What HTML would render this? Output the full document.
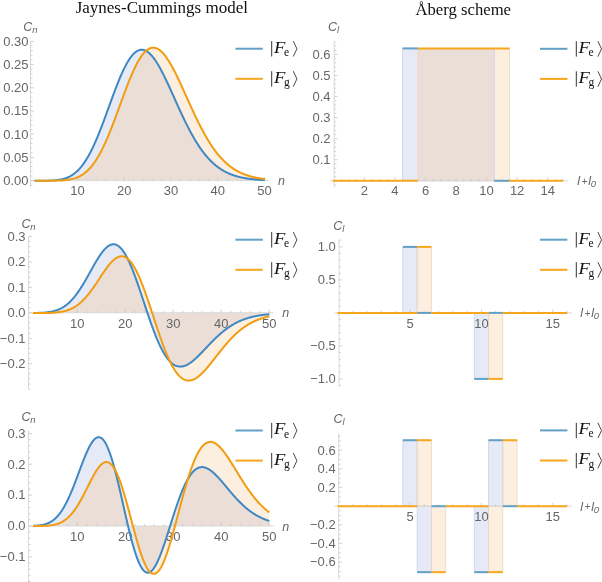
<!DOCTYPE html>
<html><head><meta charset="utf-8"><title>JC vs Aberg</title><style>
body{margin:0;background:#fff;}
svg{display:block;filter:blur(0.35px)}
.tk{font-family:"Liberation Sans",sans-serif;font-size:13px;fill:#666;}
.title{font-family:"Liberation Serif",serif;font-size:16.5px;fill:#111;}
.axl{font-family:"Liberation Sans",sans-serif;font-style:italic;font-size:12.5px;fill:#666;}
.axl2{font-family:"Liberation Sans",sans-serif;font-size:10px;fill:#666;}
.axs{font-family:"Liberation Sans",sans-serif;font-style:italic;font-size:9.5px;fill:#666;}
.lgF{font-family:"Liberation Serif",serif;font-style:italic;font-size:16px;fill:#111;}
.lgs{font-family:"Liberation Serif",serif;font-size:11.5px;fill:#111;}
</style></head>
<body><svg width="602" height="582" viewBox="0 0 602 582">
<rect width="602" height="582" fill="#fff"/>
<text x="75.7" y="12.9" textLength="172.2" lengthAdjust="spacingAndGlyphs" class="title">Jaynes-Cummings model</text>
<text x="415.5" y="14.5" textLength="95.5" lengthAdjust="spacingAndGlyphs" class="title">Åberg scheme</text>
<clipPath id="clipP1"><path d="M34.60,180.72 L35.10,180.72 L35.60,180.73 L36.10,180.73 L36.60,180.73 L37.10,180.73 L37.60,180.73 L38.10,180.73 L38.60,180.73 L39.10,180.73 L39.60,180.73 L40.10,180.73 L40.60,180.73 L41.10,180.73 L41.60,180.73 L42.10,180.73 L42.60,180.73 L43.10,180.73 L43.60,180.73 L44.10,180.72 L44.60,180.72 L45.10,180.71 L45.60,180.71 L46.10,180.70 L46.60,180.70 L47.10,180.69 L47.60,180.68 L48.10,180.67 L48.60,180.65 L49.10,180.64 L49.60,180.63 L50.10,180.61 L50.60,180.59 L51.10,180.57 L51.60,180.55 L52.10,180.52 L52.60,180.49 L53.10,180.46 L53.60,180.43 L54.10,180.39 L54.60,180.35 L55.10,180.31 L55.60,180.26 L56.10,180.21 L56.60,180.16 L57.10,180.10 L57.60,180.04 L58.10,179.97 L58.60,179.90 L59.10,179.82 L59.60,179.74 L60.10,179.65 L60.60,179.56 L61.10,179.46 L61.60,179.35 L62.10,179.24 L62.60,179.12 L63.10,178.99 L63.60,178.86 L64.10,178.71 L64.60,178.56 L65.10,178.40 L65.60,178.23 L66.10,178.05 L66.60,177.87 L67.10,177.67 L67.60,177.46 L68.10,177.25 L68.60,177.02 L69.10,176.78 L69.60,176.53 L70.10,176.27 L70.60,175.99 L71.10,175.70 L71.60,175.40 L72.10,175.09 L72.60,174.76 L73.10,174.42 L73.60,174.07 L74.10,173.70 L74.60,173.32 L75.10,172.92 L75.60,172.51 L76.10,172.08 L76.60,171.63 L77.10,171.17 L77.60,170.70 L78.10,170.20 L78.60,169.69 L79.10,169.16 L79.60,168.62 L80.10,168.05 L80.60,167.47 L81.10,166.87 L81.60,166.26 L82.10,165.62 L82.60,164.97 L83.10,164.30 L83.60,163.60 L84.10,162.89 L84.60,162.16 L85.10,161.42 L85.60,160.65 L86.10,159.86 L86.60,159.06 L87.10,158.23 L87.60,157.39 L88.10,156.52 L88.60,155.64 L89.10,154.74 L89.60,153.82 L90.10,152.88 L90.60,151.92 L91.10,150.94 L91.60,149.95 L92.10,148.94 L92.60,147.90 L93.10,146.86 L93.60,145.79 L94.10,144.70 L94.60,143.60 L95.10,142.49 L95.60,141.35 L96.10,140.20 L96.60,139.04 L97.10,137.86 L97.60,136.66 L98.10,135.45 L98.60,134.23 L99.10,132.99 L99.60,131.74 L100.10,130.48 L100.60,129.20 L101.10,127.92 L101.60,126.62 L102.10,125.31 L102.60,124.00 L103.10,122.67 L103.60,121.34 L104.10,120.00 L104.60,118.65 L105.10,117.29 L105.60,115.93 L106.10,114.57 L106.60,113.20 L107.10,111.83 L107.60,110.45 L108.10,109.07 L108.60,107.69 L109.10,106.31 L109.60,104.94 L110.10,103.56 L110.60,102.18 L111.10,100.81 L111.60,99.44 L112.10,98.07 L112.60,96.71 L113.10,95.36 L113.60,94.01 L114.10,92.67 L114.60,91.33 L115.10,90.01 L115.60,88.69 L116.10,87.39 L116.60,86.10 L117.10,84.82 L117.60,83.55 L118.10,82.30 L118.60,81.06 L119.10,79.83 L119.60,78.62 L120.10,77.43 L120.60,76.26 L121.10,75.10 L121.60,73.96 L122.10,72.85 L122.60,71.75 L123.10,70.67 L123.60,69.61 L124.10,68.58 L124.60,67.57 L125.10,66.58 L125.60,65.62 L126.10,64.68 L126.60,63.76 L127.10,62.87 L127.60,62.01 L128.10,61.17 L128.60,60.36 L129.10,59.58 L129.60,58.83 L130.10,58.10 L130.60,57.40 L131.10,56.73 L131.60,56.09 L132.10,55.48 L132.60,54.90 L133.10,54.35 L133.60,53.83 L134.10,53.34 L134.60,52.88 L135.10,52.45 L135.60,52.05 L136.10,51.69 L136.60,51.35 L137.10,51.05 L137.60,50.78 L138.10,50.54 L138.60,50.33 L139.10,50.15 L139.60,50.01 L140.10,49.89 L140.60,49.81 L141.10,49.76 L141.60,49.74 L142.10,49.75 L142.60,49.79 L143.10,49.86 L143.60,49.97 L144.10,50.10 L144.60,50.26 L145.10,50.46 L145.60,50.68 L146.10,50.93 L146.60,51.21 L147.10,51.52 L147.60,51.86 L148.10,52.22 L148.60,52.62 L149.10,53.04 L149.60,53.48 L150.10,53.96 L150.60,54.46 L151.10,54.98 L151.60,55.53 L152.10,56.11 L152.60,56.71 L153.10,57.33 L153.60,57.97 L154.10,58.64 L154.60,59.33 L155.10,60.04 L155.60,60.78 L156.10,61.53 L156.60,62.30 L157.10,63.09 L157.60,63.91 L158.10,64.74 L158.60,65.58 L159.10,66.45 L159.60,67.33 L160.10,68.23 L160.60,69.14 L161.10,70.07 L161.60,71.01 L162.10,71.96 L162.60,72.93 L163.10,73.91 L163.60,74.91 L164.10,75.91 L164.60,76.92 L165.10,77.95 L165.60,78.98 L166.10,80.03 L166.60,81.08 L167.10,82.14 L167.60,83.21 L168.10,84.28 L168.60,85.36 L169.10,86.45 L169.60,87.54 L170.10,88.64 L170.60,89.74 L171.10,90.84 L171.60,91.95 L172.10,93.06 L172.60,94.17 L173.10,95.28 L173.60,96.40 L174.10,97.51 L174.60,98.63 L175.10,99.74 L175.60,100.86 L176.10,101.97 L176.60,103.08 L177.10,104.19 L177.60,105.30 L178.10,106.40 L178.60,107.50 L179.10,108.60 L179.60,109.69 L180.10,110.78 L180.60,111.86 L181.10,112.94 L181.60,114.02 L182.10,115.08 L182.60,116.15 L183.10,117.20 L183.60,118.25 L184.10,119.29 L184.60,120.33 L185.10,121.36 L185.60,122.38 L186.10,123.39 L186.60,124.39 L187.10,125.39 L187.60,126.38 L188.10,127.35 L188.60,128.32 L189.10,129.28 L189.60,130.23 L190.10,131.18 L190.60,132.11 L191.10,133.03 L191.60,133.94 L192.10,134.84 L192.60,135.74 L193.10,136.62 L193.60,137.49 L194.10,138.35 L194.60,139.20 L195.10,140.04 L195.60,140.87 L196.10,141.69 L196.60,142.50 L197.10,143.29 L197.60,144.08 L198.10,144.85 L198.60,145.62 L199.10,146.37 L199.60,147.11 L200.10,147.84 L200.60,148.56 L201.10,149.27 L201.60,149.97 L202.10,150.66 L202.60,151.33 L203.10,152.00 L203.60,152.65 L204.10,153.30 L204.60,153.93 L205.10,154.55 L205.60,155.16 L206.10,155.77 L206.60,156.36 L207.10,156.94 L207.60,157.51 L208.10,158.07 L208.60,158.61 L209.10,159.15 L209.60,159.68 L210.10,160.20 L210.60,160.71 L211.10,161.21 L211.60,161.70 L212.10,162.18 L212.60,162.65 L213.10,163.11 L213.60,163.56 L214.10,164.00 L214.60,164.44 L215.10,164.86 L215.60,165.28 L216.10,165.68 L216.60,166.08 L217.10,166.47 L217.60,166.85 L218.10,167.22 L218.60,167.59 L219.10,167.95 L219.60,168.29 L220.10,168.63 L220.60,168.97 L221.10,169.29 L221.60,169.61 L222.10,169.92 L222.60,170.22 L223.10,170.52 L223.60,170.81 L224.10,171.09 L224.60,171.37 L225.10,171.63 L225.60,171.90 L226.10,172.15 L226.60,172.40 L227.10,172.64 L227.60,172.88 L228.10,173.11 L228.60,173.34 L229.10,173.56 L229.60,173.77 L230.10,173.98 L230.60,174.18 L231.10,174.38 L231.60,174.57 L232.10,174.76 L232.60,174.94 L233.10,175.12 L233.60,175.29 L234.10,175.46 L234.60,175.62 L235.10,175.78 L235.60,175.94 L236.10,176.09 L236.60,176.23 L237.10,176.38 L237.60,176.51 L238.10,176.65 L238.60,176.78 L239.10,176.90 L239.60,177.03 L240.10,177.15 L240.60,177.26 L241.10,177.38 L241.60,177.49 L242.10,177.59 L242.60,177.69 L243.10,177.79 L243.60,177.89 L244.10,177.99 L244.60,178.08 L245.10,178.17 L245.60,178.25 L246.10,178.33 L246.60,178.42 L247.10,178.49 L247.60,178.57 L248.10,178.64 L248.60,178.71 L249.10,178.78 L249.60,178.85 L250.10,178.91 L250.60,178.98 L251.10,179.04 L251.60,179.10 L252.10,179.15 L252.60,179.21 L253.10,179.26 L253.60,179.31 L254.10,179.36 L254.60,179.41 L255.10,179.46 L255.60,179.50 L256.10,179.54 L256.60,179.59 L257.10,179.63 L257.60,179.67 L258.10,179.70 L258.60,179.74 L259.10,179.78 L259.60,179.81 L260.10,179.84 L260.60,179.88 L261.10,179.91 L261.60,179.94 L262.10,179.97 L262.60,179.99 L263.10,180.02 L263.60,180.05 L264.10,180.07 L264.60,180.09 L264.80,180.10 L264.80,180.60 L34.60,180.60 Z"/></clipPath>
<path d="M34.60,180.72 L35.10,180.72 L35.60,180.73 L36.10,180.73 L36.60,180.73 L37.10,180.73 L37.60,180.73 L38.10,180.73 L38.60,180.73 L39.10,180.73 L39.60,180.73 L40.10,180.73 L40.60,180.73 L41.10,180.73 L41.60,180.73 L42.10,180.73 L42.60,180.73 L43.10,180.73 L43.60,180.73 L44.10,180.72 L44.60,180.72 L45.10,180.71 L45.60,180.71 L46.10,180.70 L46.60,180.70 L47.10,180.69 L47.60,180.68 L48.10,180.67 L48.60,180.65 L49.10,180.64 L49.60,180.63 L50.10,180.61 L50.60,180.59 L51.10,180.57 L51.60,180.55 L52.10,180.52 L52.60,180.49 L53.10,180.46 L53.60,180.43 L54.10,180.39 L54.60,180.35 L55.10,180.31 L55.60,180.26 L56.10,180.21 L56.60,180.16 L57.10,180.10 L57.60,180.04 L58.10,179.97 L58.60,179.90 L59.10,179.82 L59.60,179.74 L60.10,179.65 L60.60,179.56 L61.10,179.46 L61.60,179.35 L62.10,179.24 L62.60,179.12 L63.10,178.99 L63.60,178.86 L64.10,178.71 L64.60,178.56 L65.10,178.40 L65.60,178.23 L66.10,178.05 L66.60,177.87 L67.10,177.67 L67.60,177.46 L68.10,177.25 L68.60,177.02 L69.10,176.78 L69.60,176.53 L70.10,176.27 L70.60,175.99 L71.10,175.70 L71.60,175.40 L72.10,175.09 L72.60,174.76 L73.10,174.42 L73.60,174.07 L74.10,173.70 L74.60,173.32 L75.10,172.92 L75.60,172.51 L76.10,172.08 L76.60,171.63 L77.10,171.17 L77.60,170.70 L78.10,170.20 L78.60,169.69 L79.10,169.16 L79.60,168.62 L80.10,168.05 L80.60,167.47 L81.10,166.87 L81.60,166.26 L82.10,165.62 L82.60,164.97 L83.10,164.30 L83.60,163.60 L84.10,162.89 L84.60,162.16 L85.10,161.42 L85.60,160.65 L86.10,159.86 L86.60,159.06 L87.10,158.23 L87.60,157.39 L88.10,156.52 L88.60,155.64 L89.10,154.74 L89.60,153.82 L90.10,152.88 L90.60,151.92 L91.10,150.94 L91.60,149.95 L92.10,148.94 L92.60,147.90 L93.10,146.86 L93.60,145.79 L94.10,144.70 L94.60,143.60 L95.10,142.49 L95.60,141.35 L96.10,140.20 L96.60,139.04 L97.10,137.86 L97.60,136.66 L98.10,135.45 L98.60,134.23 L99.10,132.99 L99.60,131.74 L100.10,130.48 L100.60,129.20 L101.10,127.92 L101.60,126.62 L102.10,125.31 L102.60,124.00 L103.10,122.67 L103.60,121.34 L104.10,120.00 L104.60,118.65 L105.10,117.29 L105.60,115.93 L106.10,114.57 L106.60,113.20 L107.10,111.83 L107.60,110.45 L108.10,109.07 L108.60,107.69 L109.10,106.31 L109.60,104.94 L110.10,103.56 L110.60,102.18 L111.10,100.81 L111.60,99.44 L112.10,98.07 L112.60,96.71 L113.10,95.36 L113.60,94.01 L114.10,92.67 L114.60,91.33 L115.10,90.01 L115.60,88.69 L116.10,87.39 L116.60,86.10 L117.10,84.82 L117.60,83.55 L118.10,82.30 L118.60,81.06 L119.10,79.83 L119.60,78.62 L120.10,77.43 L120.60,76.26 L121.10,75.10 L121.60,73.96 L122.10,72.85 L122.60,71.75 L123.10,70.67 L123.60,69.61 L124.10,68.58 L124.60,67.57 L125.10,66.58 L125.60,65.62 L126.10,64.68 L126.60,63.76 L127.10,62.87 L127.60,62.01 L128.10,61.17 L128.60,60.36 L129.10,59.58 L129.60,58.83 L130.10,58.10 L130.60,57.40 L131.10,56.73 L131.60,56.09 L132.10,55.48 L132.60,54.90 L133.10,54.35 L133.60,53.83 L134.10,53.34 L134.60,52.88 L135.10,52.45 L135.60,52.05 L136.10,51.69 L136.60,51.35 L137.10,51.05 L137.60,50.78 L138.10,50.54 L138.60,50.33 L139.10,50.15 L139.60,50.01 L140.10,49.89 L140.60,49.81 L141.10,49.76 L141.60,49.74 L142.10,49.75 L142.60,49.79 L143.10,49.86 L143.60,49.97 L144.10,50.10 L144.60,50.26 L145.10,50.46 L145.60,50.68 L146.10,50.93 L146.60,51.21 L147.10,51.52 L147.60,51.86 L148.10,52.22 L148.60,52.62 L149.10,53.04 L149.60,53.48 L150.10,53.96 L150.60,54.46 L151.10,54.98 L151.60,55.53 L152.10,56.11 L152.60,56.71 L153.10,57.33 L153.60,57.97 L154.10,58.64 L154.60,59.33 L155.10,60.04 L155.60,60.78 L156.10,61.53 L156.60,62.30 L157.10,63.09 L157.60,63.91 L158.10,64.74 L158.60,65.58 L159.10,66.45 L159.60,67.33 L160.10,68.23 L160.60,69.14 L161.10,70.07 L161.60,71.01 L162.10,71.96 L162.60,72.93 L163.10,73.91 L163.60,74.91 L164.10,75.91 L164.60,76.92 L165.10,77.95 L165.60,78.98 L166.10,80.03 L166.60,81.08 L167.10,82.14 L167.60,83.21 L168.10,84.28 L168.60,85.36 L169.10,86.45 L169.60,87.54 L170.10,88.64 L170.60,89.74 L171.10,90.84 L171.60,91.95 L172.10,93.06 L172.60,94.17 L173.10,95.28 L173.60,96.40 L174.10,97.51 L174.60,98.63 L175.10,99.74 L175.60,100.86 L176.10,101.97 L176.60,103.08 L177.10,104.19 L177.60,105.30 L178.10,106.40 L178.60,107.50 L179.10,108.60 L179.60,109.69 L180.10,110.78 L180.60,111.86 L181.10,112.94 L181.60,114.02 L182.10,115.08 L182.60,116.15 L183.10,117.20 L183.60,118.25 L184.10,119.29 L184.60,120.33 L185.10,121.36 L185.60,122.38 L186.10,123.39 L186.60,124.39 L187.10,125.39 L187.60,126.38 L188.10,127.35 L188.60,128.32 L189.10,129.28 L189.60,130.23 L190.10,131.18 L190.60,132.11 L191.10,133.03 L191.60,133.94 L192.10,134.84 L192.60,135.74 L193.10,136.62 L193.60,137.49 L194.10,138.35 L194.60,139.20 L195.10,140.04 L195.60,140.87 L196.10,141.69 L196.60,142.50 L197.10,143.29 L197.60,144.08 L198.10,144.85 L198.60,145.62 L199.10,146.37 L199.60,147.11 L200.10,147.84 L200.60,148.56 L201.10,149.27 L201.60,149.97 L202.10,150.66 L202.60,151.33 L203.10,152.00 L203.60,152.65 L204.10,153.30 L204.60,153.93 L205.10,154.55 L205.60,155.16 L206.10,155.77 L206.60,156.36 L207.10,156.94 L207.60,157.51 L208.10,158.07 L208.60,158.61 L209.10,159.15 L209.60,159.68 L210.10,160.20 L210.60,160.71 L211.10,161.21 L211.60,161.70 L212.10,162.18 L212.60,162.65 L213.10,163.11 L213.60,163.56 L214.10,164.00 L214.60,164.44 L215.10,164.86 L215.60,165.28 L216.10,165.68 L216.60,166.08 L217.10,166.47 L217.60,166.85 L218.10,167.22 L218.60,167.59 L219.10,167.95 L219.60,168.29 L220.10,168.63 L220.60,168.97 L221.10,169.29 L221.60,169.61 L222.10,169.92 L222.60,170.22 L223.10,170.52 L223.60,170.81 L224.10,171.09 L224.60,171.37 L225.10,171.63 L225.60,171.90 L226.10,172.15 L226.60,172.40 L227.10,172.64 L227.60,172.88 L228.10,173.11 L228.60,173.34 L229.10,173.56 L229.60,173.77 L230.10,173.98 L230.60,174.18 L231.10,174.38 L231.60,174.57 L232.10,174.76 L232.60,174.94 L233.10,175.12 L233.60,175.29 L234.10,175.46 L234.60,175.62 L235.10,175.78 L235.60,175.94 L236.10,176.09 L236.60,176.23 L237.10,176.38 L237.60,176.51 L238.10,176.65 L238.60,176.78 L239.10,176.90 L239.60,177.03 L240.10,177.15 L240.60,177.26 L241.10,177.38 L241.60,177.49 L242.10,177.59 L242.60,177.69 L243.10,177.79 L243.60,177.89 L244.10,177.99 L244.60,178.08 L245.10,178.17 L245.60,178.25 L246.10,178.33 L246.60,178.42 L247.10,178.49 L247.60,178.57 L248.10,178.64 L248.60,178.71 L249.10,178.78 L249.60,178.85 L250.10,178.91 L250.60,178.98 L251.10,179.04 L251.60,179.10 L252.10,179.15 L252.60,179.21 L253.10,179.26 L253.60,179.31 L254.10,179.36 L254.60,179.41 L255.10,179.46 L255.60,179.50 L256.10,179.54 L256.60,179.59 L257.10,179.63 L257.60,179.67 L258.10,179.70 L258.60,179.74 L259.10,179.78 L259.60,179.81 L260.10,179.84 L260.60,179.88 L261.10,179.91 L261.60,179.94 L262.10,179.97 L262.60,179.99 L263.10,180.02 L263.60,180.05 L264.10,180.07 L264.60,180.09 L264.80,180.10 L264.80,180.60 L34.60,180.60 Z" fill="#E6EAF7"/>
<path d="M34.60,180.70 L35.10,180.70 L35.60,180.70 L36.10,180.70 L36.60,180.70 L37.10,180.70 L37.60,180.71 L38.10,180.71 L38.60,180.71 L39.10,180.71 L39.60,180.71 L40.10,180.71 L40.60,180.71 L41.10,180.71 L41.60,180.71 L42.10,180.71 L42.60,180.71 L43.10,180.71 L43.60,180.71 L44.10,180.71 L44.60,180.71 L45.10,180.71 L45.60,180.71 L46.10,180.71 L46.60,180.71 L47.10,180.71 L47.60,180.71 L48.10,180.71 L48.60,180.71 L49.10,180.71 L49.60,180.71 L50.10,180.71 L50.60,180.70 L51.10,180.70 L51.60,180.70 L52.10,180.69 L52.60,180.69 L53.10,180.69 L53.60,180.68 L54.10,180.67 L54.60,180.67 L55.10,180.66 L55.60,180.65 L56.10,180.64 L56.60,180.63 L57.10,180.62 L57.60,180.60 L58.10,180.59 L58.60,180.57 L59.10,180.56 L59.60,180.54 L60.10,180.51 L60.60,180.49 L61.10,180.47 L61.60,180.44 L62.10,180.41 L62.60,180.37 L63.10,180.34 L63.60,180.30 L64.10,180.26 L64.60,180.22 L65.10,180.17 L65.60,180.12 L66.10,180.06 L66.60,180.00 L67.10,179.94 L67.60,179.87 L68.10,179.80 L68.60,179.72 L69.10,179.64 L69.60,179.55 L70.10,179.46 L70.60,179.36 L71.10,179.26 L71.60,179.15 L72.10,179.03 L72.60,178.90 L73.10,178.77 L73.60,178.63 L74.10,178.49 L74.60,178.33 L75.10,178.17 L75.60,178.00 L76.10,177.82 L76.60,177.63 L77.10,177.43 L77.60,177.22 L78.10,177.00 L78.60,176.78 L79.10,176.54 L79.60,176.29 L80.10,176.02 L80.60,175.75 L81.10,175.47 L81.60,175.17 L82.10,174.86 L82.60,174.54 L83.10,174.20 L83.60,173.85 L84.10,173.49 L84.60,173.11 L85.10,172.72 L85.60,172.31 L86.10,171.89 L86.60,171.46 L87.10,171.00 L87.60,170.54 L88.10,170.05 L88.60,169.55 L89.10,169.04 L89.60,168.51 L90.10,167.96 L90.60,167.39 L91.10,166.81 L91.60,166.21 L92.10,165.59 L92.60,164.95 L93.10,164.30 L93.60,163.62 L94.10,162.93 L94.60,162.22 L95.10,161.49 L95.60,160.75 L96.10,159.98 L96.60,159.20 L97.10,158.40 L97.60,157.58 L98.10,156.74 L98.60,155.88 L99.10,155.00 L99.60,154.11 L100.10,153.20 L100.60,152.27 L101.10,151.32 L101.60,150.35 L102.10,149.36 L102.60,148.36 L103.10,147.34 L103.60,146.30 L104.10,145.24 L104.60,144.17 L105.10,143.08 L105.60,141.98 L106.10,140.86 L106.60,139.72 L107.10,138.57 L107.60,137.40 L108.10,136.22 L108.60,135.02 L109.10,133.81 L109.60,132.59 L110.10,131.36 L110.60,130.11 L111.10,128.85 L111.60,127.58 L112.10,126.30 L112.60,125.00 L113.10,123.70 L113.60,122.39 L114.10,121.07 L114.60,119.74 L115.10,118.41 L115.60,117.07 L116.10,115.72 L116.60,114.37 L117.10,113.01 L117.60,111.65 L118.10,110.29 L118.60,108.92 L119.10,107.55 L119.60,106.18 L120.10,104.81 L120.60,103.44 L121.10,102.07 L121.60,100.70 L122.10,99.34 L122.60,97.98 L123.10,96.62 L123.60,95.27 L124.10,93.92 L124.60,92.58 L125.10,91.24 L125.60,89.92 L126.10,88.60 L126.60,87.29 L127.10,86.00 L127.60,84.71 L128.10,83.43 L128.60,82.17 L129.10,80.92 L129.60,79.69 L130.10,78.47 L130.60,77.26 L131.10,76.07 L131.60,74.90 L132.10,73.74 L132.60,72.61 L133.10,71.49 L133.60,70.39 L134.10,69.31 L134.60,68.25 L135.10,67.21 L135.60,66.20 L136.10,65.20 L136.60,64.23 L137.10,63.29 L137.60,62.36 L138.10,61.46 L138.60,60.59 L139.10,59.74 L139.60,58.92 L140.10,58.13 L140.60,57.36 L141.10,56.62 L141.60,55.90 L142.10,55.22 L142.60,54.56 L143.10,53.93 L143.60,53.33 L144.10,52.76 L144.60,52.22 L145.10,51.71 L145.60,51.23 L146.10,50.78 L146.60,50.36 L147.10,49.97 L147.60,49.61 L148.10,49.28 L148.60,48.98 L149.10,48.71 L149.60,48.48 L150.10,48.27 L150.60,48.10 L151.10,47.95 L151.60,47.84 L152.10,47.76 L152.60,47.70 L153.10,47.68 L153.60,47.69 L154.10,47.73 L154.60,47.80 L155.10,47.90 L155.60,48.03 L156.10,48.18 L156.60,48.37 L157.10,48.59 L157.60,48.83 L158.10,49.11 L158.60,49.41 L159.10,49.74 L159.60,50.09 L160.10,50.48 L160.60,50.89 L161.10,51.33 L161.60,51.79 L162.10,52.28 L162.60,52.79 L163.10,53.33 L163.60,53.89 L164.10,54.48 L164.60,55.09 L165.10,55.72 L165.60,56.38 L166.10,57.06 L166.60,57.75 L167.10,58.47 L167.60,59.21 L168.10,59.97 L168.60,60.75 L169.10,61.55 L169.60,62.37 L170.10,63.20 L170.60,64.05 L171.10,64.92 L171.60,65.80 L172.10,66.70 L172.60,67.62 L173.10,68.55 L173.60,69.49 L174.10,70.44 L174.60,71.41 L175.10,72.39 L175.60,73.39 L176.10,74.39 L176.60,75.40 L177.10,76.43 L177.60,77.46 L178.10,78.50 L178.60,79.55 L179.10,80.61 L179.60,81.68 L180.10,82.75 L180.60,83.83 L181.10,84.91 L181.60,86.00 L182.10,87.09 L182.60,88.19 L183.10,89.29 L183.60,90.40 L184.10,91.50 L184.60,92.61 L185.10,93.72 L185.60,94.83 L186.10,95.95 L186.60,97.06 L187.10,98.17 L187.60,99.28 L188.10,100.39 L188.60,101.50 L189.10,102.61 L189.60,103.72 L190.10,104.82 L190.60,105.92 L191.10,107.01 L191.60,108.11 L192.10,109.20 L192.60,110.28 L193.10,111.36 L193.60,112.43 L194.10,113.50 L194.60,114.56 L195.10,115.62 L195.60,116.67 L196.10,117.72 L196.60,118.75 L197.10,119.78 L197.60,120.81 L198.10,121.82 L198.60,122.83 L199.10,123.83 L199.60,124.82 L200.10,125.80 L200.60,126.77 L201.10,127.74 L201.60,128.70 L202.10,129.64 L202.60,130.58 L203.10,131.51 L203.60,132.43 L204.10,133.33 L204.60,134.23 L205.10,135.12 L205.60,136.00 L206.10,136.87 L206.60,137.73 L207.10,138.58 L207.60,139.41 L208.10,140.24 L208.60,141.06 L209.10,141.86 L209.60,142.66 L210.10,143.44 L210.60,144.22 L211.10,144.98 L211.60,145.73 L212.10,146.47 L212.60,147.21 L213.10,147.93 L213.60,148.64 L214.10,149.33 L214.60,150.02 L215.10,150.70 L215.60,151.37 L216.10,152.02 L216.60,152.67 L217.10,153.30 L217.60,153.93 L218.10,154.54 L218.60,155.14 L219.10,155.74 L219.60,156.32 L220.10,156.89 L220.60,157.46 L221.10,158.01 L221.60,158.55 L222.10,159.08 L222.60,159.61 L223.10,160.12 L223.60,160.62 L224.10,161.12 L224.60,161.60 L225.10,162.07 L225.60,162.54 L226.10,163.00 L226.60,163.44 L227.10,163.88 L227.60,164.31 L228.10,164.73 L228.60,165.14 L229.10,165.55 L229.60,165.94 L230.10,166.33 L230.60,166.71 L231.10,167.08 L231.60,167.44 L232.10,167.79 L232.60,168.14 L233.10,168.48 L233.60,168.81 L234.10,169.13 L234.60,169.45 L235.10,169.76 L235.60,170.06 L236.10,170.35 L236.60,170.64 L237.10,170.92 L237.60,171.20 L238.10,171.47 L238.60,171.73 L239.10,171.98 L239.60,172.23 L240.10,172.48 L240.60,172.71 L241.10,172.95 L241.60,173.17 L242.10,173.39 L242.60,173.61 L243.10,173.82 L243.60,174.02 L244.10,174.22 L244.60,174.41 L245.10,174.60 L245.60,174.78 L246.10,174.96 L246.60,175.14 L247.10,175.31 L247.60,175.47 L248.10,175.63 L248.60,175.79 L249.10,175.94 L249.60,176.09 L250.10,176.23 L250.60,176.37 L251.10,176.51 L251.60,176.64 L252.10,176.77 L252.60,176.89 L253.10,177.01 L253.60,177.13 L254.10,177.24 L254.60,177.36 L255.10,177.46 L255.60,177.57 L256.10,177.67 L256.60,177.77 L257.10,177.87 L257.60,177.96 L258.10,178.05 L258.60,178.14 L259.10,178.22 L259.60,178.31 L260.10,178.39 L260.60,178.46 L261.10,178.54 L261.60,178.61 L262.10,178.68 L262.60,178.75 L263.10,178.82 L263.60,178.88 L264.10,178.94 L264.60,179.00 L264.80,179.03 L264.80,180.60 L34.60,180.60 Z" fill="#FDEFDF"/>
<path d="M34.60,180.70 L35.10,180.70 L35.60,180.70 L36.10,180.70 L36.60,180.70 L37.10,180.70 L37.60,180.71 L38.10,180.71 L38.60,180.71 L39.10,180.71 L39.60,180.71 L40.10,180.71 L40.60,180.71 L41.10,180.71 L41.60,180.71 L42.10,180.71 L42.60,180.71 L43.10,180.71 L43.60,180.71 L44.10,180.71 L44.60,180.71 L45.10,180.71 L45.60,180.71 L46.10,180.71 L46.60,180.71 L47.10,180.71 L47.60,180.71 L48.10,180.71 L48.60,180.71 L49.10,180.71 L49.60,180.71 L50.10,180.71 L50.60,180.70 L51.10,180.70 L51.60,180.70 L52.10,180.69 L52.60,180.69 L53.10,180.69 L53.60,180.68 L54.10,180.67 L54.60,180.67 L55.10,180.66 L55.60,180.65 L56.10,180.64 L56.60,180.63 L57.10,180.62 L57.60,180.60 L58.10,180.59 L58.60,180.57 L59.10,180.56 L59.60,180.54 L60.10,180.51 L60.60,180.49 L61.10,180.47 L61.60,180.44 L62.10,180.41 L62.60,180.37 L63.10,180.34 L63.60,180.30 L64.10,180.26 L64.60,180.22 L65.10,180.17 L65.60,180.12 L66.10,180.06 L66.60,180.00 L67.10,179.94 L67.60,179.87 L68.10,179.80 L68.60,179.72 L69.10,179.64 L69.60,179.55 L70.10,179.46 L70.60,179.36 L71.10,179.26 L71.60,179.15 L72.10,179.03 L72.60,178.90 L73.10,178.77 L73.60,178.63 L74.10,178.49 L74.60,178.33 L75.10,178.17 L75.60,178.00 L76.10,177.82 L76.60,177.63 L77.10,177.43 L77.60,177.22 L78.10,177.00 L78.60,176.78 L79.10,176.54 L79.60,176.29 L80.10,176.02 L80.60,175.75 L81.10,175.47 L81.60,175.17 L82.10,174.86 L82.60,174.54 L83.10,174.20 L83.60,173.85 L84.10,173.49 L84.60,173.11 L85.10,172.72 L85.60,172.31 L86.10,171.89 L86.60,171.46 L87.10,171.00 L87.60,170.54 L88.10,170.05 L88.60,169.55 L89.10,169.04 L89.60,168.51 L90.10,167.96 L90.60,167.39 L91.10,166.81 L91.60,166.21 L92.10,165.59 L92.60,164.95 L93.10,164.30 L93.60,163.62 L94.10,162.93 L94.60,162.22 L95.10,161.49 L95.60,160.75 L96.10,159.98 L96.60,159.20 L97.10,158.40 L97.60,157.58 L98.10,156.74 L98.60,155.88 L99.10,155.00 L99.60,154.11 L100.10,153.20 L100.60,152.27 L101.10,151.32 L101.60,150.35 L102.10,149.36 L102.60,148.36 L103.10,147.34 L103.60,146.30 L104.10,145.24 L104.60,144.17 L105.10,143.08 L105.60,141.98 L106.10,140.86 L106.60,139.72 L107.10,138.57 L107.60,137.40 L108.10,136.22 L108.60,135.02 L109.10,133.81 L109.60,132.59 L110.10,131.36 L110.60,130.11 L111.10,128.85 L111.60,127.58 L112.10,126.30 L112.60,125.00 L113.10,123.70 L113.60,122.39 L114.10,121.07 L114.60,119.74 L115.10,118.41 L115.60,117.07 L116.10,115.72 L116.60,114.37 L117.10,113.01 L117.60,111.65 L118.10,110.29 L118.60,108.92 L119.10,107.55 L119.60,106.18 L120.10,104.81 L120.60,103.44 L121.10,102.07 L121.60,100.70 L122.10,99.34 L122.60,97.98 L123.10,96.62 L123.60,95.27 L124.10,93.92 L124.60,92.58 L125.10,91.24 L125.60,89.92 L126.10,88.60 L126.60,87.29 L127.10,86.00 L127.60,84.71 L128.10,83.43 L128.60,82.17 L129.10,80.92 L129.60,79.69 L130.10,78.47 L130.60,77.26 L131.10,76.07 L131.60,74.90 L132.10,73.74 L132.60,72.61 L133.10,71.49 L133.60,70.39 L134.10,69.31 L134.60,68.25 L135.10,67.21 L135.60,66.20 L136.10,65.20 L136.60,64.23 L137.10,63.29 L137.60,62.36 L138.10,61.46 L138.60,60.59 L139.10,59.74 L139.60,58.92 L140.10,58.13 L140.60,57.36 L141.10,56.62 L141.60,55.90 L142.10,55.22 L142.60,54.56 L143.10,53.93 L143.60,53.33 L144.10,52.76 L144.60,52.22 L145.10,51.71 L145.60,51.23 L146.10,50.78 L146.60,50.36 L147.10,49.97 L147.60,49.61 L148.10,49.28 L148.60,48.98 L149.10,48.71 L149.60,48.48 L150.10,48.27 L150.60,48.10 L151.10,47.95 L151.60,47.84 L152.10,47.76 L152.60,47.70 L153.10,47.68 L153.60,47.69 L154.10,47.73 L154.60,47.80 L155.10,47.90 L155.60,48.03 L156.10,48.18 L156.60,48.37 L157.10,48.59 L157.60,48.83 L158.10,49.11 L158.60,49.41 L159.10,49.74 L159.60,50.09 L160.10,50.48 L160.60,50.89 L161.10,51.33 L161.60,51.79 L162.10,52.28 L162.60,52.79 L163.10,53.33 L163.60,53.89 L164.10,54.48 L164.60,55.09 L165.10,55.72 L165.60,56.38 L166.10,57.06 L166.60,57.75 L167.10,58.47 L167.60,59.21 L168.10,59.97 L168.60,60.75 L169.10,61.55 L169.60,62.37 L170.10,63.20 L170.60,64.05 L171.10,64.92 L171.60,65.80 L172.10,66.70 L172.60,67.62 L173.10,68.55 L173.60,69.49 L174.10,70.44 L174.60,71.41 L175.10,72.39 L175.60,73.39 L176.10,74.39 L176.60,75.40 L177.10,76.43 L177.60,77.46 L178.10,78.50 L178.60,79.55 L179.10,80.61 L179.60,81.68 L180.10,82.75 L180.60,83.83 L181.10,84.91 L181.60,86.00 L182.10,87.09 L182.60,88.19 L183.10,89.29 L183.60,90.40 L184.10,91.50 L184.60,92.61 L185.10,93.72 L185.60,94.83 L186.10,95.95 L186.60,97.06 L187.10,98.17 L187.60,99.28 L188.10,100.39 L188.60,101.50 L189.10,102.61 L189.60,103.72 L190.10,104.82 L190.60,105.92 L191.10,107.01 L191.60,108.11 L192.10,109.20 L192.60,110.28 L193.10,111.36 L193.60,112.43 L194.10,113.50 L194.60,114.56 L195.10,115.62 L195.60,116.67 L196.10,117.72 L196.60,118.75 L197.10,119.78 L197.60,120.81 L198.10,121.82 L198.60,122.83 L199.10,123.83 L199.60,124.82 L200.10,125.80 L200.60,126.77 L201.10,127.74 L201.60,128.70 L202.10,129.64 L202.60,130.58 L203.10,131.51 L203.60,132.43 L204.10,133.33 L204.60,134.23 L205.10,135.12 L205.60,136.00 L206.10,136.87 L206.60,137.73 L207.10,138.58 L207.60,139.41 L208.10,140.24 L208.60,141.06 L209.10,141.86 L209.60,142.66 L210.10,143.44 L210.60,144.22 L211.10,144.98 L211.60,145.73 L212.10,146.47 L212.60,147.21 L213.10,147.93 L213.60,148.64 L214.10,149.33 L214.60,150.02 L215.10,150.70 L215.60,151.37 L216.10,152.02 L216.60,152.67 L217.10,153.30 L217.60,153.93 L218.10,154.54 L218.60,155.14 L219.10,155.74 L219.60,156.32 L220.10,156.89 L220.60,157.46 L221.10,158.01 L221.60,158.55 L222.10,159.08 L222.60,159.61 L223.10,160.12 L223.60,160.62 L224.10,161.12 L224.60,161.60 L225.10,162.07 L225.60,162.54 L226.10,163.00 L226.60,163.44 L227.10,163.88 L227.60,164.31 L228.10,164.73 L228.60,165.14 L229.10,165.55 L229.60,165.94 L230.10,166.33 L230.60,166.71 L231.10,167.08 L231.60,167.44 L232.10,167.79 L232.60,168.14 L233.10,168.48 L233.60,168.81 L234.10,169.13 L234.60,169.45 L235.10,169.76 L235.60,170.06 L236.10,170.35 L236.60,170.64 L237.10,170.92 L237.60,171.20 L238.10,171.47 L238.60,171.73 L239.10,171.98 L239.60,172.23 L240.10,172.48 L240.60,172.71 L241.10,172.95 L241.60,173.17 L242.10,173.39 L242.60,173.61 L243.10,173.82 L243.60,174.02 L244.10,174.22 L244.60,174.41 L245.10,174.60 L245.60,174.78 L246.10,174.96 L246.60,175.14 L247.10,175.31 L247.60,175.47 L248.10,175.63 L248.60,175.79 L249.10,175.94 L249.60,176.09 L250.10,176.23 L250.60,176.37 L251.10,176.51 L251.60,176.64 L252.10,176.77 L252.60,176.89 L253.10,177.01 L253.60,177.13 L254.10,177.24 L254.60,177.36 L255.10,177.46 L255.60,177.57 L256.10,177.67 L256.60,177.77 L257.10,177.87 L257.60,177.96 L258.10,178.05 L258.60,178.14 L259.10,178.22 L259.60,178.31 L260.10,178.39 L260.60,178.46 L261.10,178.54 L261.60,178.61 L262.10,178.68 L262.60,178.75 L263.10,178.82 L263.60,178.88 L264.10,178.94 L264.60,179.00 L264.80,179.03 L264.80,180.60 L34.60,180.60 Z" fill="#EBDED6" clip-path="url(#clipP1)"/>
<text x="28.5" y="184.90" text-anchor="end" class="tk">0.00</text>
<text x="28.5" y="161.70" text-anchor="end" class="tk">0.05</text>
<text x="28.5" y="138.50" text-anchor="end" class="tk">0.10</text>
<text x="28.5" y="115.30" text-anchor="end" class="tk">0.15</text>
<text x="28.5" y="92.10" text-anchor="end" class="tk">0.20</text>
<text x="28.5" y="68.90" text-anchor="end" class="tk">0.25</text>
<text x="28.5" y="45.70" text-anchor="end" class="tk">0.30</text>
<text x="77.40" y="195.40" text-anchor="middle" class="tk">10</text>
<text x="124.20" y="195.40" text-anchor="middle" class="tk">20</text>
<text x="171.00" y="195.40" text-anchor="middle" class="tk">30</text>
<text x="217.80" y="195.40" text-anchor="middle" class="tk">40</text>
<text x="264.60" y="195.40" text-anchor="middle" class="tk">50</text>
<line x1="30.5" y1="41.4" x2="30.5" y2="187.5" stroke="#d9d9d9" stroke-width="1"/>
<line x1="30.5" y1="180.6" x2="269" y2="180.6" stroke="#d9d9d9" stroke-width="1"/>
<line x1="30.5" y1="180.60" x2="34.0" y2="180.60" stroke="#c8c8c8" stroke-width="0.8"/>
<line x1="30.5" y1="157.40" x2="34.0" y2="157.40" stroke="#c8c8c8" stroke-width="0.8"/>
<line x1="30.5" y1="134.20" x2="34.0" y2="134.20" stroke="#c8c8c8" stroke-width="0.8"/>
<line x1="30.5" y1="111.00" x2="34.0" y2="111.00" stroke="#c8c8c8" stroke-width="0.8"/>
<line x1="30.5" y1="87.80" x2="34.0" y2="87.80" stroke="#c8c8c8" stroke-width="0.8"/>
<line x1="30.5" y1="64.60" x2="34.0" y2="64.60" stroke="#c8c8c8" stroke-width="0.8"/>
<line x1="30.5" y1="41.40" x2="34.0" y2="41.40" stroke="#c8c8c8" stroke-width="0.8"/>
<line x1="30.5" y1="185.24" x2="32.5" y2="185.24" stroke="#c8c8c8" stroke-width="0.8"/>
<line x1="30.5" y1="175.96" x2="32.5" y2="175.96" stroke="#c8c8c8" stroke-width="0.8"/>
<line x1="30.5" y1="171.32" x2="32.5" y2="171.32" stroke="#c8c8c8" stroke-width="0.8"/>
<line x1="30.5" y1="166.68" x2="32.5" y2="166.68" stroke="#c8c8c8" stroke-width="0.8"/>
<line x1="30.5" y1="162.04" x2="32.5" y2="162.04" stroke="#c8c8c8" stroke-width="0.8"/>
<line x1="30.5" y1="152.76" x2="32.5" y2="152.76" stroke="#c8c8c8" stroke-width="0.8"/>
<line x1="30.5" y1="148.12" x2="32.5" y2="148.12" stroke="#c8c8c8" stroke-width="0.8"/>
<line x1="30.5" y1="143.48" x2="32.5" y2="143.48" stroke="#c8c8c8" stroke-width="0.8"/>
<line x1="30.5" y1="138.84" x2="32.5" y2="138.84" stroke="#c8c8c8" stroke-width="0.8"/>
<line x1="30.5" y1="129.56" x2="32.5" y2="129.56" stroke="#c8c8c8" stroke-width="0.8"/>
<line x1="30.5" y1="124.92" x2="32.5" y2="124.92" stroke="#c8c8c8" stroke-width="0.8"/>
<line x1="30.5" y1="120.28" x2="32.5" y2="120.28" stroke="#c8c8c8" stroke-width="0.8"/>
<line x1="30.5" y1="115.64" x2="32.5" y2="115.64" stroke="#c8c8c8" stroke-width="0.8"/>
<line x1="30.5" y1="106.36" x2="32.5" y2="106.36" stroke="#c8c8c8" stroke-width="0.8"/>
<line x1="30.5" y1="101.72" x2="32.5" y2="101.72" stroke="#c8c8c8" stroke-width="0.8"/>
<line x1="30.5" y1="97.08" x2="32.5" y2="97.08" stroke="#c8c8c8" stroke-width="0.8"/>
<line x1="30.5" y1="92.44" x2="32.5" y2="92.44" stroke="#c8c8c8" stroke-width="0.8"/>
<line x1="30.5" y1="83.16" x2="32.5" y2="83.16" stroke="#c8c8c8" stroke-width="0.8"/>
<line x1="30.5" y1="78.52" x2="32.5" y2="78.52" stroke="#c8c8c8" stroke-width="0.8"/>
<line x1="30.5" y1="73.88" x2="32.5" y2="73.88" stroke="#c8c8c8" stroke-width="0.8"/>
<line x1="30.5" y1="69.24" x2="32.5" y2="69.24" stroke="#c8c8c8" stroke-width="0.8"/>
<line x1="30.5" y1="59.96" x2="32.5" y2="59.96" stroke="#c8c8c8" stroke-width="0.8"/>
<line x1="30.5" y1="55.32" x2="32.5" y2="55.32" stroke="#c8c8c8" stroke-width="0.8"/>
<line x1="30.5" y1="50.68" x2="32.5" y2="50.68" stroke="#c8c8c8" stroke-width="0.8"/>
<line x1="30.5" y1="46.04" x2="32.5" y2="46.04" stroke="#c8c8c8" stroke-width="0.8"/>
<line x1="77.40" y1="180.6" x2="77.40" y2="177.1" stroke="#c8c8c8" stroke-width="0.8"/>
<line x1="124.20" y1="180.6" x2="124.20" y2="177.1" stroke="#c8c8c8" stroke-width="0.8"/>
<line x1="171.00" y1="180.6" x2="171.00" y2="177.1" stroke="#c8c8c8" stroke-width="0.8"/>
<line x1="217.80" y1="180.6" x2="217.80" y2="177.1" stroke="#c8c8c8" stroke-width="0.8"/>
<line x1="264.60" y1="180.6" x2="264.60" y2="177.1" stroke="#c8c8c8" stroke-width="0.8"/>
<line x1="39.96" y1="180.6" x2="39.96" y2="178.6" stroke="#c8c8c8" stroke-width="0.8"/>
<line x1="49.32" y1="180.6" x2="49.32" y2="178.6" stroke="#c8c8c8" stroke-width="0.8"/>
<line x1="58.68" y1="180.6" x2="58.68" y2="178.6" stroke="#c8c8c8" stroke-width="0.8"/>
<line x1="68.04" y1="180.6" x2="68.04" y2="178.6" stroke="#c8c8c8" stroke-width="0.8"/>
<line x1="86.76" y1="180.6" x2="86.76" y2="178.6" stroke="#c8c8c8" stroke-width="0.8"/>
<line x1="96.12" y1="180.6" x2="96.12" y2="178.6" stroke="#c8c8c8" stroke-width="0.8"/>
<line x1="105.48" y1="180.6" x2="105.48" y2="178.6" stroke="#c8c8c8" stroke-width="0.8"/>
<line x1="114.84" y1="180.6" x2="114.84" y2="178.6" stroke="#c8c8c8" stroke-width="0.8"/>
<line x1="133.56" y1="180.6" x2="133.56" y2="178.6" stroke="#c8c8c8" stroke-width="0.8"/>
<line x1="142.92" y1="180.6" x2="142.92" y2="178.6" stroke="#c8c8c8" stroke-width="0.8"/>
<line x1="152.28" y1="180.6" x2="152.28" y2="178.6" stroke="#c8c8c8" stroke-width="0.8"/>
<line x1="161.64" y1="180.6" x2="161.64" y2="178.6" stroke="#c8c8c8" stroke-width="0.8"/>
<line x1="180.36" y1="180.6" x2="180.36" y2="178.6" stroke="#c8c8c8" stroke-width="0.8"/>
<line x1="189.72" y1="180.6" x2="189.72" y2="178.6" stroke="#c8c8c8" stroke-width="0.8"/>
<line x1="199.08" y1="180.6" x2="199.08" y2="178.6" stroke="#c8c8c8" stroke-width="0.8"/>
<line x1="208.44" y1="180.6" x2="208.44" y2="178.6" stroke="#c8c8c8" stroke-width="0.8"/>
<line x1="227.16" y1="180.6" x2="227.16" y2="178.6" stroke="#c8c8c8" stroke-width="0.8"/>
<line x1="236.52" y1="180.6" x2="236.52" y2="178.6" stroke="#c8c8c8" stroke-width="0.8"/>
<line x1="245.88" y1="180.6" x2="245.88" y2="178.6" stroke="#c8c8c8" stroke-width="0.8"/>
<line x1="255.24" y1="180.6" x2="255.24" y2="178.6" stroke="#c8c8c8" stroke-width="0.8"/>
<path d="M34.60,180.72 L35.10,180.72 L35.60,180.73 L36.10,180.73 L36.60,180.73 L37.10,180.73 L37.60,180.73 L38.10,180.73 L38.60,180.73 L39.10,180.73 L39.60,180.73 L40.10,180.73 L40.60,180.73 L41.10,180.73 L41.60,180.73 L42.10,180.73 L42.60,180.73 L43.10,180.73 L43.60,180.73 L44.10,180.72 L44.60,180.72 L45.10,180.71 L45.60,180.71 L46.10,180.70 L46.60,180.70 L47.10,180.69 L47.60,180.68 L48.10,180.67 L48.60,180.65 L49.10,180.64 L49.60,180.63 L50.10,180.61 L50.60,180.59 L51.10,180.57 L51.60,180.55 L52.10,180.52 L52.60,180.49 L53.10,180.46 L53.60,180.43 L54.10,180.39 L54.60,180.35 L55.10,180.31 L55.60,180.26 L56.10,180.21 L56.60,180.16 L57.10,180.10 L57.60,180.04 L58.10,179.97 L58.60,179.90 L59.10,179.82 L59.60,179.74 L60.10,179.65 L60.60,179.56 L61.10,179.46 L61.60,179.35 L62.10,179.24 L62.60,179.12 L63.10,178.99 L63.60,178.86 L64.10,178.71 L64.60,178.56 L65.10,178.40 L65.60,178.23 L66.10,178.05 L66.60,177.87 L67.10,177.67 L67.60,177.46 L68.10,177.25 L68.60,177.02 L69.10,176.78 L69.60,176.53 L70.10,176.27 L70.60,175.99 L71.10,175.70 L71.60,175.40 L72.10,175.09 L72.60,174.76 L73.10,174.42 L73.60,174.07 L74.10,173.70 L74.60,173.32 L75.10,172.92 L75.60,172.51 L76.10,172.08 L76.60,171.63 L77.10,171.17 L77.60,170.70 L78.10,170.20 L78.60,169.69 L79.10,169.16 L79.60,168.62 L80.10,168.05 L80.60,167.47 L81.10,166.87 L81.60,166.26 L82.10,165.62 L82.60,164.97 L83.10,164.30 L83.60,163.60 L84.10,162.89 L84.60,162.16 L85.10,161.42 L85.60,160.65 L86.10,159.86 L86.60,159.06 L87.10,158.23 L87.60,157.39 L88.10,156.52 L88.60,155.64 L89.10,154.74 L89.60,153.82 L90.10,152.88 L90.60,151.92 L91.10,150.94 L91.60,149.95 L92.10,148.94 L92.60,147.90 L93.10,146.86 L93.60,145.79 L94.10,144.70 L94.60,143.60 L95.10,142.49 L95.60,141.35 L96.10,140.20 L96.60,139.04 L97.10,137.86 L97.60,136.66 L98.10,135.45 L98.60,134.23 L99.10,132.99 L99.60,131.74 L100.10,130.48 L100.60,129.20 L101.10,127.92 L101.60,126.62 L102.10,125.31 L102.60,124.00 L103.10,122.67 L103.60,121.34 L104.10,120.00 L104.60,118.65 L105.10,117.29 L105.60,115.93 L106.10,114.57 L106.60,113.20 L107.10,111.83 L107.60,110.45 L108.10,109.07 L108.60,107.69 L109.10,106.31 L109.60,104.94 L110.10,103.56 L110.60,102.18 L111.10,100.81 L111.60,99.44 L112.10,98.07 L112.60,96.71 L113.10,95.36 L113.60,94.01 L114.10,92.67 L114.60,91.33 L115.10,90.01 L115.60,88.69 L116.10,87.39 L116.60,86.10 L117.10,84.82 L117.60,83.55 L118.10,82.30 L118.60,81.06 L119.10,79.83 L119.60,78.62 L120.10,77.43 L120.60,76.26 L121.10,75.10 L121.60,73.96 L122.10,72.85 L122.60,71.75 L123.10,70.67 L123.60,69.61 L124.10,68.58 L124.60,67.57 L125.10,66.58 L125.60,65.62 L126.10,64.68 L126.60,63.76 L127.10,62.87 L127.60,62.01 L128.10,61.17 L128.60,60.36 L129.10,59.58 L129.60,58.83 L130.10,58.10 L130.60,57.40 L131.10,56.73 L131.60,56.09 L132.10,55.48 L132.60,54.90 L133.10,54.35 L133.60,53.83 L134.10,53.34 L134.60,52.88 L135.10,52.45 L135.60,52.05 L136.10,51.69 L136.60,51.35 L137.10,51.05 L137.60,50.78 L138.10,50.54 L138.60,50.33 L139.10,50.15 L139.60,50.01 L140.10,49.89 L140.60,49.81 L141.10,49.76 L141.60,49.74 L142.10,49.75 L142.60,49.79 L143.10,49.86 L143.60,49.97 L144.10,50.10 L144.60,50.26 L145.10,50.46 L145.60,50.68 L146.10,50.93 L146.60,51.21 L147.10,51.52 L147.60,51.86 L148.10,52.22 L148.60,52.62 L149.10,53.04 L149.60,53.48 L150.10,53.96 L150.60,54.46 L151.10,54.98 L151.60,55.53 L152.10,56.11 L152.60,56.71 L153.10,57.33 L153.60,57.97 L154.10,58.64 L154.60,59.33 L155.10,60.04 L155.60,60.78 L156.10,61.53 L156.60,62.30 L157.10,63.09 L157.60,63.91 L158.10,64.74 L158.60,65.58 L159.10,66.45 L159.60,67.33 L160.10,68.23 L160.60,69.14 L161.10,70.07 L161.60,71.01 L162.10,71.96 L162.60,72.93 L163.10,73.91 L163.60,74.91 L164.10,75.91 L164.60,76.92 L165.10,77.95 L165.60,78.98 L166.10,80.03 L166.60,81.08 L167.10,82.14 L167.60,83.21 L168.10,84.28 L168.60,85.36 L169.10,86.45 L169.60,87.54 L170.10,88.64 L170.60,89.74 L171.10,90.84 L171.60,91.95 L172.10,93.06 L172.60,94.17 L173.10,95.28 L173.60,96.40 L174.10,97.51 L174.60,98.63 L175.10,99.74 L175.60,100.86 L176.10,101.97 L176.60,103.08 L177.10,104.19 L177.60,105.30 L178.10,106.40 L178.60,107.50 L179.10,108.60 L179.60,109.69 L180.10,110.78 L180.60,111.86 L181.10,112.94 L181.60,114.02 L182.10,115.08 L182.60,116.15 L183.10,117.20 L183.60,118.25 L184.10,119.29 L184.60,120.33 L185.10,121.36 L185.60,122.38 L186.10,123.39 L186.60,124.39 L187.10,125.39 L187.60,126.38 L188.10,127.35 L188.60,128.32 L189.10,129.28 L189.60,130.23 L190.10,131.18 L190.60,132.11 L191.10,133.03 L191.60,133.94 L192.10,134.84 L192.60,135.74 L193.10,136.62 L193.60,137.49 L194.10,138.35 L194.60,139.20 L195.10,140.04 L195.60,140.87 L196.10,141.69 L196.60,142.50 L197.10,143.29 L197.60,144.08 L198.10,144.85 L198.60,145.62 L199.10,146.37 L199.60,147.11 L200.10,147.84 L200.60,148.56 L201.10,149.27 L201.60,149.97 L202.10,150.66 L202.60,151.33 L203.10,152.00 L203.60,152.65 L204.10,153.30 L204.60,153.93 L205.10,154.55 L205.60,155.16 L206.10,155.77 L206.60,156.36 L207.10,156.94 L207.60,157.51 L208.10,158.07 L208.60,158.61 L209.10,159.15 L209.60,159.68 L210.10,160.20 L210.60,160.71 L211.10,161.21 L211.60,161.70 L212.10,162.18 L212.60,162.65 L213.10,163.11 L213.60,163.56 L214.10,164.00 L214.60,164.44 L215.10,164.86 L215.60,165.28 L216.10,165.68 L216.60,166.08 L217.10,166.47 L217.60,166.85 L218.10,167.22 L218.60,167.59 L219.10,167.95 L219.60,168.29 L220.10,168.63 L220.60,168.97 L221.10,169.29 L221.60,169.61 L222.10,169.92 L222.60,170.22 L223.10,170.52 L223.60,170.81 L224.10,171.09 L224.60,171.37 L225.10,171.63 L225.60,171.90 L226.10,172.15 L226.60,172.40 L227.10,172.64 L227.60,172.88 L228.10,173.11 L228.60,173.34 L229.10,173.56 L229.60,173.77 L230.10,173.98 L230.60,174.18 L231.10,174.38 L231.60,174.57 L232.10,174.76 L232.60,174.94 L233.10,175.12 L233.60,175.29 L234.10,175.46 L234.60,175.62 L235.10,175.78 L235.60,175.94 L236.10,176.09 L236.60,176.23 L237.10,176.38 L237.60,176.51 L238.10,176.65 L238.60,176.78 L239.10,176.90 L239.60,177.03 L240.10,177.15 L240.60,177.26 L241.10,177.38 L241.60,177.49 L242.10,177.59 L242.60,177.69 L243.10,177.79 L243.60,177.89 L244.10,177.99 L244.60,178.08 L245.10,178.17 L245.60,178.25 L246.10,178.33 L246.60,178.42 L247.10,178.49 L247.60,178.57 L248.10,178.64 L248.60,178.71 L249.10,178.78 L249.60,178.85 L250.10,178.91 L250.60,178.98 L251.10,179.04 L251.60,179.10 L252.10,179.15 L252.60,179.21 L253.10,179.26 L253.60,179.31 L254.10,179.36 L254.60,179.41 L255.10,179.46 L255.60,179.50 L256.10,179.54 L256.60,179.59 L257.10,179.63 L257.60,179.67 L258.10,179.70 L258.60,179.74 L259.10,179.78 L259.60,179.81 L260.10,179.84 L260.60,179.88 L261.10,179.91 L261.60,179.94 L262.10,179.97 L262.60,179.99 L263.10,180.02 L263.60,180.05 L264.10,180.07 L264.60,180.09 L264.80,180.10" fill="none" stroke="#3F88C2" stroke-width="2" stroke-linejoin="round"/>
<path d="M34.60,180.70 L35.10,180.70 L35.60,180.70 L36.10,180.70 L36.60,180.70 L37.10,180.70 L37.60,180.71 L38.10,180.71 L38.60,180.71 L39.10,180.71 L39.60,180.71 L40.10,180.71 L40.60,180.71 L41.10,180.71 L41.60,180.71 L42.10,180.71 L42.60,180.71 L43.10,180.71 L43.60,180.71 L44.10,180.71 L44.60,180.71 L45.10,180.71 L45.60,180.71 L46.10,180.71 L46.60,180.71 L47.10,180.71 L47.60,180.71 L48.10,180.71 L48.60,180.71 L49.10,180.71 L49.60,180.71 L50.10,180.71 L50.60,180.70 L51.10,180.70 L51.60,180.70 L52.10,180.69 L52.60,180.69 L53.10,180.69 L53.60,180.68 L54.10,180.67 L54.60,180.67 L55.10,180.66 L55.60,180.65 L56.10,180.64 L56.60,180.63 L57.10,180.62 L57.60,180.60 L58.10,180.59 L58.60,180.57 L59.10,180.56 L59.60,180.54 L60.10,180.51 L60.60,180.49 L61.10,180.47 L61.60,180.44 L62.10,180.41 L62.60,180.37 L63.10,180.34 L63.60,180.30 L64.10,180.26 L64.60,180.22 L65.10,180.17 L65.60,180.12 L66.10,180.06 L66.60,180.00 L67.10,179.94 L67.60,179.87 L68.10,179.80 L68.60,179.72 L69.10,179.64 L69.60,179.55 L70.10,179.46 L70.60,179.36 L71.10,179.26 L71.60,179.15 L72.10,179.03 L72.60,178.90 L73.10,178.77 L73.60,178.63 L74.10,178.49 L74.60,178.33 L75.10,178.17 L75.60,178.00 L76.10,177.82 L76.60,177.63 L77.10,177.43 L77.60,177.22 L78.10,177.00 L78.60,176.78 L79.10,176.54 L79.60,176.29 L80.10,176.02 L80.60,175.75 L81.10,175.47 L81.60,175.17 L82.10,174.86 L82.60,174.54 L83.10,174.20 L83.60,173.85 L84.10,173.49 L84.60,173.11 L85.10,172.72 L85.60,172.31 L86.10,171.89 L86.60,171.46 L87.10,171.00 L87.60,170.54 L88.10,170.05 L88.60,169.55 L89.10,169.04 L89.60,168.51 L90.10,167.96 L90.60,167.39 L91.10,166.81 L91.60,166.21 L92.10,165.59 L92.60,164.95 L93.10,164.30 L93.60,163.62 L94.10,162.93 L94.60,162.22 L95.10,161.49 L95.60,160.75 L96.10,159.98 L96.60,159.20 L97.10,158.40 L97.60,157.58 L98.10,156.74 L98.60,155.88 L99.10,155.00 L99.60,154.11 L100.10,153.20 L100.60,152.27 L101.10,151.32 L101.60,150.35 L102.10,149.36 L102.60,148.36 L103.10,147.34 L103.60,146.30 L104.10,145.24 L104.60,144.17 L105.10,143.08 L105.60,141.98 L106.10,140.86 L106.60,139.72 L107.10,138.57 L107.60,137.40 L108.10,136.22 L108.60,135.02 L109.10,133.81 L109.60,132.59 L110.10,131.36 L110.60,130.11 L111.10,128.85 L111.60,127.58 L112.10,126.30 L112.60,125.00 L113.10,123.70 L113.60,122.39 L114.10,121.07 L114.60,119.74 L115.10,118.41 L115.60,117.07 L116.10,115.72 L116.60,114.37 L117.10,113.01 L117.60,111.65 L118.10,110.29 L118.60,108.92 L119.10,107.55 L119.60,106.18 L120.10,104.81 L120.60,103.44 L121.10,102.07 L121.60,100.70 L122.10,99.34 L122.60,97.98 L123.10,96.62 L123.60,95.27 L124.10,93.92 L124.60,92.58 L125.10,91.24 L125.60,89.92 L126.10,88.60 L126.60,87.29 L127.10,86.00 L127.60,84.71 L128.10,83.43 L128.60,82.17 L129.10,80.92 L129.60,79.69 L130.10,78.47 L130.60,77.26 L131.10,76.07 L131.60,74.90 L132.10,73.74 L132.60,72.61 L133.10,71.49 L133.60,70.39 L134.10,69.31 L134.60,68.25 L135.10,67.21 L135.60,66.20 L136.10,65.20 L136.60,64.23 L137.10,63.29 L137.60,62.36 L138.10,61.46 L138.60,60.59 L139.10,59.74 L139.60,58.92 L140.10,58.13 L140.60,57.36 L141.10,56.62 L141.60,55.90 L142.10,55.22 L142.60,54.56 L143.10,53.93 L143.60,53.33 L144.10,52.76 L144.60,52.22 L145.10,51.71 L145.60,51.23 L146.10,50.78 L146.60,50.36 L147.10,49.97 L147.60,49.61 L148.10,49.28 L148.60,48.98 L149.10,48.71 L149.60,48.48 L150.10,48.27 L150.60,48.10 L151.10,47.95 L151.60,47.84 L152.10,47.76 L152.60,47.70 L153.10,47.68 L153.60,47.69 L154.10,47.73 L154.60,47.80 L155.10,47.90 L155.60,48.03 L156.10,48.18 L156.60,48.37 L157.10,48.59 L157.60,48.83 L158.10,49.11 L158.60,49.41 L159.10,49.74 L159.60,50.09 L160.10,50.48 L160.60,50.89 L161.10,51.33 L161.60,51.79 L162.10,52.28 L162.60,52.79 L163.10,53.33 L163.60,53.89 L164.10,54.48 L164.60,55.09 L165.10,55.72 L165.60,56.38 L166.10,57.06 L166.60,57.75 L167.10,58.47 L167.60,59.21 L168.10,59.97 L168.60,60.75 L169.10,61.55 L169.60,62.37 L170.10,63.20 L170.60,64.05 L171.10,64.92 L171.60,65.80 L172.10,66.70 L172.60,67.62 L173.10,68.55 L173.60,69.49 L174.10,70.44 L174.60,71.41 L175.10,72.39 L175.60,73.39 L176.10,74.39 L176.60,75.40 L177.10,76.43 L177.60,77.46 L178.10,78.50 L178.60,79.55 L179.10,80.61 L179.60,81.68 L180.10,82.75 L180.60,83.83 L181.10,84.91 L181.60,86.00 L182.10,87.09 L182.60,88.19 L183.10,89.29 L183.60,90.40 L184.10,91.50 L184.60,92.61 L185.10,93.72 L185.60,94.83 L186.10,95.95 L186.60,97.06 L187.10,98.17 L187.60,99.28 L188.10,100.39 L188.60,101.50 L189.10,102.61 L189.60,103.72 L190.10,104.82 L190.60,105.92 L191.10,107.01 L191.60,108.11 L192.10,109.20 L192.60,110.28 L193.10,111.36 L193.60,112.43 L194.10,113.50 L194.60,114.56 L195.10,115.62 L195.60,116.67 L196.10,117.72 L196.60,118.75 L197.10,119.78 L197.60,120.81 L198.10,121.82 L198.60,122.83 L199.10,123.83 L199.60,124.82 L200.10,125.80 L200.60,126.77 L201.10,127.74 L201.60,128.70 L202.10,129.64 L202.60,130.58 L203.10,131.51 L203.60,132.43 L204.10,133.33 L204.60,134.23 L205.10,135.12 L205.60,136.00 L206.10,136.87 L206.60,137.73 L207.10,138.58 L207.60,139.41 L208.10,140.24 L208.60,141.06 L209.10,141.86 L209.60,142.66 L210.10,143.44 L210.60,144.22 L211.10,144.98 L211.60,145.73 L212.10,146.47 L212.60,147.21 L213.10,147.93 L213.60,148.64 L214.10,149.33 L214.60,150.02 L215.10,150.70 L215.60,151.37 L216.10,152.02 L216.60,152.67 L217.10,153.30 L217.60,153.93 L218.10,154.54 L218.60,155.14 L219.10,155.74 L219.60,156.32 L220.10,156.89 L220.60,157.46 L221.10,158.01 L221.60,158.55 L222.10,159.08 L222.60,159.61 L223.10,160.12 L223.60,160.62 L224.10,161.12 L224.60,161.60 L225.10,162.07 L225.60,162.54 L226.10,163.00 L226.60,163.44 L227.10,163.88 L227.60,164.31 L228.10,164.73 L228.60,165.14 L229.10,165.55 L229.60,165.94 L230.10,166.33 L230.60,166.71 L231.10,167.08 L231.60,167.44 L232.10,167.79 L232.60,168.14 L233.10,168.48 L233.60,168.81 L234.10,169.13 L234.60,169.45 L235.10,169.76 L235.60,170.06 L236.10,170.35 L236.60,170.64 L237.10,170.92 L237.60,171.20 L238.10,171.47 L238.60,171.73 L239.10,171.98 L239.60,172.23 L240.10,172.48 L240.60,172.71 L241.10,172.95 L241.60,173.17 L242.10,173.39 L242.60,173.61 L243.10,173.82 L243.60,174.02 L244.10,174.22 L244.60,174.41 L245.10,174.60 L245.60,174.78 L246.10,174.96 L246.60,175.14 L247.10,175.31 L247.60,175.47 L248.10,175.63 L248.60,175.79 L249.10,175.94 L249.60,176.09 L250.10,176.23 L250.60,176.37 L251.10,176.51 L251.60,176.64 L252.10,176.77 L252.60,176.89 L253.10,177.01 L253.60,177.13 L254.10,177.24 L254.60,177.36 L255.10,177.46 L255.60,177.57 L256.10,177.67 L256.60,177.77 L257.10,177.87 L257.60,177.96 L258.10,178.05 L258.60,178.14 L259.10,178.22 L259.60,178.31 L260.10,178.39 L260.60,178.46 L261.10,178.54 L261.60,178.61 L262.10,178.68 L262.60,178.75 L263.10,178.82 L263.60,178.88 L264.10,178.94 L264.60,179.00 L264.80,179.03" fill="none" stroke="#F29C10" stroke-width="2" stroke-linejoin="round"/>
<line x1="235.4" y1="48.7" x2="262.8" y2="48.7" stroke="#62A0C6" stroke-width="2"/>
<line x1="235.4" y1="78.80000000000001" x2="262.8" y2="78.80000000000001" stroke="#F8A61E" stroke-width="2"/>
<line x1="271.7" y1="41.10" x2="271.7" y2="56.50" stroke="#333" stroke-width="1"/>
<text x="0" y="0" class="lgF" transform="translate(273.90,52.60) scale(1.16,1)">F</text>
<text x="284.00" y="55.70" class="lgs">e</text>
<path d="M293.30,41.10 L296.90,48.80 L293.30,56.50" fill="none" stroke="#333" stroke-width="0.9"/>
<line x1="271.7" y1="71.20" x2="271.7" y2="86.60" stroke="#333" stroke-width="1"/>
<text x="0" y="0" class="lgF" transform="translate(273.90,82.70) scale(1.16,1)">F</text>
<text x="284.00" y="85.80" class="lgs">g</text>
<path d="M293.30,71.20 L296.90,78.90 L293.30,86.60" fill="none" stroke="#333" stroke-width="0.9"/>
<text x="23.2" y="31.3" class="axl">C</text><text x="32.2" y="33.3" class="axs">n</text>
<text x="278" y="185" class="axl">n</text>
<clipPath id="clipP3"><path d="M33.00,313.04 L33.50,313.03 L34.00,313.03 L34.50,313.02 L35.00,313.01 L35.50,313.00 L36.00,312.99 L36.50,312.98 L37.00,312.97 L37.50,312.96 L38.00,312.94 L38.50,312.93 L39.00,312.91 L39.50,312.89 L40.00,312.87 L40.50,312.85 L41.00,312.83 L41.50,312.80 L42.00,312.77 L42.50,312.74 L43.00,312.71 L43.50,312.68 L44.00,312.64 L44.50,312.60 L45.00,312.55 L45.50,312.51 L46.00,312.46 L46.50,312.40 L47.00,312.35 L47.50,312.29 L48.00,312.22 L48.50,312.15 L49.00,312.08 L49.50,312.00 L50.00,311.92 L50.50,311.83 L51.00,311.74 L51.50,311.64 L52.00,311.53 L52.50,311.42 L53.00,311.31 L53.50,311.18 L54.00,311.05 L54.50,310.91 L55.00,310.77 L55.50,310.62 L56.00,310.46 L56.50,310.29 L57.00,310.11 L57.50,309.93 L58.00,309.73 L58.50,309.53 L59.00,309.32 L59.50,309.09 L60.00,308.86 L60.50,308.62 L61.00,308.36 L61.50,308.10 L62.00,307.83 L62.50,307.54 L63.00,307.24 L63.50,306.93 L64.00,306.61 L64.50,306.28 L65.00,305.93 L65.50,305.57 L66.00,305.20 L66.50,304.82 L67.00,304.42 L67.50,304.01 L68.00,303.58 L68.50,303.14 L69.00,302.69 L69.50,302.23 L70.00,301.75 L70.50,301.25 L71.00,300.74 L71.50,300.22 L72.00,299.68 L72.50,299.13 L73.00,298.57 L73.50,297.99 L74.00,297.39 L74.50,296.78 L75.00,296.16 L75.50,295.53 L76.00,294.88 L76.50,294.21 L77.00,293.53 L77.50,292.84 L78.00,292.14 L78.50,291.42 L79.00,290.69 L79.50,289.95 L80.00,289.20 L80.50,288.43 L81.00,287.65 L81.50,286.86 L82.00,286.06 L82.50,285.25 L83.00,284.44 L83.50,283.61 L84.00,282.77 L84.50,281.92 L85.00,281.07 L85.50,280.21 L86.00,279.34 L86.50,278.47 L87.00,277.59 L87.50,276.70 L88.00,275.81 L88.50,274.92 L89.00,274.03 L89.50,273.13 L90.00,272.23 L90.50,271.34 L91.00,270.44 L91.50,269.54 L92.00,268.65 L92.50,267.76 L93.00,266.87 L93.50,265.98 L94.00,265.11 L94.50,264.23 L95.00,263.37 L95.50,262.51 L96.00,261.66 L96.50,260.82 L97.00,259.99 L97.50,259.18 L98.00,258.37 L98.50,257.58 L99.00,256.81 L99.50,256.05 L100.00,255.30 L100.50,254.57 L101.00,253.86 L101.50,253.17 L102.00,252.50 L102.50,251.85 L103.00,251.22 L103.50,250.61 L104.00,250.02 L104.50,249.46 L105.00,248.93 L105.50,248.42 L106.00,247.93 L106.50,247.47 L107.00,247.04 L107.50,246.64 L108.00,246.27 L108.50,245.93 L109.00,245.62 L109.50,245.33 L110.00,245.08 L110.50,244.87 L111.00,244.68 L111.50,244.53 L112.00,244.41 L112.50,244.33 L113.00,244.28 L113.50,244.27 L114.00,244.29 L114.50,244.34 L115.00,244.44 L115.50,244.56 L116.00,244.73 L116.50,244.93 L117.00,245.17 L117.50,245.44 L118.00,245.75 L118.50,246.10 L119.00,246.49 L119.50,246.91 L120.00,247.36 L120.50,247.86 L121.00,248.39 L121.50,248.95 L122.00,249.56 L122.50,250.19 L123.00,250.87 L123.50,251.58 L124.00,252.32 L124.50,253.09 L125.00,253.91 L125.50,254.75 L126.00,255.63 L126.50,256.53 L127.00,257.47 L127.50,258.45 L128.00,259.45 L128.50,260.48 L129.00,261.54 L129.50,262.63 L130.00,263.74 L130.50,264.89 L131.00,266.06 L131.50,267.25 L132.00,268.47 L132.50,269.71 L133.00,270.98 L133.50,272.26 L134.00,273.57 L134.50,274.90 L135.00,276.24 L135.50,277.61 L136.00,278.99 L136.50,280.38 L137.00,281.80 L137.50,283.22 L138.00,284.66 L138.50,286.11 L139.00,287.57 L139.50,289.05 L140.00,290.53 L140.50,292.01 L141.00,293.51 L141.50,295.01 L142.00,296.51 L142.50,298.02 L143.00,299.53 L143.50,301.05 L144.00,302.56 L144.50,304.07 L145.00,305.58 L145.50,307.09 L146.00,308.60 L146.50,310.10 L147.00,311.59 L147.50,313.08 L148.00,314.56 L148.50,316.03 L149.00,317.50 L149.50,318.95 L150.00,320.39 L150.50,321.82 L151.00,323.24 L151.50,324.64 L152.00,326.03 L152.50,327.40 L153.00,328.76 L153.50,330.10 L154.00,331.43 L154.50,332.73 L155.00,334.02 L155.50,335.29 L156.00,336.53 L156.50,337.76 L157.00,338.96 L157.50,340.15 L158.00,341.31 L158.50,342.44 L159.00,343.56 L159.50,344.65 L160.00,345.72 L160.50,346.76 L161.00,347.77 L161.50,348.77 L162.00,349.73 L162.50,350.67 L163.00,351.58 L163.50,352.47 L164.00,353.33 L164.50,354.16 L165.00,354.97 L165.50,355.75 L166.00,356.50 L166.50,357.22 L167.00,357.92 L167.50,358.59 L168.00,359.23 L168.50,359.84 L169.00,360.43 L169.50,360.99 L170.00,361.52 L170.50,362.02 L171.00,362.49 L171.50,362.94 L172.00,363.37 L172.50,363.76 L173.00,364.13 L173.50,364.47 L174.00,364.79 L174.50,365.07 L175.00,365.34 L175.50,365.58 L176.00,365.79 L176.50,365.98 L177.00,366.14 L177.50,366.28 L178.00,366.39 L178.50,366.49 L179.00,366.55 L179.50,366.60 L180.00,366.62 L180.50,366.62 L181.00,366.60 L181.50,366.56 L182.00,366.50 L182.50,366.42 L183.00,366.31 L183.50,366.19 L184.00,366.05 L184.50,365.89 L185.00,365.71 L185.50,365.51 L186.00,365.30 L186.50,365.07 L187.00,364.83 L187.50,364.56 L188.00,364.29 L188.50,363.99 L189.00,363.69 L189.50,363.37 L190.00,363.04 L190.50,362.69 L191.00,362.33 L191.50,361.96 L192.00,361.58 L192.50,361.19 L193.00,360.78 L193.50,360.37 L194.00,359.94 L194.50,359.51 L195.00,359.07 L195.50,358.62 L196.00,358.17 L196.50,357.70 L197.00,357.23 L197.50,356.75 L198.00,356.27 L198.50,355.78 L199.00,355.29 L199.50,354.79 L200.00,354.28 L200.50,353.78 L201.00,353.26 L201.50,352.75 L202.00,352.23 L202.50,351.71 L203.00,351.19 L203.50,350.67 L204.00,350.14 L204.50,349.62 L205.00,349.09 L205.50,348.56 L206.00,348.03 L206.50,347.50 L207.00,346.98 L207.50,346.45 L208.00,345.92 L208.50,345.40 L209.00,344.87 L209.50,344.35 L210.00,343.83 L210.50,343.32 L211.00,342.80 L211.50,342.29 L212.00,341.78 L212.50,341.27 L213.00,340.77 L213.50,340.27 L214.00,339.77 L214.50,339.28 L215.00,338.79 L215.50,338.30 L216.00,337.82 L216.50,337.35 L217.00,336.88 L217.50,336.41 L218.00,335.95 L218.50,335.49 L219.00,335.03 L219.50,334.59 L220.00,334.14 L220.50,333.71 L221.00,333.27 L221.50,332.85 L222.00,332.42 L222.50,332.01 L223.00,331.60 L223.50,331.19 L224.00,330.79 L224.50,330.40 L225.00,330.01 L225.50,329.63 L226.00,329.25 L226.50,328.88 L227.00,328.51 L227.50,328.15 L228.00,327.80 L228.50,327.45 L229.00,327.11 L229.50,326.77 L230.00,326.44 L230.50,326.12 L231.00,325.80 L231.50,325.48 L232.00,325.18 L232.50,324.87 L233.00,324.58 L233.50,324.29 L234.00,324.00 L234.50,323.72 L235.00,323.44 L235.50,323.17 L236.00,322.91 L236.50,322.65 L237.00,322.40 L237.50,322.15 L238.00,321.91 L238.50,321.67 L239.00,321.44 L239.50,321.21 L240.00,320.99 L240.50,320.77 L241.00,320.55 L241.50,320.34 L242.00,320.14 L242.50,319.94 L243.00,319.75 L243.50,319.56 L244.00,319.37 L244.50,319.19 L245.00,319.01 L245.50,318.84 L246.00,318.67 L246.50,318.51 L247.00,318.35 L247.50,318.19 L248.00,318.04 L248.50,317.89 L249.00,317.74 L249.50,317.60 L250.00,317.46 L250.50,317.33 L251.00,317.20 L251.50,317.07 L252.00,316.95 L252.50,316.83 L253.00,316.71 L253.50,316.59 L254.00,316.48 L254.50,316.38 L255.00,316.27 L255.50,316.17 L256.00,316.07 L256.50,315.97 L257.00,315.88 L257.50,315.79 L258.00,315.70 L258.50,315.61 L259.00,315.53 L259.50,315.45 L260.00,315.37 L260.50,315.29 L261.00,315.22 L261.50,315.15 L262.00,315.08 L262.50,315.01 L263.00,314.94 L263.50,314.88 L264.00,314.82 L264.50,314.76 L265.00,314.70 L265.50,314.64 L266.00,314.59 L266.50,314.53 L267.00,314.48 L267.50,314.43 L268.00,314.39 L268.50,314.34 L269.00,314.29 L269.40,314.26 L269.40,312.80 L33.00,312.80 Z"/></clipPath>
<path d="M33.00,313.04 L33.50,313.03 L34.00,313.03 L34.50,313.02 L35.00,313.01 L35.50,313.00 L36.00,312.99 L36.50,312.98 L37.00,312.97 L37.50,312.96 L38.00,312.94 L38.50,312.93 L39.00,312.91 L39.50,312.89 L40.00,312.87 L40.50,312.85 L41.00,312.83 L41.50,312.80 L42.00,312.77 L42.50,312.74 L43.00,312.71 L43.50,312.68 L44.00,312.64 L44.50,312.60 L45.00,312.55 L45.50,312.51 L46.00,312.46 L46.50,312.40 L47.00,312.35 L47.50,312.29 L48.00,312.22 L48.50,312.15 L49.00,312.08 L49.50,312.00 L50.00,311.92 L50.50,311.83 L51.00,311.74 L51.50,311.64 L52.00,311.53 L52.50,311.42 L53.00,311.31 L53.50,311.18 L54.00,311.05 L54.50,310.91 L55.00,310.77 L55.50,310.62 L56.00,310.46 L56.50,310.29 L57.00,310.11 L57.50,309.93 L58.00,309.73 L58.50,309.53 L59.00,309.32 L59.50,309.09 L60.00,308.86 L60.50,308.62 L61.00,308.36 L61.50,308.10 L62.00,307.83 L62.50,307.54 L63.00,307.24 L63.50,306.93 L64.00,306.61 L64.50,306.28 L65.00,305.93 L65.50,305.57 L66.00,305.20 L66.50,304.82 L67.00,304.42 L67.50,304.01 L68.00,303.58 L68.50,303.14 L69.00,302.69 L69.50,302.23 L70.00,301.75 L70.50,301.25 L71.00,300.74 L71.50,300.22 L72.00,299.68 L72.50,299.13 L73.00,298.57 L73.50,297.99 L74.00,297.39 L74.50,296.78 L75.00,296.16 L75.50,295.53 L76.00,294.88 L76.50,294.21 L77.00,293.53 L77.50,292.84 L78.00,292.14 L78.50,291.42 L79.00,290.69 L79.50,289.95 L80.00,289.20 L80.50,288.43 L81.00,287.65 L81.50,286.86 L82.00,286.06 L82.50,285.25 L83.00,284.44 L83.50,283.61 L84.00,282.77 L84.50,281.92 L85.00,281.07 L85.50,280.21 L86.00,279.34 L86.50,278.47 L87.00,277.59 L87.50,276.70 L88.00,275.81 L88.50,274.92 L89.00,274.03 L89.50,273.13 L90.00,272.23 L90.50,271.34 L91.00,270.44 L91.50,269.54 L92.00,268.65 L92.50,267.76 L93.00,266.87 L93.50,265.98 L94.00,265.11 L94.50,264.23 L95.00,263.37 L95.50,262.51 L96.00,261.66 L96.50,260.82 L97.00,259.99 L97.50,259.18 L98.00,258.37 L98.50,257.58 L99.00,256.81 L99.50,256.05 L100.00,255.30 L100.50,254.57 L101.00,253.86 L101.50,253.17 L102.00,252.50 L102.50,251.85 L103.00,251.22 L103.50,250.61 L104.00,250.02 L104.50,249.46 L105.00,248.93 L105.50,248.42 L106.00,247.93 L106.50,247.47 L107.00,247.04 L107.50,246.64 L108.00,246.27 L108.50,245.93 L109.00,245.62 L109.50,245.33 L110.00,245.08 L110.50,244.87 L111.00,244.68 L111.50,244.53 L112.00,244.41 L112.50,244.33 L113.00,244.28 L113.50,244.27 L114.00,244.29 L114.50,244.34 L115.00,244.44 L115.50,244.56 L116.00,244.73 L116.50,244.93 L117.00,245.17 L117.50,245.44 L118.00,245.75 L118.50,246.10 L119.00,246.49 L119.50,246.91 L120.00,247.36 L120.50,247.86 L121.00,248.39 L121.50,248.95 L122.00,249.56 L122.50,250.19 L123.00,250.87 L123.50,251.58 L124.00,252.32 L124.50,253.09 L125.00,253.91 L125.50,254.75 L126.00,255.63 L126.50,256.53 L127.00,257.47 L127.50,258.45 L128.00,259.45 L128.50,260.48 L129.00,261.54 L129.50,262.63 L130.00,263.74 L130.50,264.89 L131.00,266.06 L131.50,267.25 L132.00,268.47 L132.50,269.71 L133.00,270.98 L133.50,272.26 L134.00,273.57 L134.50,274.90 L135.00,276.24 L135.50,277.61 L136.00,278.99 L136.50,280.38 L137.00,281.80 L137.50,283.22 L138.00,284.66 L138.50,286.11 L139.00,287.57 L139.50,289.05 L140.00,290.53 L140.50,292.01 L141.00,293.51 L141.50,295.01 L142.00,296.51 L142.50,298.02 L143.00,299.53 L143.50,301.05 L144.00,302.56 L144.50,304.07 L145.00,305.58 L145.50,307.09 L146.00,308.60 L146.50,310.10 L147.00,311.59 L147.50,313.08 L148.00,314.56 L148.50,316.03 L149.00,317.50 L149.50,318.95 L150.00,320.39 L150.50,321.82 L151.00,323.24 L151.50,324.64 L152.00,326.03 L152.50,327.40 L153.00,328.76 L153.50,330.10 L154.00,331.43 L154.50,332.73 L155.00,334.02 L155.50,335.29 L156.00,336.53 L156.50,337.76 L157.00,338.96 L157.50,340.15 L158.00,341.31 L158.50,342.44 L159.00,343.56 L159.50,344.65 L160.00,345.72 L160.50,346.76 L161.00,347.77 L161.50,348.77 L162.00,349.73 L162.50,350.67 L163.00,351.58 L163.50,352.47 L164.00,353.33 L164.50,354.16 L165.00,354.97 L165.50,355.75 L166.00,356.50 L166.50,357.22 L167.00,357.92 L167.50,358.59 L168.00,359.23 L168.50,359.84 L169.00,360.43 L169.50,360.99 L170.00,361.52 L170.50,362.02 L171.00,362.49 L171.50,362.94 L172.00,363.37 L172.50,363.76 L173.00,364.13 L173.50,364.47 L174.00,364.79 L174.50,365.07 L175.00,365.34 L175.50,365.58 L176.00,365.79 L176.50,365.98 L177.00,366.14 L177.50,366.28 L178.00,366.39 L178.50,366.49 L179.00,366.55 L179.50,366.60 L180.00,366.62 L180.50,366.62 L181.00,366.60 L181.50,366.56 L182.00,366.50 L182.50,366.42 L183.00,366.31 L183.50,366.19 L184.00,366.05 L184.50,365.89 L185.00,365.71 L185.50,365.51 L186.00,365.30 L186.50,365.07 L187.00,364.83 L187.50,364.56 L188.00,364.29 L188.50,363.99 L189.00,363.69 L189.50,363.37 L190.00,363.04 L190.50,362.69 L191.00,362.33 L191.50,361.96 L192.00,361.58 L192.50,361.19 L193.00,360.78 L193.50,360.37 L194.00,359.94 L194.50,359.51 L195.00,359.07 L195.50,358.62 L196.00,358.17 L196.50,357.70 L197.00,357.23 L197.50,356.75 L198.00,356.27 L198.50,355.78 L199.00,355.29 L199.50,354.79 L200.00,354.28 L200.50,353.78 L201.00,353.26 L201.50,352.75 L202.00,352.23 L202.50,351.71 L203.00,351.19 L203.50,350.67 L204.00,350.14 L204.50,349.62 L205.00,349.09 L205.50,348.56 L206.00,348.03 L206.50,347.50 L207.00,346.98 L207.50,346.45 L208.00,345.92 L208.50,345.40 L209.00,344.87 L209.50,344.35 L210.00,343.83 L210.50,343.32 L211.00,342.80 L211.50,342.29 L212.00,341.78 L212.50,341.27 L213.00,340.77 L213.50,340.27 L214.00,339.77 L214.50,339.28 L215.00,338.79 L215.50,338.30 L216.00,337.82 L216.50,337.35 L217.00,336.88 L217.50,336.41 L218.00,335.95 L218.50,335.49 L219.00,335.03 L219.50,334.59 L220.00,334.14 L220.50,333.71 L221.00,333.27 L221.50,332.85 L222.00,332.42 L222.50,332.01 L223.00,331.60 L223.50,331.19 L224.00,330.79 L224.50,330.40 L225.00,330.01 L225.50,329.63 L226.00,329.25 L226.50,328.88 L227.00,328.51 L227.50,328.15 L228.00,327.80 L228.50,327.45 L229.00,327.11 L229.50,326.77 L230.00,326.44 L230.50,326.12 L231.00,325.80 L231.50,325.48 L232.00,325.18 L232.50,324.87 L233.00,324.58 L233.50,324.29 L234.00,324.00 L234.50,323.72 L235.00,323.44 L235.50,323.17 L236.00,322.91 L236.50,322.65 L237.00,322.40 L237.50,322.15 L238.00,321.91 L238.50,321.67 L239.00,321.44 L239.50,321.21 L240.00,320.99 L240.50,320.77 L241.00,320.55 L241.50,320.34 L242.00,320.14 L242.50,319.94 L243.00,319.75 L243.50,319.56 L244.00,319.37 L244.50,319.19 L245.00,319.01 L245.50,318.84 L246.00,318.67 L246.50,318.51 L247.00,318.35 L247.50,318.19 L248.00,318.04 L248.50,317.89 L249.00,317.74 L249.50,317.60 L250.00,317.46 L250.50,317.33 L251.00,317.20 L251.50,317.07 L252.00,316.95 L252.50,316.83 L253.00,316.71 L253.50,316.59 L254.00,316.48 L254.50,316.38 L255.00,316.27 L255.50,316.17 L256.00,316.07 L256.50,315.97 L257.00,315.88 L257.50,315.79 L258.00,315.70 L258.50,315.61 L259.00,315.53 L259.50,315.45 L260.00,315.37 L260.50,315.29 L261.00,315.22 L261.50,315.15 L262.00,315.08 L262.50,315.01 L263.00,314.94 L263.50,314.88 L264.00,314.82 L264.50,314.76 L265.00,314.70 L265.50,314.64 L266.00,314.59 L266.50,314.53 L267.00,314.48 L267.50,314.43 L268.00,314.39 L268.50,314.34 L269.00,314.29 L269.40,314.26 L269.40,312.80 L33.00,312.80 Z" fill="#E6EAF7"/>
<path d="M33.00,313.08 L33.50,313.08 L34.00,313.08 L34.50,313.08 L35.00,313.08 L35.50,313.08 L36.00,313.08 L36.50,313.08 L37.00,313.08 L37.50,313.08 L38.00,313.07 L38.50,313.07 L39.00,313.07 L39.50,313.07 L40.00,313.06 L40.50,313.06 L41.00,313.06 L41.50,313.05 L42.00,313.05 L42.50,313.04 L43.00,313.04 L43.50,313.03 L44.00,313.03 L44.50,313.02 L45.00,313.01 L45.50,313.00 L46.00,312.99 L46.50,312.98 L47.00,312.97 L47.50,312.96 L48.00,312.95 L48.50,312.93 L49.00,312.91 L49.50,312.90 L50.00,312.88 L50.50,312.86 L51.00,312.84 L51.50,312.81 L52.00,312.79 L52.50,312.76 L53.00,312.73 L53.50,312.70 L54.00,312.66 L54.50,312.62 L55.00,312.59 L55.50,312.54 L56.00,312.50 L56.50,312.45 L57.00,312.40 L57.50,312.34 L58.00,312.28 L58.50,312.22 L59.00,312.15 L59.50,312.08 L60.00,312.01 L60.50,311.93 L61.00,311.84 L61.50,311.76 L62.00,311.66 L62.50,311.56 L63.00,311.46 L63.50,311.35 L64.00,311.23 L64.50,311.11 L65.00,310.98 L65.50,310.84 L66.00,310.70 L66.50,310.55 L67.00,310.39 L67.50,310.23 L68.00,310.05 L68.50,309.87 L69.00,309.68 L69.50,309.49 L70.00,309.28 L70.50,309.07 L71.00,308.84 L71.50,308.61 L72.00,308.36 L72.50,308.11 L73.00,307.85 L73.50,307.58 L74.00,307.29 L74.50,307.00 L75.00,306.70 L75.50,306.38 L76.00,306.05 L76.50,305.72 L77.00,305.37 L77.50,305.01 L78.00,304.63 L78.50,304.25 L79.00,303.85 L79.50,303.45 L80.00,303.03 L80.50,302.60 L81.00,302.15 L81.50,301.70 L82.00,301.23 L82.50,300.75 L83.00,300.26 L83.50,299.75 L84.00,299.24 L84.50,298.71 L85.00,298.17 L85.50,297.61 L86.00,297.05 L86.50,296.47 L87.00,295.89 L87.50,295.29 L88.00,294.68 L88.50,294.06 L89.00,293.43 L89.50,292.79 L90.00,292.14 L90.50,291.48 L91.00,290.81 L91.50,290.13 L92.00,289.45 L92.50,288.75 L93.00,288.05 L93.50,287.34 L94.00,286.62 L94.50,285.90 L95.00,285.17 L95.50,284.43 L96.00,283.69 L96.50,282.95 L97.00,282.20 L97.50,281.45 L98.00,280.70 L98.50,279.94 L99.00,279.18 L99.50,278.43 L100.00,277.67 L100.50,276.91 L101.00,276.16 L101.50,275.41 L102.00,274.66 L102.50,273.91 L103.00,273.17 L103.50,272.43 L104.00,271.70 L104.50,270.98 L105.00,270.27 L105.50,269.56 L106.00,268.86 L106.50,268.18 L107.00,267.50 L107.50,266.84 L108.00,266.18 L108.50,265.55 L109.00,264.92 L109.50,264.31 L110.00,263.72 L110.50,263.14 L111.00,262.59 L111.50,262.05 L112.00,261.53 L112.50,261.02 L113.00,260.54 L113.50,260.09 L114.00,259.65 L114.50,259.24 L115.00,258.85 L115.50,258.48 L116.00,258.14 L116.50,257.83 L117.00,257.54 L117.50,257.28 L118.00,257.05 L118.50,256.85 L119.00,256.68 L119.50,256.53 L120.00,256.42 L120.50,256.33 L121.00,256.28 L121.50,256.26 L122.00,256.27 L122.50,256.31 L123.00,256.39 L123.50,256.50 L124.00,256.64 L124.50,256.81 L125.00,257.02 L125.50,257.27 L126.00,257.55 L126.50,257.86 L127.00,258.20 L127.50,258.59 L128.00,259.00 L128.50,259.45 L129.00,259.94 L129.50,260.46 L130.00,261.01 L130.50,261.60 L131.00,262.22 L131.50,262.88 L132.00,263.57 L132.50,264.29 L133.00,265.05 L133.50,265.84 L134.00,266.66 L134.50,267.52 L135.00,268.40 L135.50,269.32 L136.00,270.27 L136.50,271.25 L137.00,272.26 L137.50,273.29 L138.00,274.36 L138.50,275.45 L139.00,276.57 L139.50,277.72 L140.00,278.89 L140.50,280.08 L141.00,281.30 L141.50,282.55 L142.00,283.82 L142.50,285.10 L143.00,286.41 L143.50,287.74 L144.00,289.09 L144.50,290.46 L145.00,291.84 L145.50,293.24 L146.00,294.66 L146.50,296.09 L147.00,297.53 L147.50,298.99 L148.00,300.45 L148.50,301.93 L149.00,303.42 L149.50,304.91 L150.00,306.42 L150.50,307.93 L151.00,309.44 L151.50,310.96 L152.00,312.48 L152.50,314.01 L153.00,315.53 L153.50,317.06 L154.00,318.58 L154.50,320.11 L155.00,321.63 L155.50,323.14 L156.00,324.66 L156.50,326.16 L157.00,327.66 L157.50,329.16 L158.00,330.64 L158.50,332.11 L159.00,333.58 L159.50,335.03 L160.00,336.47 L160.50,337.90 L161.00,339.31 L161.50,340.71 L162.00,342.10 L162.50,343.46 L163.00,344.81 L163.50,346.14 L164.00,347.46 L164.50,348.75 L165.00,350.03 L165.50,351.28 L166.00,352.51 L166.50,353.73 L167.00,354.91 L167.50,356.08 L168.00,357.22 L168.50,358.34 L169.00,359.43 L169.50,360.50 L170.00,361.55 L170.50,362.56 L171.00,363.56 L171.50,364.52 L172.00,365.46 L172.50,366.37 L173.00,367.25 L173.50,368.11 L174.00,368.94 L174.50,369.74 L175.00,370.51 L175.50,371.25 L176.00,371.96 L176.50,372.65 L177.00,373.31 L177.50,373.93 L178.00,374.53 L178.50,375.10 L179.00,375.64 L179.50,376.16 L180.00,376.64 L180.50,377.09 L181.00,377.52 L181.50,377.92 L182.00,378.29 L182.50,378.63 L183.00,378.94 L183.50,379.22 L184.00,379.48 L184.50,379.71 L185.00,379.91 L185.50,380.09 L186.00,380.24 L186.50,380.36 L187.00,380.46 L187.50,380.53 L188.00,380.58 L188.50,380.60 L189.00,380.60 L189.50,380.57 L190.00,380.52 L190.50,380.44 L191.00,380.34 L191.50,380.22 L192.00,380.08 L192.50,379.92 L193.00,379.73 L193.50,379.53 L194.00,379.30 L194.50,379.06 L195.00,378.79 L195.50,378.51 L196.00,378.21 L196.50,377.89 L197.00,377.55 L197.50,377.20 L198.00,376.82 L198.50,376.44 L199.00,376.04 L199.50,375.62 L200.00,375.19 L200.50,374.75 L201.00,374.29 L201.50,373.82 L202.00,373.33 L202.50,372.84 L203.00,372.33 L203.50,371.82 L204.00,371.29 L204.50,370.75 L205.00,370.20 L205.50,369.65 L206.00,369.09 L206.50,368.51 L207.00,367.94 L207.50,367.35 L208.00,366.76 L208.50,366.16 L209.00,365.55 L209.50,364.94 L210.00,364.33 L210.50,363.71 L211.00,363.09 L211.50,362.46 L212.00,361.83 L212.50,361.20 L213.00,360.57 L213.50,359.93 L214.00,359.29 L214.50,358.66 L215.00,358.02 L215.50,357.38 L216.00,356.74 L216.50,356.10 L217.00,355.46 L217.50,354.82 L218.00,354.18 L218.50,353.54 L219.00,352.91 L219.50,352.28 L220.00,351.65 L220.50,351.02 L221.00,350.39 L221.50,349.77 L222.00,349.15 L222.50,348.54 L223.00,347.92 L223.50,347.32 L224.00,346.71 L224.50,346.11 L225.00,345.52 L225.50,344.93 L226.00,344.34 L226.50,343.76 L227.00,343.18 L227.50,342.61 L228.00,342.05 L228.50,341.49 L229.00,340.94 L229.50,340.39 L230.00,339.85 L230.50,339.31 L231.00,338.78 L231.50,338.26 L232.00,337.74 L232.50,337.23 L233.00,336.72 L233.50,336.23 L234.00,335.73 L234.50,335.25 L235.00,334.77 L235.50,334.30 L236.00,333.83 L236.50,333.37 L237.00,332.92 L237.50,332.48 L238.00,332.04 L238.50,331.61 L239.00,331.18 L239.50,330.76 L240.00,330.35 L240.50,329.95 L241.00,329.55 L241.50,329.16 L242.00,328.77 L242.50,328.40 L243.00,328.03 L243.50,327.66 L244.00,327.30 L244.50,326.95 L245.00,326.61 L245.50,326.27 L246.00,325.94 L246.50,325.61 L247.00,325.29 L247.50,324.98 L248.00,324.67 L248.50,324.37 L249.00,324.08 L249.50,323.79 L250.00,323.50 L250.50,323.23 L251.00,322.96 L251.50,322.69 L252.00,322.43 L252.50,322.18 L253.00,321.93 L253.50,321.69 L254.00,321.45 L254.50,321.22 L255.00,320.99 L255.50,320.77 L256.00,320.55 L256.50,320.34 L257.00,320.13 L257.50,319.93 L258.00,319.73 L258.50,319.54 L259.00,319.35 L259.50,319.17 L260.00,318.99 L260.50,318.82 L261.00,318.65 L261.50,318.48 L262.00,318.32 L262.50,318.16 L263.00,318.01 L263.50,317.86 L264.00,317.71 L264.50,317.57 L265.00,317.43 L265.50,317.30 L266.00,317.17 L266.50,317.04 L267.00,316.92 L267.50,316.80 L268.00,316.68 L268.50,316.57 L269.00,316.45 L269.40,316.37 L269.40,312.80 L33.00,312.80 Z" fill="#FDEFDF"/>
<path d="M33.00,313.08 L33.50,313.08 L34.00,313.08 L34.50,313.08 L35.00,313.08 L35.50,313.08 L36.00,313.08 L36.50,313.08 L37.00,313.08 L37.50,313.08 L38.00,313.07 L38.50,313.07 L39.00,313.07 L39.50,313.07 L40.00,313.06 L40.50,313.06 L41.00,313.06 L41.50,313.05 L42.00,313.05 L42.50,313.04 L43.00,313.04 L43.50,313.03 L44.00,313.03 L44.50,313.02 L45.00,313.01 L45.50,313.00 L46.00,312.99 L46.50,312.98 L47.00,312.97 L47.50,312.96 L48.00,312.95 L48.50,312.93 L49.00,312.91 L49.50,312.90 L50.00,312.88 L50.50,312.86 L51.00,312.84 L51.50,312.81 L52.00,312.79 L52.50,312.76 L53.00,312.73 L53.50,312.70 L54.00,312.66 L54.50,312.62 L55.00,312.59 L55.50,312.54 L56.00,312.50 L56.50,312.45 L57.00,312.40 L57.50,312.34 L58.00,312.28 L58.50,312.22 L59.00,312.15 L59.50,312.08 L60.00,312.01 L60.50,311.93 L61.00,311.84 L61.50,311.76 L62.00,311.66 L62.50,311.56 L63.00,311.46 L63.50,311.35 L64.00,311.23 L64.50,311.11 L65.00,310.98 L65.50,310.84 L66.00,310.70 L66.50,310.55 L67.00,310.39 L67.50,310.23 L68.00,310.05 L68.50,309.87 L69.00,309.68 L69.50,309.49 L70.00,309.28 L70.50,309.07 L71.00,308.84 L71.50,308.61 L72.00,308.36 L72.50,308.11 L73.00,307.85 L73.50,307.58 L74.00,307.29 L74.50,307.00 L75.00,306.70 L75.50,306.38 L76.00,306.05 L76.50,305.72 L77.00,305.37 L77.50,305.01 L78.00,304.63 L78.50,304.25 L79.00,303.85 L79.50,303.45 L80.00,303.03 L80.50,302.60 L81.00,302.15 L81.50,301.70 L82.00,301.23 L82.50,300.75 L83.00,300.26 L83.50,299.75 L84.00,299.24 L84.50,298.71 L85.00,298.17 L85.50,297.61 L86.00,297.05 L86.50,296.47 L87.00,295.89 L87.50,295.29 L88.00,294.68 L88.50,294.06 L89.00,293.43 L89.50,292.79 L90.00,292.14 L90.50,291.48 L91.00,290.81 L91.50,290.13 L92.00,289.45 L92.50,288.75 L93.00,288.05 L93.50,287.34 L94.00,286.62 L94.50,285.90 L95.00,285.17 L95.50,284.43 L96.00,283.69 L96.50,282.95 L97.00,282.20 L97.50,281.45 L98.00,280.70 L98.50,279.94 L99.00,279.18 L99.50,278.43 L100.00,277.67 L100.50,276.91 L101.00,276.16 L101.50,275.41 L102.00,274.66 L102.50,273.91 L103.00,273.17 L103.50,272.43 L104.00,271.70 L104.50,270.98 L105.00,270.27 L105.50,269.56 L106.00,268.86 L106.50,268.18 L107.00,267.50 L107.50,266.84 L108.00,266.18 L108.50,265.55 L109.00,264.92 L109.50,264.31 L110.00,263.72 L110.50,263.14 L111.00,262.59 L111.50,262.05 L112.00,261.53 L112.50,261.02 L113.00,260.54 L113.50,260.09 L114.00,259.65 L114.50,259.24 L115.00,258.85 L115.50,258.48 L116.00,258.14 L116.50,257.83 L117.00,257.54 L117.50,257.28 L118.00,257.05 L118.50,256.85 L119.00,256.68 L119.50,256.53 L120.00,256.42 L120.50,256.33 L121.00,256.28 L121.50,256.26 L122.00,256.27 L122.50,256.31 L123.00,256.39 L123.50,256.50 L124.00,256.64 L124.50,256.81 L125.00,257.02 L125.50,257.27 L126.00,257.55 L126.50,257.86 L127.00,258.20 L127.50,258.59 L128.00,259.00 L128.50,259.45 L129.00,259.94 L129.50,260.46 L130.00,261.01 L130.50,261.60 L131.00,262.22 L131.50,262.88 L132.00,263.57 L132.50,264.29 L133.00,265.05 L133.50,265.84 L134.00,266.66 L134.50,267.52 L135.00,268.40 L135.50,269.32 L136.00,270.27 L136.50,271.25 L137.00,272.26 L137.50,273.29 L138.00,274.36 L138.50,275.45 L139.00,276.57 L139.50,277.72 L140.00,278.89 L140.50,280.08 L141.00,281.30 L141.50,282.55 L142.00,283.82 L142.50,285.10 L143.00,286.41 L143.50,287.74 L144.00,289.09 L144.50,290.46 L145.00,291.84 L145.50,293.24 L146.00,294.66 L146.50,296.09 L147.00,297.53 L147.50,298.99 L148.00,300.45 L148.50,301.93 L149.00,303.42 L149.50,304.91 L150.00,306.42 L150.50,307.93 L151.00,309.44 L151.50,310.96 L152.00,312.48 L152.50,314.01 L153.00,315.53 L153.50,317.06 L154.00,318.58 L154.50,320.11 L155.00,321.63 L155.50,323.14 L156.00,324.66 L156.50,326.16 L157.00,327.66 L157.50,329.16 L158.00,330.64 L158.50,332.11 L159.00,333.58 L159.50,335.03 L160.00,336.47 L160.50,337.90 L161.00,339.31 L161.50,340.71 L162.00,342.10 L162.50,343.46 L163.00,344.81 L163.50,346.14 L164.00,347.46 L164.50,348.75 L165.00,350.03 L165.50,351.28 L166.00,352.51 L166.50,353.73 L167.00,354.91 L167.50,356.08 L168.00,357.22 L168.50,358.34 L169.00,359.43 L169.50,360.50 L170.00,361.55 L170.50,362.56 L171.00,363.56 L171.50,364.52 L172.00,365.46 L172.50,366.37 L173.00,367.25 L173.50,368.11 L174.00,368.94 L174.50,369.74 L175.00,370.51 L175.50,371.25 L176.00,371.96 L176.50,372.65 L177.00,373.31 L177.50,373.93 L178.00,374.53 L178.50,375.10 L179.00,375.64 L179.50,376.16 L180.00,376.64 L180.50,377.09 L181.00,377.52 L181.50,377.92 L182.00,378.29 L182.50,378.63 L183.00,378.94 L183.50,379.22 L184.00,379.48 L184.50,379.71 L185.00,379.91 L185.50,380.09 L186.00,380.24 L186.50,380.36 L187.00,380.46 L187.50,380.53 L188.00,380.58 L188.50,380.60 L189.00,380.60 L189.50,380.57 L190.00,380.52 L190.50,380.44 L191.00,380.34 L191.50,380.22 L192.00,380.08 L192.50,379.92 L193.00,379.73 L193.50,379.53 L194.00,379.30 L194.50,379.06 L195.00,378.79 L195.50,378.51 L196.00,378.21 L196.50,377.89 L197.00,377.55 L197.50,377.20 L198.00,376.82 L198.50,376.44 L199.00,376.04 L199.50,375.62 L200.00,375.19 L200.50,374.75 L201.00,374.29 L201.50,373.82 L202.00,373.33 L202.50,372.84 L203.00,372.33 L203.50,371.82 L204.00,371.29 L204.50,370.75 L205.00,370.20 L205.50,369.65 L206.00,369.09 L206.50,368.51 L207.00,367.94 L207.50,367.35 L208.00,366.76 L208.50,366.16 L209.00,365.55 L209.50,364.94 L210.00,364.33 L210.50,363.71 L211.00,363.09 L211.50,362.46 L212.00,361.83 L212.50,361.20 L213.00,360.57 L213.50,359.93 L214.00,359.29 L214.50,358.66 L215.00,358.02 L215.50,357.38 L216.00,356.74 L216.50,356.10 L217.00,355.46 L217.50,354.82 L218.00,354.18 L218.50,353.54 L219.00,352.91 L219.50,352.28 L220.00,351.65 L220.50,351.02 L221.00,350.39 L221.50,349.77 L222.00,349.15 L222.50,348.54 L223.00,347.92 L223.50,347.32 L224.00,346.71 L224.50,346.11 L225.00,345.52 L225.50,344.93 L226.00,344.34 L226.50,343.76 L227.00,343.18 L227.50,342.61 L228.00,342.05 L228.50,341.49 L229.00,340.94 L229.50,340.39 L230.00,339.85 L230.50,339.31 L231.00,338.78 L231.50,338.26 L232.00,337.74 L232.50,337.23 L233.00,336.72 L233.50,336.23 L234.00,335.73 L234.50,335.25 L235.00,334.77 L235.50,334.30 L236.00,333.83 L236.50,333.37 L237.00,332.92 L237.50,332.48 L238.00,332.04 L238.50,331.61 L239.00,331.18 L239.50,330.76 L240.00,330.35 L240.50,329.95 L241.00,329.55 L241.50,329.16 L242.00,328.77 L242.50,328.40 L243.00,328.03 L243.50,327.66 L244.00,327.30 L244.50,326.95 L245.00,326.61 L245.50,326.27 L246.00,325.94 L246.50,325.61 L247.00,325.29 L247.50,324.98 L248.00,324.67 L248.50,324.37 L249.00,324.08 L249.50,323.79 L250.00,323.50 L250.50,323.23 L251.00,322.96 L251.50,322.69 L252.00,322.43 L252.50,322.18 L253.00,321.93 L253.50,321.69 L254.00,321.45 L254.50,321.22 L255.00,320.99 L255.50,320.77 L256.00,320.55 L256.50,320.34 L257.00,320.13 L257.50,319.93 L258.00,319.73 L258.50,319.54 L259.00,319.35 L259.50,319.17 L260.00,318.99 L260.50,318.82 L261.00,318.65 L261.50,318.48 L262.00,318.32 L262.50,318.16 L263.00,318.01 L263.50,317.86 L264.00,317.71 L264.50,317.57 L265.00,317.43 L265.50,317.30 L266.00,317.17 L266.50,317.04 L267.00,316.92 L267.50,316.80 L268.00,316.68 L268.50,316.57 L269.00,316.45 L269.40,316.37 L269.40,312.80 L33.00,312.80 Z" fill="#EBDED6" clip-path="url(#clipP3)"/>
<text x="25.5" y="368.00" text-anchor="end" class="tk">−0.2</text>
<text x="25.5" y="342.55" text-anchor="end" class="tk">−0.1</text>
<text x="25.5" y="317.10" text-anchor="end" class="tk">0.0</text>
<text x="25.5" y="291.65" text-anchor="end" class="tk">0.1</text>
<text x="25.5" y="266.20" text-anchor="end" class="tk">0.2</text>
<text x="25.5" y="240.75" text-anchor="end" class="tk">0.3</text>
<text x="77.20" y="327.90" text-anchor="middle" class="tk">10</text>
<text x="125.20" y="327.90" text-anchor="middle" class="tk">20</text>
<text x="173.20" y="327.90" text-anchor="middle" class="tk">30</text>
<text x="221.20" y="327.90" text-anchor="middle" class="tk">40</text>
<text x="269.20" y="327.90" text-anchor="middle" class="tk">50</text>
<line x1="28.5" y1="236.5" x2="28.5" y2="388.8" stroke="#d9d9d9" stroke-width="1"/>
<line x1="28.5" y1="312.8" x2="273.8" y2="312.8" stroke="#d9d9d9" stroke-width="1"/>
<line x1="28.5" y1="363.70" x2="32.0" y2="363.70" stroke="#c8c8c8" stroke-width="0.8"/>
<line x1="28.5" y1="338.25" x2="32.0" y2="338.25" stroke="#c8c8c8" stroke-width="0.8"/>
<line x1="28.5" y1="312.80" x2="32.0" y2="312.80" stroke="#c8c8c8" stroke-width="0.8"/>
<line x1="28.5" y1="287.35" x2="32.0" y2="287.35" stroke="#c8c8c8" stroke-width="0.8"/>
<line x1="28.5" y1="261.90" x2="32.0" y2="261.90" stroke="#c8c8c8" stroke-width="0.8"/>
<line x1="28.5" y1="236.45" x2="32.0" y2="236.45" stroke="#c8c8c8" stroke-width="0.8"/>
<line x1="28.5" y1="389.15" x2="30.5" y2="389.15" stroke="#c8c8c8" stroke-width="0.8"/>
<line x1="28.5" y1="384.06" x2="30.5" y2="384.06" stroke="#c8c8c8" stroke-width="0.8"/>
<line x1="28.5" y1="378.97" x2="30.5" y2="378.97" stroke="#c8c8c8" stroke-width="0.8"/>
<line x1="28.5" y1="373.88" x2="30.5" y2="373.88" stroke="#c8c8c8" stroke-width="0.8"/>
<line x1="28.5" y1="368.79" x2="30.5" y2="368.79" stroke="#c8c8c8" stroke-width="0.8"/>
<line x1="28.5" y1="358.61" x2="30.5" y2="358.61" stroke="#c8c8c8" stroke-width="0.8"/>
<line x1="28.5" y1="353.52" x2="30.5" y2="353.52" stroke="#c8c8c8" stroke-width="0.8"/>
<line x1="28.5" y1="348.43" x2="30.5" y2="348.43" stroke="#c8c8c8" stroke-width="0.8"/>
<line x1="28.5" y1="343.34" x2="30.5" y2="343.34" stroke="#c8c8c8" stroke-width="0.8"/>
<line x1="28.5" y1="333.16" x2="30.5" y2="333.16" stroke="#c8c8c8" stroke-width="0.8"/>
<line x1="28.5" y1="328.07" x2="30.5" y2="328.07" stroke="#c8c8c8" stroke-width="0.8"/>
<line x1="28.5" y1="322.98" x2="30.5" y2="322.98" stroke="#c8c8c8" stroke-width="0.8"/>
<line x1="28.5" y1="317.89" x2="30.5" y2="317.89" stroke="#c8c8c8" stroke-width="0.8"/>
<line x1="28.5" y1="307.71" x2="30.5" y2="307.71" stroke="#c8c8c8" stroke-width="0.8"/>
<line x1="28.5" y1="302.62" x2="30.5" y2="302.62" stroke="#c8c8c8" stroke-width="0.8"/>
<line x1="28.5" y1="297.53" x2="30.5" y2="297.53" stroke="#c8c8c8" stroke-width="0.8"/>
<line x1="28.5" y1="292.44" x2="30.5" y2="292.44" stroke="#c8c8c8" stroke-width="0.8"/>
<line x1="28.5" y1="282.26" x2="30.5" y2="282.26" stroke="#c8c8c8" stroke-width="0.8"/>
<line x1="28.5" y1="277.17" x2="30.5" y2="277.17" stroke="#c8c8c8" stroke-width="0.8"/>
<line x1="28.5" y1="272.08" x2="30.5" y2="272.08" stroke="#c8c8c8" stroke-width="0.8"/>
<line x1="28.5" y1="266.99" x2="30.5" y2="266.99" stroke="#c8c8c8" stroke-width="0.8"/>
<line x1="28.5" y1="256.81" x2="30.5" y2="256.81" stroke="#c8c8c8" stroke-width="0.8"/>
<line x1="28.5" y1="251.72" x2="30.5" y2="251.72" stroke="#c8c8c8" stroke-width="0.8"/>
<line x1="28.5" y1="246.63" x2="30.5" y2="246.63" stroke="#c8c8c8" stroke-width="0.8"/>
<line x1="28.5" y1="241.54" x2="30.5" y2="241.54" stroke="#c8c8c8" stroke-width="0.8"/>
<line x1="77.20" y1="312.8" x2="77.20" y2="309.3" stroke="#c8c8c8" stroke-width="0.8"/>
<line x1="125.20" y1="312.8" x2="125.20" y2="309.3" stroke="#c8c8c8" stroke-width="0.8"/>
<line x1="173.20" y1="312.8" x2="173.20" y2="309.3" stroke="#c8c8c8" stroke-width="0.8"/>
<line x1="221.20" y1="312.8" x2="221.20" y2="309.3" stroke="#c8c8c8" stroke-width="0.8"/>
<line x1="269.20" y1="312.8" x2="269.20" y2="309.3" stroke="#c8c8c8" stroke-width="0.8"/>
<line x1="38.80" y1="312.8" x2="38.80" y2="310.8" stroke="#c8c8c8" stroke-width="0.8"/>
<line x1="48.40" y1="312.8" x2="48.40" y2="310.8" stroke="#c8c8c8" stroke-width="0.8"/>
<line x1="58.00" y1="312.8" x2="58.00" y2="310.8" stroke="#c8c8c8" stroke-width="0.8"/>
<line x1="67.60" y1="312.8" x2="67.60" y2="310.8" stroke="#c8c8c8" stroke-width="0.8"/>
<line x1="86.80" y1="312.8" x2="86.80" y2="310.8" stroke="#c8c8c8" stroke-width="0.8"/>
<line x1="96.40" y1="312.8" x2="96.40" y2="310.8" stroke="#c8c8c8" stroke-width="0.8"/>
<line x1="106.00" y1="312.8" x2="106.00" y2="310.8" stroke="#c8c8c8" stroke-width="0.8"/>
<line x1="115.60" y1="312.8" x2="115.60" y2="310.8" stroke="#c8c8c8" stroke-width="0.8"/>
<line x1="134.80" y1="312.8" x2="134.80" y2="310.8" stroke="#c8c8c8" stroke-width="0.8"/>
<line x1="144.40" y1="312.8" x2="144.40" y2="310.8" stroke="#c8c8c8" stroke-width="0.8"/>
<line x1="154.00" y1="312.8" x2="154.00" y2="310.8" stroke="#c8c8c8" stroke-width="0.8"/>
<line x1="163.60" y1="312.8" x2="163.60" y2="310.8" stroke="#c8c8c8" stroke-width="0.8"/>
<line x1="182.80" y1="312.8" x2="182.80" y2="310.8" stroke="#c8c8c8" stroke-width="0.8"/>
<line x1="192.40" y1="312.8" x2="192.40" y2="310.8" stroke="#c8c8c8" stroke-width="0.8"/>
<line x1="202.00" y1="312.8" x2="202.00" y2="310.8" stroke="#c8c8c8" stroke-width="0.8"/>
<line x1="211.60" y1="312.8" x2="211.60" y2="310.8" stroke="#c8c8c8" stroke-width="0.8"/>
<line x1="230.80" y1="312.8" x2="230.80" y2="310.8" stroke="#c8c8c8" stroke-width="0.8"/>
<line x1="240.40" y1="312.8" x2="240.40" y2="310.8" stroke="#c8c8c8" stroke-width="0.8"/>
<line x1="250.00" y1="312.8" x2="250.00" y2="310.8" stroke="#c8c8c8" stroke-width="0.8"/>
<line x1="259.60" y1="312.8" x2="259.60" y2="310.8" stroke="#c8c8c8" stroke-width="0.8"/>
<path d="M33.00,313.04 L33.50,313.03 L34.00,313.03 L34.50,313.02 L35.00,313.01 L35.50,313.00 L36.00,312.99 L36.50,312.98 L37.00,312.97 L37.50,312.96 L38.00,312.94 L38.50,312.93 L39.00,312.91 L39.50,312.89 L40.00,312.87 L40.50,312.85 L41.00,312.83 L41.50,312.80 L42.00,312.77 L42.50,312.74 L43.00,312.71 L43.50,312.68 L44.00,312.64 L44.50,312.60 L45.00,312.55 L45.50,312.51 L46.00,312.46 L46.50,312.40 L47.00,312.35 L47.50,312.29 L48.00,312.22 L48.50,312.15 L49.00,312.08 L49.50,312.00 L50.00,311.92 L50.50,311.83 L51.00,311.74 L51.50,311.64 L52.00,311.53 L52.50,311.42 L53.00,311.31 L53.50,311.18 L54.00,311.05 L54.50,310.91 L55.00,310.77 L55.50,310.62 L56.00,310.46 L56.50,310.29 L57.00,310.11 L57.50,309.93 L58.00,309.73 L58.50,309.53 L59.00,309.32 L59.50,309.09 L60.00,308.86 L60.50,308.62 L61.00,308.36 L61.50,308.10 L62.00,307.83 L62.50,307.54 L63.00,307.24 L63.50,306.93 L64.00,306.61 L64.50,306.28 L65.00,305.93 L65.50,305.57 L66.00,305.20 L66.50,304.82 L67.00,304.42 L67.50,304.01 L68.00,303.58 L68.50,303.14 L69.00,302.69 L69.50,302.23 L70.00,301.75 L70.50,301.25 L71.00,300.74 L71.50,300.22 L72.00,299.68 L72.50,299.13 L73.00,298.57 L73.50,297.99 L74.00,297.39 L74.50,296.78 L75.00,296.16 L75.50,295.53 L76.00,294.88 L76.50,294.21 L77.00,293.53 L77.50,292.84 L78.00,292.14 L78.50,291.42 L79.00,290.69 L79.50,289.95 L80.00,289.20 L80.50,288.43 L81.00,287.65 L81.50,286.86 L82.00,286.06 L82.50,285.25 L83.00,284.44 L83.50,283.61 L84.00,282.77 L84.50,281.92 L85.00,281.07 L85.50,280.21 L86.00,279.34 L86.50,278.47 L87.00,277.59 L87.50,276.70 L88.00,275.81 L88.50,274.92 L89.00,274.03 L89.50,273.13 L90.00,272.23 L90.50,271.34 L91.00,270.44 L91.50,269.54 L92.00,268.65 L92.50,267.76 L93.00,266.87 L93.50,265.98 L94.00,265.11 L94.50,264.23 L95.00,263.37 L95.50,262.51 L96.00,261.66 L96.50,260.82 L97.00,259.99 L97.50,259.18 L98.00,258.37 L98.50,257.58 L99.00,256.81 L99.50,256.05 L100.00,255.30 L100.50,254.57 L101.00,253.86 L101.50,253.17 L102.00,252.50 L102.50,251.85 L103.00,251.22 L103.50,250.61 L104.00,250.02 L104.50,249.46 L105.00,248.93 L105.50,248.42 L106.00,247.93 L106.50,247.47 L107.00,247.04 L107.50,246.64 L108.00,246.27 L108.50,245.93 L109.00,245.62 L109.50,245.33 L110.00,245.08 L110.50,244.87 L111.00,244.68 L111.50,244.53 L112.00,244.41 L112.50,244.33 L113.00,244.28 L113.50,244.27 L114.00,244.29 L114.50,244.34 L115.00,244.44 L115.50,244.56 L116.00,244.73 L116.50,244.93 L117.00,245.17 L117.50,245.44 L118.00,245.75 L118.50,246.10 L119.00,246.49 L119.50,246.91 L120.00,247.36 L120.50,247.86 L121.00,248.39 L121.50,248.95 L122.00,249.56 L122.50,250.19 L123.00,250.87 L123.50,251.58 L124.00,252.32 L124.50,253.09 L125.00,253.91 L125.50,254.75 L126.00,255.63 L126.50,256.53 L127.00,257.47 L127.50,258.45 L128.00,259.45 L128.50,260.48 L129.00,261.54 L129.50,262.63 L130.00,263.74 L130.50,264.89 L131.00,266.06 L131.50,267.25 L132.00,268.47 L132.50,269.71 L133.00,270.98 L133.50,272.26 L134.00,273.57 L134.50,274.90 L135.00,276.24 L135.50,277.61 L136.00,278.99 L136.50,280.38 L137.00,281.80 L137.50,283.22 L138.00,284.66 L138.50,286.11 L139.00,287.57 L139.50,289.05 L140.00,290.53 L140.50,292.01 L141.00,293.51 L141.50,295.01 L142.00,296.51 L142.50,298.02 L143.00,299.53 L143.50,301.05 L144.00,302.56 L144.50,304.07 L145.00,305.58 L145.50,307.09 L146.00,308.60 L146.50,310.10 L147.00,311.59 L147.50,313.08 L148.00,314.56 L148.50,316.03 L149.00,317.50 L149.50,318.95 L150.00,320.39 L150.50,321.82 L151.00,323.24 L151.50,324.64 L152.00,326.03 L152.50,327.40 L153.00,328.76 L153.50,330.10 L154.00,331.43 L154.50,332.73 L155.00,334.02 L155.50,335.29 L156.00,336.53 L156.50,337.76 L157.00,338.96 L157.50,340.15 L158.00,341.31 L158.50,342.44 L159.00,343.56 L159.50,344.65 L160.00,345.72 L160.50,346.76 L161.00,347.77 L161.50,348.77 L162.00,349.73 L162.50,350.67 L163.00,351.58 L163.50,352.47 L164.00,353.33 L164.50,354.16 L165.00,354.97 L165.50,355.75 L166.00,356.50 L166.50,357.22 L167.00,357.92 L167.50,358.59 L168.00,359.23 L168.50,359.84 L169.00,360.43 L169.50,360.99 L170.00,361.52 L170.50,362.02 L171.00,362.49 L171.50,362.94 L172.00,363.37 L172.50,363.76 L173.00,364.13 L173.50,364.47 L174.00,364.79 L174.50,365.07 L175.00,365.34 L175.50,365.58 L176.00,365.79 L176.50,365.98 L177.00,366.14 L177.50,366.28 L178.00,366.39 L178.50,366.49 L179.00,366.55 L179.50,366.60 L180.00,366.62 L180.50,366.62 L181.00,366.60 L181.50,366.56 L182.00,366.50 L182.50,366.42 L183.00,366.31 L183.50,366.19 L184.00,366.05 L184.50,365.89 L185.00,365.71 L185.50,365.51 L186.00,365.30 L186.50,365.07 L187.00,364.83 L187.50,364.56 L188.00,364.29 L188.50,363.99 L189.00,363.69 L189.50,363.37 L190.00,363.04 L190.50,362.69 L191.00,362.33 L191.50,361.96 L192.00,361.58 L192.50,361.19 L193.00,360.78 L193.50,360.37 L194.00,359.94 L194.50,359.51 L195.00,359.07 L195.50,358.62 L196.00,358.17 L196.50,357.70 L197.00,357.23 L197.50,356.75 L198.00,356.27 L198.50,355.78 L199.00,355.29 L199.50,354.79 L200.00,354.28 L200.50,353.78 L201.00,353.26 L201.50,352.75 L202.00,352.23 L202.50,351.71 L203.00,351.19 L203.50,350.67 L204.00,350.14 L204.50,349.62 L205.00,349.09 L205.50,348.56 L206.00,348.03 L206.50,347.50 L207.00,346.98 L207.50,346.45 L208.00,345.92 L208.50,345.40 L209.00,344.87 L209.50,344.35 L210.00,343.83 L210.50,343.32 L211.00,342.80 L211.50,342.29 L212.00,341.78 L212.50,341.27 L213.00,340.77 L213.50,340.27 L214.00,339.77 L214.50,339.28 L215.00,338.79 L215.50,338.30 L216.00,337.82 L216.50,337.35 L217.00,336.88 L217.50,336.41 L218.00,335.95 L218.50,335.49 L219.00,335.03 L219.50,334.59 L220.00,334.14 L220.50,333.71 L221.00,333.27 L221.50,332.85 L222.00,332.42 L222.50,332.01 L223.00,331.60 L223.50,331.19 L224.00,330.79 L224.50,330.40 L225.00,330.01 L225.50,329.63 L226.00,329.25 L226.50,328.88 L227.00,328.51 L227.50,328.15 L228.00,327.80 L228.50,327.45 L229.00,327.11 L229.50,326.77 L230.00,326.44 L230.50,326.12 L231.00,325.80 L231.50,325.48 L232.00,325.18 L232.50,324.87 L233.00,324.58 L233.50,324.29 L234.00,324.00 L234.50,323.72 L235.00,323.44 L235.50,323.17 L236.00,322.91 L236.50,322.65 L237.00,322.40 L237.50,322.15 L238.00,321.91 L238.50,321.67 L239.00,321.44 L239.50,321.21 L240.00,320.99 L240.50,320.77 L241.00,320.55 L241.50,320.34 L242.00,320.14 L242.50,319.94 L243.00,319.75 L243.50,319.56 L244.00,319.37 L244.50,319.19 L245.00,319.01 L245.50,318.84 L246.00,318.67 L246.50,318.51 L247.00,318.35 L247.50,318.19 L248.00,318.04 L248.50,317.89 L249.00,317.74 L249.50,317.60 L250.00,317.46 L250.50,317.33 L251.00,317.20 L251.50,317.07 L252.00,316.95 L252.50,316.83 L253.00,316.71 L253.50,316.59 L254.00,316.48 L254.50,316.38 L255.00,316.27 L255.50,316.17 L256.00,316.07 L256.50,315.97 L257.00,315.88 L257.50,315.79 L258.00,315.70 L258.50,315.61 L259.00,315.53 L259.50,315.45 L260.00,315.37 L260.50,315.29 L261.00,315.22 L261.50,315.15 L262.00,315.08 L262.50,315.01 L263.00,314.94 L263.50,314.88 L264.00,314.82 L264.50,314.76 L265.00,314.70 L265.50,314.64 L266.00,314.59 L266.50,314.53 L267.00,314.48 L267.50,314.43 L268.00,314.39 L268.50,314.34 L269.00,314.29 L269.40,314.26" fill="none" stroke="#3F88C2" stroke-width="2" stroke-linejoin="round"/>
<path d="M33.00,313.08 L33.50,313.08 L34.00,313.08 L34.50,313.08 L35.00,313.08 L35.50,313.08 L36.00,313.08 L36.50,313.08 L37.00,313.08 L37.50,313.08 L38.00,313.07 L38.50,313.07 L39.00,313.07 L39.50,313.07 L40.00,313.06 L40.50,313.06 L41.00,313.06 L41.50,313.05 L42.00,313.05 L42.50,313.04 L43.00,313.04 L43.50,313.03 L44.00,313.03 L44.50,313.02 L45.00,313.01 L45.50,313.00 L46.00,312.99 L46.50,312.98 L47.00,312.97 L47.50,312.96 L48.00,312.95 L48.50,312.93 L49.00,312.91 L49.50,312.90 L50.00,312.88 L50.50,312.86 L51.00,312.84 L51.50,312.81 L52.00,312.79 L52.50,312.76 L53.00,312.73 L53.50,312.70 L54.00,312.66 L54.50,312.62 L55.00,312.59 L55.50,312.54 L56.00,312.50 L56.50,312.45 L57.00,312.40 L57.50,312.34 L58.00,312.28 L58.50,312.22 L59.00,312.15 L59.50,312.08 L60.00,312.01 L60.50,311.93 L61.00,311.84 L61.50,311.76 L62.00,311.66 L62.50,311.56 L63.00,311.46 L63.50,311.35 L64.00,311.23 L64.50,311.11 L65.00,310.98 L65.50,310.84 L66.00,310.70 L66.50,310.55 L67.00,310.39 L67.50,310.23 L68.00,310.05 L68.50,309.87 L69.00,309.68 L69.50,309.49 L70.00,309.28 L70.50,309.07 L71.00,308.84 L71.50,308.61 L72.00,308.36 L72.50,308.11 L73.00,307.85 L73.50,307.58 L74.00,307.29 L74.50,307.00 L75.00,306.70 L75.50,306.38 L76.00,306.05 L76.50,305.72 L77.00,305.37 L77.50,305.01 L78.00,304.63 L78.50,304.25 L79.00,303.85 L79.50,303.45 L80.00,303.03 L80.50,302.60 L81.00,302.15 L81.50,301.70 L82.00,301.23 L82.50,300.75 L83.00,300.26 L83.50,299.75 L84.00,299.24 L84.50,298.71 L85.00,298.17 L85.50,297.61 L86.00,297.05 L86.50,296.47 L87.00,295.89 L87.50,295.29 L88.00,294.68 L88.50,294.06 L89.00,293.43 L89.50,292.79 L90.00,292.14 L90.50,291.48 L91.00,290.81 L91.50,290.13 L92.00,289.45 L92.50,288.75 L93.00,288.05 L93.50,287.34 L94.00,286.62 L94.50,285.90 L95.00,285.17 L95.50,284.43 L96.00,283.69 L96.50,282.95 L97.00,282.20 L97.50,281.45 L98.00,280.70 L98.50,279.94 L99.00,279.18 L99.50,278.43 L100.00,277.67 L100.50,276.91 L101.00,276.16 L101.50,275.41 L102.00,274.66 L102.50,273.91 L103.00,273.17 L103.50,272.43 L104.00,271.70 L104.50,270.98 L105.00,270.27 L105.50,269.56 L106.00,268.86 L106.50,268.18 L107.00,267.50 L107.50,266.84 L108.00,266.18 L108.50,265.55 L109.00,264.92 L109.50,264.31 L110.00,263.72 L110.50,263.14 L111.00,262.59 L111.50,262.05 L112.00,261.53 L112.50,261.02 L113.00,260.54 L113.50,260.09 L114.00,259.65 L114.50,259.24 L115.00,258.85 L115.50,258.48 L116.00,258.14 L116.50,257.83 L117.00,257.54 L117.50,257.28 L118.00,257.05 L118.50,256.85 L119.00,256.68 L119.50,256.53 L120.00,256.42 L120.50,256.33 L121.00,256.28 L121.50,256.26 L122.00,256.27 L122.50,256.31 L123.00,256.39 L123.50,256.50 L124.00,256.64 L124.50,256.81 L125.00,257.02 L125.50,257.27 L126.00,257.55 L126.50,257.86 L127.00,258.20 L127.50,258.59 L128.00,259.00 L128.50,259.45 L129.00,259.94 L129.50,260.46 L130.00,261.01 L130.50,261.60 L131.00,262.22 L131.50,262.88 L132.00,263.57 L132.50,264.29 L133.00,265.05 L133.50,265.84 L134.00,266.66 L134.50,267.52 L135.00,268.40 L135.50,269.32 L136.00,270.27 L136.50,271.25 L137.00,272.26 L137.50,273.29 L138.00,274.36 L138.50,275.45 L139.00,276.57 L139.50,277.72 L140.00,278.89 L140.50,280.08 L141.00,281.30 L141.50,282.55 L142.00,283.82 L142.50,285.10 L143.00,286.41 L143.50,287.74 L144.00,289.09 L144.50,290.46 L145.00,291.84 L145.50,293.24 L146.00,294.66 L146.50,296.09 L147.00,297.53 L147.50,298.99 L148.00,300.45 L148.50,301.93 L149.00,303.42 L149.50,304.91 L150.00,306.42 L150.50,307.93 L151.00,309.44 L151.50,310.96 L152.00,312.48 L152.50,314.01 L153.00,315.53 L153.50,317.06 L154.00,318.58 L154.50,320.11 L155.00,321.63 L155.50,323.14 L156.00,324.66 L156.50,326.16 L157.00,327.66 L157.50,329.16 L158.00,330.64 L158.50,332.11 L159.00,333.58 L159.50,335.03 L160.00,336.47 L160.50,337.90 L161.00,339.31 L161.50,340.71 L162.00,342.10 L162.50,343.46 L163.00,344.81 L163.50,346.14 L164.00,347.46 L164.50,348.75 L165.00,350.03 L165.50,351.28 L166.00,352.51 L166.50,353.73 L167.00,354.91 L167.50,356.08 L168.00,357.22 L168.50,358.34 L169.00,359.43 L169.50,360.50 L170.00,361.55 L170.50,362.56 L171.00,363.56 L171.50,364.52 L172.00,365.46 L172.50,366.37 L173.00,367.25 L173.50,368.11 L174.00,368.94 L174.50,369.74 L175.00,370.51 L175.50,371.25 L176.00,371.96 L176.50,372.65 L177.00,373.31 L177.50,373.93 L178.00,374.53 L178.50,375.10 L179.00,375.64 L179.50,376.16 L180.00,376.64 L180.50,377.09 L181.00,377.52 L181.50,377.92 L182.00,378.29 L182.50,378.63 L183.00,378.94 L183.50,379.22 L184.00,379.48 L184.50,379.71 L185.00,379.91 L185.50,380.09 L186.00,380.24 L186.50,380.36 L187.00,380.46 L187.50,380.53 L188.00,380.58 L188.50,380.60 L189.00,380.60 L189.50,380.57 L190.00,380.52 L190.50,380.44 L191.00,380.34 L191.50,380.22 L192.00,380.08 L192.50,379.92 L193.00,379.73 L193.50,379.53 L194.00,379.30 L194.50,379.06 L195.00,378.79 L195.50,378.51 L196.00,378.21 L196.50,377.89 L197.00,377.55 L197.50,377.20 L198.00,376.82 L198.50,376.44 L199.00,376.04 L199.50,375.62 L200.00,375.19 L200.50,374.75 L201.00,374.29 L201.50,373.82 L202.00,373.33 L202.50,372.84 L203.00,372.33 L203.50,371.82 L204.00,371.29 L204.50,370.75 L205.00,370.20 L205.50,369.65 L206.00,369.09 L206.50,368.51 L207.00,367.94 L207.50,367.35 L208.00,366.76 L208.50,366.16 L209.00,365.55 L209.50,364.94 L210.00,364.33 L210.50,363.71 L211.00,363.09 L211.50,362.46 L212.00,361.83 L212.50,361.20 L213.00,360.57 L213.50,359.93 L214.00,359.29 L214.50,358.66 L215.00,358.02 L215.50,357.38 L216.00,356.74 L216.50,356.10 L217.00,355.46 L217.50,354.82 L218.00,354.18 L218.50,353.54 L219.00,352.91 L219.50,352.28 L220.00,351.65 L220.50,351.02 L221.00,350.39 L221.50,349.77 L222.00,349.15 L222.50,348.54 L223.00,347.92 L223.50,347.32 L224.00,346.71 L224.50,346.11 L225.00,345.52 L225.50,344.93 L226.00,344.34 L226.50,343.76 L227.00,343.18 L227.50,342.61 L228.00,342.05 L228.50,341.49 L229.00,340.94 L229.50,340.39 L230.00,339.85 L230.50,339.31 L231.00,338.78 L231.50,338.26 L232.00,337.74 L232.50,337.23 L233.00,336.72 L233.50,336.23 L234.00,335.73 L234.50,335.25 L235.00,334.77 L235.50,334.30 L236.00,333.83 L236.50,333.37 L237.00,332.92 L237.50,332.48 L238.00,332.04 L238.50,331.61 L239.00,331.18 L239.50,330.76 L240.00,330.35 L240.50,329.95 L241.00,329.55 L241.50,329.16 L242.00,328.77 L242.50,328.40 L243.00,328.03 L243.50,327.66 L244.00,327.30 L244.50,326.95 L245.00,326.61 L245.50,326.27 L246.00,325.94 L246.50,325.61 L247.00,325.29 L247.50,324.98 L248.00,324.67 L248.50,324.37 L249.00,324.08 L249.50,323.79 L250.00,323.50 L250.50,323.23 L251.00,322.96 L251.50,322.69 L252.00,322.43 L252.50,322.18 L253.00,321.93 L253.50,321.69 L254.00,321.45 L254.50,321.22 L255.00,320.99 L255.50,320.77 L256.00,320.55 L256.50,320.34 L257.00,320.13 L257.50,319.93 L258.00,319.73 L258.50,319.54 L259.00,319.35 L259.50,319.17 L260.00,318.99 L260.50,318.82 L261.00,318.65 L261.50,318.48 L262.00,318.32 L262.50,318.16 L263.00,318.01 L263.50,317.86 L264.00,317.71 L264.50,317.57 L265.00,317.43 L265.50,317.30 L266.00,317.17 L266.50,317.04 L267.00,316.92 L267.50,316.80 L268.00,316.68 L268.50,316.57 L269.00,316.45 L269.40,316.37" fill="none" stroke="#F29C10" stroke-width="2" stroke-linejoin="round"/>
<line x1="235.4" y1="239.7" x2="262.8" y2="239.7" stroke="#62A0C6" stroke-width="2"/>
<line x1="235.4" y1="269.8" x2="262.8" y2="269.8" stroke="#F8A61E" stroke-width="2"/>
<line x1="271.7" y1="232.10" x2="271.7" y2="247.50" stroke="#333" stroke-width="1"/>
<text x="0" y="0" class="lgF" transform="translate(273.90,243.60) scale(1.16,1)">F</text>
<text x="284.00" y="246.70" class="lgs">e</text>
<path d="M293.30,232.10 L296.90,239.80 L293.30,247.50" fill="none" stroke="#333" stroke-width="0.9"/>
<line x1="271.7" y1="262.20" x2="271.7" y2="277.60" stroke="#333" stroke-width="1"/>
<text x="0" y="0" class="lgF" transform="translate(273.90,273.70) scale(1.16,1)">F</text>
<text x="284.00" y="276.80" class="lgs">g</text>
<path d="M293.30,262.20 L296.90,269.90 L293.30,277.60" fill="none" stroke="#333" stroke-width="0.9"/>
<text x="21.5" y="227.6" class="axl">C</text><text x="30.3" y="229.6" class="axs">n</text>
<text x="282.3" y="317.3" class="axl">n</text>
<clipPath id="clipP5"><path d="M33.00,525.88 L33.50,525.86 L34.00,525.84 L34.50,525.81 L35.00,525.79 L35.50,525.76 L36.00,525.72 L36.50,525.69 L37.00,525.65 L37.50,525.61 L38.00,525.56 L38.50,525.51 L39.00,525.45 L39.50,525.39 L40.00,525.33 L40.50,525.25 L41.00,525.18 L41.50,525.09 L42.00,525.00 L42.50,524.90 L43.00,524.80 L43.50,524.68 L44.00,524.56 L44.50,524.43 L45.00,524.29 L45.50,524.13 L46.00,523.97 L46.50,523.80 L47.00,523.62 L47.50,523.42 L48.00,523.21 L48.50,522.99 L49.00,522.76 L49.50,522.51 L50.00,522.25 L50.50,521.97 L51.00,521.68 L51.50,521.37 L52.00,521.05 L52.50,520.70 L53.00,520.34 L53.50,519.96 L54.00,519.57 L54.50,519.15 L55.00,518.71 L55.50,518.26 L56.00,517.78 L56.50,517.28 L57.00,516.76 L57.50,516.22 L58.00,515.66 L58.50,515.07 L59.00,514.46 L59.50,513.83 L60.00,513.17 L60.50,512.49 L61.00,511.79 L61.50,511.06 L62.00,510.31 L62.50,509.53 L63.00,508.73 L63.50,507.90 L64.00,507.05 L64.50,506.17 L65.00,505.27 L65.50,504.35 L66.00,503.40 L66.50,502.42 L67.00,501.43 L67.50,500.41 L68.00,499.36 L68.50,498.30 L69.00,497.21 L69.50,496.10 L70.00,494.97 L70.50,493.82 L71.00,492.64 L71.50,491.45 L72.00,490.25 L72.50,489.02 L73.00,487.78 L73.50,486.53 L74.00,485.25 L74.50,483.97 L75.00,482.68 L75.50,481.37 L76.00,480.05 L76.50,478.73 L77.00,477.40 L77.50,476.06 L78.00,474.72 L78.50,473.38 L79.00,472.03 L79.50,470.69 L80.00,469.35 L80.50,468.01 L81.00,466.68 L81.50,465.35 L82.00,464.03 L82.50,462.73 L83.00,461.43 L83.50,460.16 L84.00,458.89 L84.50,457.65 L85.00,456.42 L85.50,455.22 L86.00,454.03 L86.50,452.88 L87.00,451.75 L87.50,450.65 L88.00,449.58 L88.50,448.54 L89.00,447.54 L89.50,446.57 L90.00,445.65 L90.50,444.76 L91.00,443.91 L91.50,443.11 L92.00,442.35 L92.50,441.63 L93.00,440.97 L93.50,440.35 L94.00,439.78 L94.50,439.27 L95.00,438.81 L95.50,438.41 L96.00,438.06 L96.50,437.77 L97.00,437.53 L97.50,437.36 L98.00,437.24 L98.50,437.19 L99.00,437.20 L99.50,437.27 L100.00,437.40 L100.50,437.60 L101.00,437.86 L101.50,438.19 L102.00,438.58 L102.50,439.04 L103.00,439.56 L103.50,440.15 L104.00,440.80 L104.50,441.52 L105.00,442.30 L105.50,443.14 L106.00,444.05 L106.50,445.02 L107.00,446.06 L107.50,447.15 L108.00,448.31 L108.50,449.53 L109.00,450.80 L109.50,452.14 L110.00,453.53 L110.50,454.97 L111.00,456.47 L111.50,458.03 L112.00,459.63 L112.50,461.29 L113.00,462.99 L113.50,464.73 L114.00,466.53 L114.50,468.36 L115.00,470.23 L115.50,472.15 L116.00,474.10 L116.50,476.08 L117.00,478.10 L117.50,480.14 L118.00,482.22 L118.50,484.31 L119.00,486.44 L119.50,488.58 L120.00,490.74 L120.50,492.92 L121.00,495.10 L121.50,497.31 L122.00,499.51 L122.50,501.73 L123.00,503.95 L123.50,506.17 L124.00,508.38 L124.50,510.60 L125.00,512.80 L125.50,515.00 L126.00,517.19 L126.50,519.36 L127.00,521.52 L127.50,523.65 L128.00,525.77 L128.50,527.86 L129.00,529.93 L129.50,531.97 L130.00,533.97 L130.50,535.95 L131.00,537.89 L131.50,539.80 L132.00,541.66 L132.50,543.49 L133.00,545.27 L133.50,547.01 L134.00,548.70 L134.50,550.35 L135.00,551.94 L135.50,553.49 L136.00,554.98 L136.50,556.42 L137.00,557.80 L137.50,559.13 L138.00,560.40 L138.50,561.61 L139.00,562.76 L139.50,563.85 L140.00,564.88 L140.50,565.85 L141.00,566.76 L141.50,567.60 L142.00,568.37 L142.50,569.09 L143.00,569.74 L143.50,570.32 L144.00,570.84 L144.50,571.29 L145.00,571.68 L145.50,572.00 L146.00,572.26 L146.50,572.46 L147.00,572.58 L147.50,572.65 L148.00,572.65 L148.50,572.59 L149.00,572.46 L149.50,572.28 L150.00,572.03 L150.50,571.72 L151.00,571.35 L151.50,570.93 L152.00,570.44 L152.50,569.90 L153.00,569.31 L153.50,568.66 L154.00,567.95 L154.50,567.20 L155.00,566.39 L155.50,565.54 L156.00,564.64 L156.50,563.69 L157.00,562.70 L157.50,561.66 L158.00,560.58 L158.50,559.46 L159.00,558.30 L159.50,557.11 L160.00,555.88 L160.50,554.61 L161.00,553.32 L161.50,551.99 L162.00,550.63 L162.50,549.25 L163.00,547.84 L163.50,546.41 L164.00,544.96 L164.50,543.48 L165.00,541.99 L165.50,540.48 L166.00,538.95 L166.50,537.42 L167.00,535.87 L167.50,534.31 L168.00,532.74 L168.50,531.16 L169.00,529.58 L169.50,528.00 L170.00,526.41 L170.50,524.83 L171.00,523.24 L171.50,521.66 L172.00,520.08 L172.50,518.51 L173.00,516.94 L173.50,515.39 L174.00,513.84 L174.50,512.30 L175.00,510.78 L175.50,509.27 L176.00,507.77 L176.50,506.29 L177.00,504.83 L177.50,503.39 L178.00,501.96 L178.50,500.56 L179.00,499.17 L179.50,497.81 L180.00,496.47 L180.50,495.16 L181.00,493.87 L181.50,492.61 L182.00,491.37 L182.50,490.16 L183.00,488.98 L183.50,487.83 L184.00,486.70 L184.50,485.60 L185.00,484.54 L185.50,483.50 L186.00,482.50 L186.50,481.52 L187.00,480.58 L187.50,479.67 L188.00,478.79 L188.50,477.94 L189.00,477.13 L189.50,476.35 L190.00,475.60 L190.50,474.88 L191.00,474.20 L191.50,473.55 L192.00,472.93 L192.50,472.34 L193.00,471.79 L193.50,471.27 L194.00,470.78 L194.50,470.32 L195.00,469.90 L195.50,469.50 L196.00,469.14 L196.50,468.81 L197.00,468.51 L197.50,468.24 L198.00,468.00 L198.50,467.79 L199.00,467.61 L199.50,467.45 L200.00,467.33 L200.50,467.23 L201.00,467.16 L201.50,467.12 L202.00,467.11 L202.50,467.12 L203.00,467.16 L203.50,467.22 L204.00,467.30 L204.50,467.41 L205.00,467.55 L205.50,467.70 L206.00,467.88 L206.50,468.08 L207.00,468.30 L207.50,468.54 L208.00,468.80 L208.50,469.08 L209.00,469.38 L209.50,469.70 L210.00,470.04 L210.50,470.39 L211.00,470.75 L211.50,471.14 L212.00,471.54 L212.50,471.95 L213.00,472.38 L213.50,472.82 L214.00,473.27 L214.50,473.73 L215.00,474.21 L215.50,474.70 L216.00,475.19 L216.50,475.70 L217.00,476.22 L217.50,476.74 L218.00,477.27 L218.50,477.82 L219.00,478.36 L219.50,478.92 L220.00,479.48 L220.50,480.05 L221.00,480.62 L221.50,481.19 L222.00,481.77 L222.50,482.36 L223.00,482.94 L223.50,483.53 L224.00,484.13 L224.50,484.72 L225.00,485.32 L225.50,485.91 L226.00,486.51 L226.50,487.11 L227.00,487.71 L227.50,488.31 L228.00,488.90 L228.50,489.50 L229.00,490.09 L229.50,490.69 L230.00,491.28 L230.50,491.87 L231.00,492.45 L231.50,493.04 L232.00,493.62 L232.50,494.19 L233.00,494.77 L233.50,495.34 L234.00,495.90 L234.50,496.47 L235.00,497.02 L235.50,497.58 L236.00,498.12 L236.50,498.67 L237.00,499.21 L237.50,499.74 L238.00,500.27 L238.50,500.79 L239.00,501.30 L239.50,501.81 L240.00,502.32 L240.50,502.82 L241.00,503.31 L241.50,503.80 L242.00,504.28 L242.50,504.75 L243.00,505.22 L243.50,505.68 L244.00,506.13 L244.50,506.58 L245.00,507.02 L245.50,507.46 L246.00,507.89 L246.50,508.31 L247.00,508.72 L247.50,509.13 L248.00,509.53 L248.50,509.93 L249.00,510.32 L249.50,510.70 L250.00,511.07 L250.50,511.44 L251.00,511.80 L251.50,512.16 L252.00,512.51 L252.50,512.85 L253.00,513.18 L253.50,513.51 L254.00,513.83 L254.50,514.15 L255.00,514.46 L255.50,514.77 L256.00,515.06 L256.50,515.35 L257.00,515.64 L257.50,515.92 L258.00,516.19 L258.50,516.46 L259.00,516.72 L259.50,516.98 L260.00,517.23 L260.50,517.47 L261.00,517.71 L261.50,517.95 L262.00,518.18 L262.50,518.40 L263.00,518.62 L263.50,518.83 L264.00,519.04 L264.50,519.24 L265.00,519.44 L265.50,519.63 L266.00,519.82 L266.50,520.01 L267.00,520.19 L267.50,520.36 L268.00,520.53 L268.50,520.70 L269.00,520.86 L269.30,520.95 L269.30,526.00 L33.00,526.00 Z"/></clipPath>
<path d="M33.00,525.88 L33.50,525.86 L34.00,525.84 L34.50,525.81 L35.00,525.79 L35.50,525.76 L36.00,525.72 L36.50,525.69 L37.00,525.65 L37.50,525.61 L38.00,525.56 L38.50,525.51 L39.00,525.45 L39.50,525.39 L40.00,525.33 L40.50,525.25 L41.00,525.18 L41.50,525.09 L42.00,525.00 L42.50,524.90 L43.00,524.80 L43.50,524.68 L44.00,524.56 L44.50,524.43 L45.00,524.29 L45.50,524.13 L46.00,523.97 L46.50,523.80 L47.00,523.62 L47.50,523.42 L48.00,523.21 L48.50,522.99 L49.00,522.76 L49.50,522.51 L50.00,522.25 L50.50,521.97 L51.00,521.68 L51.50,521.37 L52.00,521.05 L52.50,520.70 L53.00,520.34 L53.50,519.96 L54.00,519.57 L54.50,519.15 L55.00,518.71 L55.50,518.26 L56.00,517.78 L56.50,517.28 L57.00,516.76 L57.50,516.22 L58.00,515.66 L58.50,515.07 L59.00,514.46 L59.50,513.83 L60.00,513.17 L60.50,512.49 L61.00,511.79 L61.50,511.06 L62.00,510.31 L62.50,509.53 L63.00,508.73 L63.50,507.90 L64.00,507.05 L64.50,506.17 L65.00,505.27 L65.50,504.35 L66.00,503.40 L66.50,502.42 L67.00,501.43 L67.50,500.41 L68.00,499.36 L68.50,498.30 L69.00,497.21 L69.50,496.10 L70.00,494.97 L70.50,493.82 L71.00,492.64 L71.50,491.45 L72.00,490.25 L72.50,489.02 L73.00,487.78 L73.50,486.53 L74.00,485.25 L74.50,483.97 L75.00,482.68 L75.50,481.37 L76.00,480.05 L76.50,478.73 L77.00,477.40 L77.50,476.06 L78.00,474.72 L78.50,473.38 L79.00,472.03 L79.50,470.69 L80.00,469.35 L80.50,468.01 L81.00,466.68 L81.50,465.35 L82.00,464.03 L82.50,462.73 L83.00,461.43 L83.50,460.16 L84.00,458.89 L84.50,457.65 L85.00,456.42 L85.50,455.22 L86.00,454.03 L86.50,452.88 L87.00,451.75 L87.50,450.65 L88.00,449.58 L88.50,448.54 L89.00,447.54 L89.50,446.57 L90.00,445.65 L90.50,444.76 L91.00,443.91 L91.50,443.11 L92.00,442.35 L92.50,441.63 L93.00,440.97 L93.50,440.35 L94.00,439.78 L94.50,439.27 L95.00,438.81 L95.50,438.41 L96.00,438.06 L96.50,437.77 L97.00,437.53 L97.50,437.36 L98.00,437.24 L98.50,437.19 L99.00,437.20 L99.50,437.27 L100.00,437.40 L100.50,437.60 L101.00,437.86 L101.50,438.19 L102.00,438.58 L102.50,439.04 L103.00,439.56 L103.50,440.15 L104.00,440.80 L104.50,441.52 L105.00,442.30 L105.50,443.14 L106.00,444.05 L106.50,445.02 L107.00,446.06 L107.50,447.15 L108.00,448.31 L108.50,449.53 L109.00,450.80 L109.50,452.14 L110.00,453.53 L110.50,454.97 L111.00,456.47 L111.50,458.03 L112.00,459.63 L112.50,461.29 L113.00,462.99 L113.50,464.73 L114.00,466.53 L114.50,468.36 L115.00,470.23 L115.50,472.15 L116.00,474.10 L116.50,476.08 L117.00,478.10 L117.50,480.14 L118.00,482.22 L118.50,484.31 L119.00,486.44 L119.50,488.58 L120.00,490.74 L120.50,492.92 L121.00,495.10 L121.50,497.31 L122.00,499.51 L122.50,501.73 L123.00,503.95 L123.50,506.17 L124.00,508.38 L124.50,510.60 L125.00,512.80 L125.50,515.00 L126.00,517.19 L126.50,519.36 L127.00,521.52 L127.50,523.65 L128.00,525.77 L128.50,527.86 L129.00,529.93 L129.50,531.97 L130.00,533.97 L130.50,535.95 L131.00,537.89 L131.50,539.80 L132.00,541.66 L132.50,543.49 L133.00,545.27 L133.50,547.01 L134.00,548.70 L134.50,550.35 L135.00,551.94 L135.50,553.49 L136.00,554.98 L136.50,556.42 L137.00,557.80 L137.50,559.13 L138.00,560.40 L138.50,561.61 L139.00,562.76 L139.50,563.85 L140.00,564.88 L140.50,565.85 L141.00,566.76 L141.50,567.60 L142.00,568.37 L142.50,569.09 L143.00,569.74 L143.50,570.32 L144.00,570.84 L144.50,571.29 L145.00,571.68 L145.50,572.00 L146.00,572.26 L146.50,572.46 L147.00,572.58 L147.50,572.65 L148.00,572.65 L148.50,572.59 L149.00,572.46 L149.50,572.28 L150.00,572.03 L150.50,571.72 L151.00,571.35 L151.50,570.93 L152.00,570.44 L152.50,569.90 L153.00,569.31 L153.50,568.66 L154.00,567.95 L154.50,567.20 L155.00,566.39 L155.50,565.54 L156.00,564.64 L156.50,563.69 L157.00,562.70 L157.50,561.66 L158.00,560.58 L158.50,559.46 L159.00,558.30 L159.50,557.11 L160.00,555.88 L160.50,554.61 L161.00,553.32 L161.50,551.99 L162.00,550.63 L162.50,549.25 L163.00,547.84 L163.50,546.41 L164.00,544.96 L164.50,543.48 L165.00,541.99 L165.50,540.48 L166.00,538.95 L166.50,537.42 L167.00,535.87 L167.50,534.31 L168.00,532.74 L168.50,531.16 L169.00,529.58 L169.50,528.00 L170.00,526.41 L170.50,524.83 L171.00,523.24 L171.50,521.66 L172.00,520.08 L172.50,518.51 L173.00,516.94 L173.50,515.39 L174.00,513.84 L174.50,512.30 L175.00,510.78 L175.50,509.27 L176.00,507.77 L176.50,506.29 L177.00,504.83 L177.50,503.39 L178.00,501.96 L178.50,500.56 L179.00,499.17 L179.50,497.81 L180.00,496.47 L180.50,495.16 L181.00,493.87 L181.50,492.61 L182.00,491.37 L182.50,490.16 L183.00,488.98 L183.50,487.83 L184.00,486.70 L184.50,485.60 L185.00,484.54 L185.50,483.50 L186.00,482.50 L186.50,481.52 L187.00,480.58 L187.50,479.67 L188.00,478.79 L188.50,477.94 L189.00,477.13 L189.50,476.35 L190.00,475.60 L190.50,474.88 L191.00,474.20 L191.50,473.55 L192.00,472.93 L192.50,472.34 L193.00,471.79 L193.50,471.27 L194.00,470.78 L194.50,470.32 L195.00,469.90 L195.50,469.50 L196.00,469.14 L196.50,468.81 L197.00,468.51 L197.50,468.24 L198.00,468.00 L198.50,467.79 L199.00,467.61 L199.50,467.45 L200.00,467.33 L200.50,467.23 L201.00,467.16 L201.50,467.12 L202.00,467.11 L202.50,467.12 L203.00,467.16 L203.50,467.22 L204.00,467.30 L204.50,467.41 L205.00,467.55 L205.50,467.70 L206.00,467.88 L206.50,468.08 L207.00,468.30 L207.50,468.54 L208.00,468.80 L208.50,469.08 L209.00,469.38 L209.50,469.70 L210.00,470.04 L210.50,470.39 L211.00,470.75 L211.50,471.14 L212.00,471.54 L212.50,471.95 L213.00,472.38 L213.50,472.82 L214.00,473.27 L214.50,473.73 L215.00,474.21 L215.50,474.70 L216.00,475.19 L216.50,475.70 L217.00,476.22 L217.50,476.74 L218.00,477.27 L218.50,477.82 L219.00,478.36 L219.50,478.92 L220.00,479.48 L220.50,480.05 L221.00,480.62 L221.50,481.19 L222.00,481.77 L222.50,482.36 L223.00,482.94 L223.50,483.53 L224.00,484.13 L224.50,484.72 L225.00,485.32 L225.50,485.91 L226.00,486.51 L226.50,487.11 L227.00,487.71 L227.50,488.31 L228.00,488.90 L228.50,489.50 L229.00,490.09 L229.50,490.69 L230.00,491.28 L230.50,491.87 L231.00,492.45 L231.50,493.04 L232.00,493.62 L232.50,494.19 L233.00,494.77 L233.50,495.34 L234.00,495.90 L234.50,496.47 L235.00,497.02 L235.50,497.58 L236.00,498.12 L236.50,498.67 L237.00,499.21 L237.50,499.74 L238.00,500.27 L238.50,500.79 L239.00,501.30 L239.50,501.81 L240.00,502.32 L240.50,502.82 L241.00,503.31 L241.50,503.80 L242.00,504.28 L242.50,504.75 L243.00,505.22 L243.50,505.68 L244.00,506.13 L244.50,506.58 L245.00,507.02 L245.50,507.46 L246.00,507.89 L246.50,508.31 L247.00,508.72 L247.50,509.13 L248.00,509.53 L248.50,509.93 L249.00,510.32 L249.50,510.70 L250.00,511.07 L250.50,511.44 L251.00,511.80 L251.50,512.16 L252.00,512.51 L252.50,512.85 L253.00,513.18 L253.50,513.51 L254.00,513.83 L254.50,514.15 L255.00,514.46 L255.50,514.77 L256.00,515.06 L256.50,515.35 L257.00,515.64 L257.50,515.92 L258.00,516.19 L258.50,516.46 L259.00,516.72 L259.50,516.98 L260.00,517.23 L260.50,517.47 L261.00,517.71 L261.50,517.95 L262.00,518.18 L262.50,518.40 L263.00,518.62 L263.50,518.83 L264.00,519.04 L264.50,519.24 L265.00,519.44 L265.50,519.63 L266.00,519.82 L266.50,520.01 L267.00,520.19 L267.50,520.36 L268.00,520.53 L268.50,520.70 L269.00,520.86 L269.30,520.95 L269.30,526.00 L33.00,526.00 Z" fill="#E6EAF7"/>
<path d="M33.00,526.00 L33.50,526.00 L34.00,526.00 L34.50,526.00 L35.00,525.99 L35.50,525.99 L36.00,525.99 L36.50,525.99 L37.00,525.98 L37.50,525.98 L38.00,525.97 L38.50,525.97 L39.00,525.96 L39.50,525.96 L40.00,525.95 L40.50,525.94 L41.00,525.93 L41.50,525.92 L42.00,525.91 L42.50,525.89 L43.00,525.88 L43.50,525.86 L44.00,525.84 L44.50,525.82 L45.00,525.80 L45.50,525.77 L46.00,525.74 L46.50,525.71 L47.00,525.68 L47.50,525.64 L48.00,525.60 L48.50,525.56 L49.00,525.51 L49.50,525.46 L50.00,525.40 L50.50,525.34 L51.00,525.28 L51.50,525.21 L52.00,525.13 L52.50,525.05 L53.00,524.96 L53.50,524.87 L54.00,524.76 L54.50,524.65 L55.00,524.54 L55.50,524.41 L56.00,524.28 L56.50,524.14 L57.00,523.99 L57.50,523.83 L58.00,523.66 L58.50,523.48 L59.00,523.29 L59.50,523.09 L60.00,522.88 L60.50,522.65 L61.00,522.42 L61.50,522.17 L62.00,521.90 L62.50,521.63 L63.00,521.34 L63.50,521.03 L64.00,520.72 L64.50,520.38 L65.00,520.03 L65.50,519.67 L66.00,519.29 L66.50,518.89 L67.00,518.48 L67.50,518.05 L68.00,517.60 L68.50,517.14 L69.00,516.65 L69.50,516.15 L70.00,515.63 L70.50,515.10 L71.00,514.54 L71.50,513.97 L72.00,513.38 L72.50,512.77 L73.00,512.14 L73.50,511.49 L74.00,510.83 L74.50,510.14 L75.00,509.44 L75.50,508.72 L76.00,507.98 L76.50,507.22 L77.00,506.45 L77.50,505.66 L78.00,504.85 L78.50,504.03 L79.00,503.19 L79.50,502.34 L80.00,501.47 L80.50,500.58 L81.00,499.69 L81.50,498.78 L82.00,497.86 L82.50,496.92 L83.00,495.98 L83.50,495.03 L84.00,494.06 L84.50,493.09 L85.00,492.12 L85.50,491.14 L86.00,490.15 L86.50,489.16 L87.00,488.16 L87.50,487.17 L88.00,486.17 L88.50,485.18 L89.00,484.19 L89.50,483.20 L90.00,482.22 L90.50,481.24 L91.00,480.27 L91.50,479.31 L92.00,478.36 L92.50,477.43 L93.00,476.50 L93.50,475.59 L94.00,474.70 L94.50,473.83 L95.00,472.97 L95.50,472.14 L96.00,471.33 L96.50,470.54 L97.00,469.78 L97.50,469.05 L98.00,468.34 L98.50,467.67 L99.00,467.02 L99.50,466.41 L100.00,465.83 L100.50,465.29 L101.00,464.79 L101.50,464.32 L102.00,463.89 L102.50,463.50 L103.00,463.16 L103.50,462.86 L104.00,462.60 L104.50,462.39 L105.00,462.22 L105.50,462.11 L106.00,462.04 L106.50,462.01 L107.00,462.04 L107.50,462.12 L108.00,462.25 L108.50,462.43 L109.00,462.67 L109.50,462.96 L110.00,463.30 L110.50,463.69 L111.00,464.14 L111.50,464.64 L112.00,465.19 L112.50,465.80 L113.00,466.46 L113.50,467.18 L114.00,467.94 L114.50,468.77 L115.00,469.64 L115.50,470.57 L116.00,471.54 L116.50,472.57 L117.00,473.65 L117.50,474.78 L118.00,475.95 L118.50,477.17 L119.00,478.44 L119.50,479.76 L120.00,481.11 L120.50,482.52 L121.00,483.96 L121.50,485.44 L122.00,486.96 L122.50,488.52 L123.00,490.11 L123.50,491.73 L124.00,493.39 L124.50,495.08 L125.00,496.79 L125.50,498.54 L126.00,500.30 L126.50,502.09 L127.00,503.90 L127.50,505.73 L128.00,507.57 L128.50,509.43 L129.00,511.30 L129.50,513.17 L130.00,515.06 L130.50,516.95 L131.00,518.85 L131.50,520.74 L132.00,522.63 L132.50,524.52 L133.00,526.41 L133.50,528.28 L134.00,530.15 L134.50,532.00 L135.00,533.83 L135.50,535.65 L136.00,537.45 L136.50,539.23 L137.00,540.98 L137.50,542.71 L138.00,544.40 L138.50,546.07 L139.00,547.71 L139.50,549.31 L140.00,550.87 L140.50,552.40 L141.00,553.89 L141.50,555.33 L142.00,556.73 L142.50,558.09 L143.00,559.40 L143.50,560.66 L144.00,561.87 L144.50,563.02 L145.00,564.13 L145.50,565.18 L146.00,566.18 L146.50,567.12 L147.00,568.00 L147.50,568.82 L148.00,569.59 L148.50,570.29 L149.00,570.93 L149.50,571.51 L150.00,572.03 L150.50,572.48 L151.00,572.87 L151.50,573.20 L152.00,573.46 L152.50,573.66 L153.00,573.80 L153.50,573.87 L154.00,573.87 L154.50,573.81 L155.00,573.69 L155.50,573.50 L156.00,573.25 L156.50,572.93 L157.00,572.55 L157.50,572.11 L158.00,571.61 L158.50,571.04 L159.00,570.42 L159.50,569.73 L160.00,568.99 L160.50,568.19 L161.00,567.33 L161.50,566.42 L162.00,565.45 L162.50,564.43 L163.00,563.36 L163.50,562.24 L164.00,561.06 L164.50,559.84 L165.00,558.58 L165.50,557.26 L166.00,555.91 L166.50,554.51 L167.00,553.07 L167.50,551.59 L168.00,550.07 L168.50,548.52 L169.00,546.93 L169.50,545.31 L170.00,543.67 L170.50,541.99 L171.00,540.28 L171.50,538.55 L172.00,536.80 L172.50,535.02 L173.00,533.23 L173.50,531.41 L174.00,529.58 L174.50,527.73 L175.00,525.88 L175.50,524.01 L176.00,522.13 L176.50,520.24 L177.00,518.35 L177.50,516.46 L178.00,514.56 L178.50,512.66 L179.00,510.76 L179.50,508.87 L180.00,506.97 L180.50,505.09 L181.00,503.21 L181.50,501.34 L182.00,499.49 L182.50,497.64 L183.00,495.81 L183.50,493.99 L184.00,492.19 L184.50,490.41 L185.00,488.65 L185.50,486.90 L186.00,485.18 L186.50,483.48 L187.00,481.81 L187.50,480.16 L188.00,478.54 L188.50,476.94 L189.00,475.37 L189.50,473.84 L190.00,472.33 L190.50,470.85 L191.00,469.40 L191.50,467.99 L192.00,466.61 L192.50,465.27 L193.00,463.95 L193.50,462.68 L194.00,461.44 L194.50,460.23 L195.00,459.07 L195.50,457.94 L196.00,456.85 L196.50,455.79 L197.00,454.78 L197.50,453.80 L198.00,452.86 L198.50,451.96 L199.00,451.10 L199.50,450.28 L200.00,449.49 L200.50,448.75 L201.00,448.05 L201.50,447.38 L202.00,446.76 L202.50,446.17 L203.00,445.62 L203.50,445.11 L204.00,444.64 L204.50,444.21 L205.00,443.81 L205.50,443.46 L206.00,443.14 L206.50,442.85 L207.00,442.61 L207.50,442.40 L208.00,442.22 L208.50,442.08 L209.00,441.98 L209.50,441.91 L210.00,441.87 L210.50,441.87 L211.00,441.90 L211.50,441.96 L212.00,442.05 L212.50,442.17 L213.00,442.33 L213.50,442.51 L214.00,442.72 L214.50,442.96 L215.00,443.23 L215.50,443.53 L216.00,443.85 L216.50,444.20 L217.00,444.57 L217.50,444.96 L218.00,445.38 L218.50,445.83 L219.00,446.29 L219.50,446.78 L220.00,447.28 L220.50,447.81 L221.00,448.36 L221.50,448.92 L222.00,449.50 L222.50,450.10 L223.00,450.72 L223.50,451.35 L224.00,452.00 L224.50,452.66 L225.00,453.33 L225.50,454.02 L226.00,454.72 L226.50,455.43 L227.00,456.16 L227.50,456.89 L228.00,457.63 L228.50,458.38 L229.00,459.14 L229.50,459.91 L230.00,460.69 L230.50,461.47 L231.00,462.25 L231.50,463.05 L232.00,463.85 L232.50,464.65 L233.00,465.45 L233.50,466.26 L234.00,467.07 L234.50,467.89 L235.00,468.70 L235.50,469.52 L236.00,470.34 L236.50,471.15 L237.00,471.97 L237.50,472.79 L238.00,473.60 L238.50,474.42 L239.00,475.23 L239.50,476.04 L240.00,476.85 L240.50,477.65 L241.00,478.45 L241.50,479.25 L242.00,480.04 L242.50,480.83 L243.00,481.62 L243.50,482.40 L244.00,483.17 L244.50,483.94 L245.00,484.70 L245.50,485.46 L246.00,486.21 L246.50,486.96 L247.00,487.69 L247.50,488.42 L248.00,489.15 L248.50,489.87 L249.00,490.58 L249.50,491.28 L250.00,491.97 L250.50,492.66 L251.00,493.34 L251.50,494.01 L252.00,494.67 L252.50,495.33 L253.00,495.97 L253.50,496.61 L254.00,497.24 L254.50,497.86 L255.00,498.47 L255.50,499.08 L256.00,499.67 L256.50,500.26 L257.00,500.83 L257.50,501.40 L258.00,501.96 L258.50,502.51 L259.00,503.06 L259.50,503.59 L260.00,504.12 L260.50,504.63 L261.00,505.14 L261.50,505.64 L262.00,506.13 L262.50,506.61 L263.00,507.08 L263.50,507.55 L264.00,508.00 L264.50,508.45 L265.00,508.89 L265.50,509.32 L266.00,509.74 L266.50,510.16 L267.00,510.56 L267.50,510.96 L268.00,511.35 L268.50,511.73 L269.00,512.11 L269.30,512.33 L269.30,526.00 L33.00,526.00 Z" fill="#FDEFDF"/>
<path d="M33.00,526.00 L33.50,526.00 L34.00,526.00 L34.50,526.00 L35.00,525.99 L35.50,525.99 L36.00,525.99 L36.50,525.99 L37.00,525.98 L37.50,525.98 L38.00,525.97 L38.50,525.97 L39.00,525.96 L39.50,525.96 L40.00,525.95 L40.50,525.94 L41.00,525.93 L41.50,525.92 L42.00,525.91 L42.50,525.89 L43.00,525.88 L43.50,525.86 L44.00,525.84 L44.50,525.82 L45.00,525.80 L45.50,525.77 L46.00,525.74 L46.50,525.71 L47.00,525.68 L47.50,525.64 L48.00,525.60 L48.50,525.56 L49.00,525.51 L49.50,525.46 L50.00,525.40 L50.50,525.34 L51.00,525.28 L51.50,525.21 L52.00,525.13 L52.50,525.05 L53.00,524.96 L53.50,524.87 L54.00,524.76 L54.50,524.65 L55.00,524.54 L55.50,524.41 L56.00,524.28 L56.50,524.14 L57.00,523.99 L57.50,523.83 L58.00,523.66 L58.50,523.48 L59.00,523.29 L59.50,523.09 L60.00,522.88 L60.50,522.65 L61.00,522.42 L61.50,522.17 L62.00,521.90 L62.50,521.63 L63.00,521.34 L63.50,521.03 L64.00,520.72 L64.50,520.38 L65.00,520.03 L65.50,519.67 L66.00,519.29 L66.50,518.89 L67.00,518.48 L67.50,518.05 L68.00,517.60 L68.50,517.14 L69.00,516.65 L69.50,516.15 L70.00,515.63 L70.50,515.10 L71.00,514.54 L71.50,513.97 L72.00,513.38 L72.50,512.77 L73.00,512.14 L73.50,511.49 L74.00,510.83 L74.50,510.14 L75.00,509.44 L75.50,508.72 L76.00,507.98 L76.50,507.22 L77.00,506.45 L77.50,505.66 L78.00,504.85 L78.50,504.03 L79.00,503.19 L79.50,502.34 L80.00,501.47 L80.50,500.58 L81.00,499.69 L81.50,498.78 L82.00,497.86 L82.50,496.92 L83.00,495.98 L83.50,495.03 L84.00,494.06 L84.50,493.09 L85.00,492.12 L85.50,491.14 L86.00,490.15 L86.50,489.16 L87.00,488.16 L87.50,487.17 L88.00,486.17 L88.50,485.18 L89.00,484.19 L89.50,483.20 L90.00,482.22 L90.50,481.24 L91.00,480.27 L91.50,479.31 L92.00,478.36 L92.50,477.43 L93.00,476.50 L93.50,475.59 L94.00,474.70 L94.50,473.83 L95.00,472.97 L95.50,472.14 L96.00,471.33 L96.50,470.54 L97.00,469.78 L97.50,469.05 L98.00,468.34 L98.50,467.67 L99.00,467.02 L99.50,466.41 L100.00,465.83 L100.50,465.29 L101.00,464.79 L101.50,464.32 L102.00,463.89 L102.50,463.50 L103.00,463.16 L103.50,462.86 L104.00,462.60 L104.50,462.39 L105.00,462.22 L105.50,462.11 L106.00,462.04 L106.50,462.01 L107.00,462.04 L107.50,462.12 L108.00,462.25 L108.50,462.43 L109.00,462.67 L109.50,462.96 L110.00,463.30 L110.50,463.69 L111.00,464.14 L111.50,464.64 L112.00,465.19 L112.50,465.80 L113.00,466.46 L113.50,467.18 L114.00,467.94 L114.50,468.77 L115.00,469.64 L115.50,470.57 L116.00,471.54 L116.50,472.57 L117.00,473.65 L117.50,474.78 L118.00,475.95 L118.50,477.17 L119.00,478.44 L119.50,479.76 L120.00,481.11 L120.50,482.52 L121.00,483.96 L121.50,485.44 L122.00,486.96 L122.50,488.52 L123.00,490.11 L123.50,491.73 L124.00,493.39 L124.50,495.08 L125.00,496.79 L125.50,498.54 L126.00,500.30 L126.50,502.09 L127.00,503.90 L127.50,505.73 L128.00,507.57 L128.50,509.43 L129.00,511.30 L129.50,513.17 L130.00,515.06 L130.50,516.95 L131.00,518.85 L131.50,520.74 L132.00,522.63 L132.50,524.52 L133.00,526.41 L133.50,528.28 L134.00,530.15 L134.50,532.00 L135.00,533.83 L135.50,535.65 L136.00,537.45 L136.50,539.23 L137.00,540.98 L137.50,542.71 L138.00,544.40 L138.50,546.07 L139.00,547.71 L139.50,549.31 L140.00,550.87 L140.50,552.40 L141.00,553.89 L141.50,555.33 L142.00,556.73 L142.50,558.09 L143.00,559.40 L143.50,560.66 L144.00,561.87 L144.50,563.02 L145.00,564.13 L145.50,565.18 L146.00,566.18 L146.50,567.12 L147.00,568.00 L147.50,568.82 L148.00,569.59 L148.50,570.29 L149.00,570.93 L149.50,571.51 L150.00,572.03 L150.50,572.48 L151.00,572.87 L151.50,573.20 L152.00,573.46 L152.50,573.66 L153.00,573.80 L153.50,573.87 L154.00,573.87 L154.50,573.81 L155.00,573.69 L155.50,573.50 L156.00,573.25 L156.50,572.93 L157.00,572.55 L157.50,572.11 L158.00,571.61 L158.50,571.04 L159.00,570.42 L159.50,569.73 L160.00,568.99 L160.50,568.19 L161.00,567.33 L161.50,566.42 L162.00,565.45 L162.50,564.43 L163.00,563.36 L163.50,562.24 L164.00,561.06 L164.50,559.84 L165.00,558.58 L165.50,557.26 L166.00,555.91 L166.50,554.51 L167.00,553.07 L167.50,551.59 L168.00,550.07 L168.50,548.52 L169.00,546.93 L169.50,545.31 L170.00,543.67 L170.50,541.99 L171.00,540.28 L171.50,538.55 L172.00,536.80 L172.50,535.02 L173.00,533.23 L173.50,531.41 L174.00,529.58 L174.50,527.73 L175.00,525.88 L175.50,524.01 L176.00,522.13 L176.50,520.24 L177.00,518.35 L177.50,516.46 L178.00,514.56 L178.50,512.66 L179.00,510.76 L179.50,508.87 L180.00,506.97 L180.50,505.09 L181.00,503.21 L181.50,501.34 L182.00,499.49 L182.50,497.64 L183.00,495.81 L183.50,493.99 L184.00,492.19 L184.50,490.41 L185.00,488.65 L185.50,486.90 L186.00,485.18 L186.50,483.48 L187.00,481.81 L187.50,480.16 L188.00,478.54 L188.50,476.94 L189.00,475.37 L189.50,473.84 L190.00,472.33 L190.50,470.85 L191.00,469.40 L191.50,467.99 L192.00,466.61 L192.50,465.27 L193.00,463.95 L193.50,462.68 L194.00,461.44 L194.50,460.23 L195.00,459.07 L195.50,457.94 L196.00,456.85 L196.50,455.79 L197.00,454.78 L197.50,453.80 L198.00,452.86 L198.50,451.96 L199.00,451.10 L199.50,450.28 L200.00,449.49 L200.50,448.75 L201.00,448.05 L201.50,447.38 L202.00,446.76 L202.50,446.17 L203.00,445.62 L203.50,445.11 L204.00,444.64 L204.50,444.21 L205.00,443.81 L205.50,443.46 L206.00,443.14 L206.50,442.85 L207.00,442.61 L207.50,442.40 L208.00,442.22 L208.50,442.08 L209.00,441.98 L209.50,441.91 L210.00,441.87 L210.50,441.87 L211.00,441.90 L211.50,441.96 L212.00,442.05 L212.50,442.17 L213.00,442.33 L213.50,442.51 L214.00,442.72 L214.50,442.96 L215.00,443.23 L215.50,443.53 L216.00,443.85 L216.50,444.20 L217.00,444.57 L217.50,444.96 L218.00,445.38 L218.50,445.83 L219.00,446.29 L219.50,446.78 L220.00,447.28 L220.50,447.81 L221.00,448.36 L221.50,448.92 L222.00,449.50 L222.50,450.10 L223.00,450.72 L223.50,451.35 L224.00,452.00 L224.50,452.66 L225.00,453.33 L225.50,454.02 L226.00,454.72 L226.50,455.43 L227.00,456.16 L227.50,456.89 L228.00,457.63 L228.50,458.38 L229.00,459.14 L229.50,459.91 L230.00,460.69 L230.50,461.47 L231.00,462.25 L231.50,463.05 L232.00,463.85 L232.50,464.65 L233.00,465.45 L233.50,466.26 L234.00,467.07 L234.50,467.89 L235.00,468.70 L235.50,469.52 L236.00,470.34 L236.50,471.15 L237.00,471.97 L237.50,472.79 L238.00,473.60 L238.50,474.42 L239.00,475.23 L239.50,476.04 L240.00,476.85 L240.50,477.65 L241.00,478.45 L241.50,479.25 L242.00,480.04 L242.50,480.83 L243.00,481.62 L243.50,482.40 L244.00,483.17 L244.50,483.94 L245.00,484.70 L245.50,485.46 L246.00,486.21 L246.50,486.96 L247.00,487.69 L247.50,488.42 L248.00,489.15 L248.50,489.87 L249.00,490.58 L249.50,491.28 L250.00,491.97 L250.50,492.66 L251.00,493.34 L251.50,494.01 L252.00,494.67 L252.50,495.33 L253.00,495.97 L253.50,496.61 L254.00,497.24 L254.50,497.86 L255.00,498.47 L255.50,499.08 L256.00,499.67 L256.50,500.26 L257.00,500.83 L257.50,501.40 L258.00,501.96 L258.50,502.51 L259.00,503.06 L259.50,503.59 L260.00,504.12 L260.50,504.63 L261.00,505.14 L261.50,505.64 L262.00,506.13 L262.50,506.61 L263.00,507.08 L263.50,507.55 L264.00,508.00 L264.50,508.45 L265.00,508.89 L265.50,509.32 L266.00,509.74 L266.50,510.16 L267.00,510.56 L267.50,510.96 L268.00,511.35 L268.50,511.73 L269.00,512.11 L269.30,512.33 L269.30,526.00 L33.00,526.00 Z" fill="#EBDED6" clip-path="url(#clipP5)"/>
<text x="25.5" y="561.15" text-anchor="end" class="tk">−0.1</text>
<text x="25.5" y="530.30" text-anchor="end" class="tk">0.0</text>
<text x="25.5" y="499.45" text-anchor="end" class="tk">0.1</text>
<text x="25.5" y="468.60" text-anchor="end" class="tk">0.2</text>
<text x="25.5" y="437.75" text-anchor="end" class="tk">0.3</text>
<text x="77.20" y="541.20" text-anchor="middle" class="tk">10</text>
<text x="125.20" y="541.20" text-anchor="middle" class="tk">20</text>
<text x="173.20" y="541.20" text-anchor="middle" class="tk">30</text>
<text x="221.20" y="541.20" text-anchor="middle" class="tk">40</text>
<text x="269.20" y="541.20" text-anchor="middle" class="tk">50</text>
<line x1="28.5" y1="430.7" x2="28.5" y2="582" stroke="#d9d9d9" stroke-width="1"/>
<line x1="28.5" y1="526.0" x2="273.8" y2="526.0" stroke="#d9d9d9" stroke-width="1"/>
<line x1="28.5" y1="556.85" x2="32.0" y2="556.85" stroke="#c8c8c8" stroke-width="0.8"/>
<line x1="28.5" y1="526.00" x2="32.0" y2="526.00" stroke="#c8c8c8" stroke-width="0.8"/>
<line x1="28.5" y1="495.15" x2="32.0" y2="495.15" stroke="#c8c8c8" stroke-width="0.8"/>
<line x1="28.5" y1="464.30" x2="32.0" y2="464.30" stroke="#c8c8c8" stroke-width="0.8"/>
<line x1="28.5" y1="433.45" x2="32.0" y2="433.45" stroke="#c8c8c8" stroke-width="0.8"/>
<line x1="28.5" y1="581.53" x2="30.5" y2="581.53" stroke="#c8c8c8" stroke-width="0.8"/>
<line x1="28.5" y1="575.36" x2="30.5" y2="575.36" stroke="#c8c8c8" stroke-width="0.8"/>
<line x1="28.5" y1="569.19" x2="30.5" y2="569.19" stroke="#c8c8c8" stroke-width="0.8"/>
<line x1="28.5" y1="563.02" x2="30.5" y2="563.02" stroke="#c8c8c8" stroke-width="0.8"/>
<line x1="28.5" y1="550.68" x2="30.5" y2="550.68" stroke="#c8c8c8" stroke-width="0.8"/>
<line x1="28.5" y1="544.51" x2="30.5" y2="544.51" stroke="#c8c8c8" stroke-width="0.8"/>
<line x1="28.5" y1="538.34" x2="30.5" y2="538.34" stroke="#c8c8c8" stroke-width="0.8"/>
<line x1="28.5" y1="532.17" x2="30.5" y2="532.17" stroke="#c8c8c8" stroke-width="0.8"/>
<line x1="28.5" y1="519.83" x2="30.5" y2="519.83" stroke="#c8c8c8" stroke-width="0.8"/>
<line x1="28.5" y1="513.66" x2="30.5" y2="513.66" stroke="#c8c8c8" stroke-width="0.8"/>
<line x1="28.5" y1="507.49" x2="30.5" y2="507.49" stroke="#c8c8c8" stroke-width="0.8"/>
<line x1="28.5" y1="501.32" x2="30.5" y2="501.32" stroke="#c8c8c8" stroke-width="0.8"/>
<line x1="28.5" y1="488.98" x2="30.5" y2="488.98" stroke="#c8c8c8" stroke-width="0.8"/>
<line x1="28.5" y1="482.81" x2="30.5" y2="482.81" stroke="#c8c8c8" stroke-width="0.8"/>
<line x1="28.5" y1="476.64" x2="30.5" y2="476.64" stroke="#c8c8c8" stroke-width="0.8"/>
<line x1="28.5" y1="470.47" x2="30.5" y2="470.47" stroke="#c8c8c8" stroke-width="0.8"/>
<line x1="28.5" y1="458.13" x2="30.5" y2="458.13" stroke="#c8c8c8" stroke-width="0.8"/>
<line x1="28.5" y1="451.96" x2="30.5" y2="451.96" stroke="#c8c8c8" stroke-width="0.8"/>
<line x1="28.5" y1="445.79" x2="30.5" y2="445.79" stroke="#c8c8c8" stroke-width="0.8"/>
<line x1="28.5" y1="439.62" x2="30.5" y2="439.62" stroke="#c8c8c8" stroke-width="0.8"/>
<line x1="77.20" y1="526.0" x2="77.20" y2="522.5" stroke="#c8c8c8" stroke-width="0.8"/>
<line x1="125.20" y1="526.0" x2="125.20" y2="522.5" stroke="#c8c8c8" stroke-width="0.8"/>
<line x1="173.20" y1="526.0" x2="173.20" y2="522.5" stroke="#c8c8c8" stroke-width="0.8"/>
<line x1="221.20" y1="526.0" x2="221.20" y2="522.5" stroke="#c8c8c8" stroke-width="0.8"/>
<line x1="269.20" y1="526.0" x2="269.20" y2="522.5" stroke="#c8c8c8" stroke-width="0.8"/>
<line x1="38.80" y1="526.0" x2="38.80" y2="524.0" stroke="#c8c8c8" stroke-width="0.8"/>
<line x1="48.40" y1="526.0" x2="48.40" y2="524.0" stroke="#c8c8c8" stroke-width="0.8"/>
<line x1="58.00" y1="526.0" x2="58.00" y2="524.0" stroke="#c8c8c8" stroke-width="0.8"/>
<line x1="67.60" y1="526.0" x2="67.60" y2="524.0" stroke="#c8c8c8" stroke-width="0.8"/>
<line x1="86.80" y1="526.0" x2="86.80" y2="524.0" stroke="#c8c8c8" stroke-width="0.8"/>
<line x1="96.40" y1="526.0" x2="96.40" y2="524.0" stroke="#c8c8c8" stroke-width="0.8"/>
<line x1="106.00" y1="526.0" x2="106.00" y2="524.0" stroke="#c8c8c8" stroke-width="0.8"/>
<line x1="115.60" y1="526.0" x2="115.60" y2="524.0" stroke="#c8c8c8" stroke-width="0.8"/>
<line x1="134.80" y1="526.0" x2="134.80" y2="524.0" stroke="#c8c8c8" stroke-width="0.8"/>
<line x1="144.40" y1="526.0" x2="144.40" y2="524.0" stroke="#c8c8c8" stroke-width="0.8"/>
<line x1="154.00" y1="526.0" x2="154.00" y2="524.0" stroke="#c8c8c8" stroke-width="0.8"/>
<line x1="163.60" y1="526.0" x2="163.60" y2="524.0" stroke="#c8c8c8" stroke-width="0.8"/>
<line x1="182.80" y1="526.0" x2="182.80" y2="524.0" stroke="#c8c8c8" stroke-width="0.8"/>
<line x1="192.40" y1="526.0" x2="192.40" y2="524.0" stroke="#c8c8c8" stroke-width="0.8"/>
<line x1="202.00" y1="526.0" x2="202.00" y2="524.0" stroke="#c8c8c8" stroke-width="0.8"/>
<line x1="211.60" y1="526.0" x2="211.60" y2="524.0" stroke="#c8c8c8" stroke-width="0.8"/>
<line x1="230.80" y1="526.0" x2="230.80" y2="524.0" stroke="#c8c8c8" stroke-width="0.8"/>
<line x1="240.40" y1="526.0" x2="240.40" y2="524.0" stroke="#c8c8c8" stroke-width="0.8"/>
<line x1="250.00" y1="526.0" x2="250.00" y2="524.0" stroke="#c8c8c8" stroke-width="0.8"/>
<line x1="259.60" y1="526.0" x2="259.60" y2="524.0" stroke="#c8c8c8" stroke-width="0.8"/>
<path d="M33.00,525.88 L33.50,525.86 L34.00,525.84 L34.50,525.81 L35.00,525.79 L35.50,525.76 L36.00,525.72 L36.50,525.69 L37.00,525.65 L37.50,525.61 L38.00,525.56 L38.50,525.51 L39.00,525.45 L39.50,525.39 L40.00,525.33 L40.50,525.25 L41.00,525.18 L41.50,525.09 L42.00,525.00 L42.50,524.90 L43.00,524.80 L43.50,524.68 L44.00,524.56 L44.50,524.43 L45.00,524.29 L45.50,524.13 L46.00,523.97 L46.50,523.80 L47.00,523.62 L47.50,523.42 L48.00,523.21 L48.50,522.99 L49.00,522.76 L49.50,522.51 L50.00,522.25 L50.50,521.97 L51.00,521.68 L51.50,521.37 L52.00,521.05 L52.50,520.70 L53.00,520.34 L53.50,519.96 L54.00,519.57 L54.50,519.15 L55.00,518.71 L55.50,518.26 L56.00,517.78 L56.50,517.28 L57.00,516.76 L57.50,516.22 L58.00,515.66 L58.50,515.07 L59.00,514.46 L59.50,513.83 L60.00,513.17 L60.50,512.49 L61.00,511.79 L61.50,511.06 L62.00,510.31 L62.50,509.53 L63.00,508.73 L63.50,507.90 L64.00,507.05 L64.50,506.17 L65.00,505.27 L65.50,504.35 L66.00,503.40 L66.50,502.42 L67.00,501.43 L67.50,500.41 L68.00,499.36 L68.50,498.30 L69.00,497.21 L69.50,496.10 L70.00,494.97 L70.50,493.82 L71.00,492.64 L71.50,491.45 L72.00,490.25 L72.50,489.02 L73.00,487.78 L73.50,486.53 L74.00,485.25 L74.50,483.97 L75.00,482.68 L75.50,481.37 L76.00,480.05 L76.50,478.73 L77.00,477.40 L77.50,476.06 L78.00,474.72 L78.50,473.38 L79.00,472.03 L79.50,470.69 L80.00,469.35 L80.50,468.01 L81.00,466.68 L81.50,465.35 L82.00,464.03 L82.50,462.73 L83.00,461.43 L83.50,460.16 L84.00,458.89 L84.50,457.65 L85.00,456.42 L85.50,455.22 L86.00,454.03 L86.50,452.88 L87.00,451.75 L87.50,450.65 L88.00,449.58 L88.50,448.54 L89.00,447.54 L89.50,446.57 L90.00,445.65 L90.50,444.76 L91.00,443.91 L91.50,443.11 L92.00,442.35 L92.50,441.63 L93.00,440.97 L93.50,440.35 L94.00,439.78 L94.50,439.27 L95.00,438.81 L95.50,438.41 L96.00,438.06 L96.50,437.77 L97.00,437.53 L97.50,437.36 L98.00,437.24 L98.50,437.19 L99.00,437.20 L99.50,437.27 L100.00,437.40 L100.50,437.60 L101.00,437.86 L101.50,438.19 L102.00,438.58 L102.50,439.04 L103.00,439.56 L103.50,440.15 L104.00,440.80 L104.50,441.52 L105.00,442.30 L105.50,443.14 L106.00,444.05 L106.50,445.02 L107.00,446.06 L107.50,447.15 L108.00,448.31 L108.50,449.53 L109.00,450.80 L109.50,452.14 L110.00,453.53 L110.50,454.97 L111.00,456.47 L111.50,458.03 L112.00,459.63 L112.50,461.29 L113.00,462.99 L113.50,464.73 L114.00,466.53 L114.50,468.36 L115.00,470.23 L115.50,472.15 L116.00,474.10 L116.50,476.08 L117.00,478.10 L117.50,480.14 L118.00,482.22 L118.50,484.31 L119.00,486.44 L119.50,488.58 L120.00,490.74 L120.50,492.92 L121.00,495.10 L121.50,497.31 L122.00,499.51 L122.50,501.73 L123.00,503.95 L123.50,506.17 L124.00,508.38 L124.50,510.60 L125.00,512.80 L125.50,515.00 L126.00,517.19 L126.50,519.36 L127.00,521.52 L127.50,523.65 L128.00,525.77 L128.50,527.86 L129.00,529.93 L129.50,531.97 L130.00,533.97 L130.50,535.95 L131.00,537.89 L131.50,539.80 L132.00,541.66 L132.50,543.49 L133.00,545.27 L133.50,547.01 L134.00,548.70 L134.50,550.35 L135.00,551.94 L135.50,553.49 L136.00,554.98 L136.50,556.42 L137.00,557.80 L137.50,559.13 L138.00,560.40 L138.50,561.61 L139.00,562.76 L139.50,563.85 L140.00,564.88 L140.50,565.85 L141.00,566.76 L141.50,567.60 L142.00,568.37 L142.50,569.09 L143.00,569.74 L143.50,570.32 L144.00,570.84 L144.50,571.29 L145.00,571.68 L145.50,572.00 L146.00,572.26 L146.50,572.46 L147.00,572.58 L147.50,572.65 L148.00,572.65 L148.50,572.59 L149.00,572.46 L149.50,572.28 L150.00,572.03 L150.50,571.72 L151.00,571.35 L151.50,570.93 L152.00,570.44 L152.50,569.90 L153.00,569.31 L153.50,568.66 L154.00,567.95 L154.50,567.20 L155.00,566.39 L155.50,565.54 L156.00,564.64 L156.50,563.69 L157.00,562.70 L157.50,561.66 L158.00,560.58 L158.50,559.46 L159.00,558.30 L159.50,557.11 L160.00,555.88 L160.50,554.61 L161.00,553.32 L161.50,551.99 L162.00,550.63 L162.50,549.25 L163.00,547.84 L163.50,546.41 L164.00,544.96 L164.50,543.48 L165.00,541.99 L165.50,540.48 L166.00,538.95 L166.50,537.42 L167.00,535.87 L167.50,534.31 L168.00,532.74 L168.50,531.16 L169.00,529.58 L169.50,528.00 L170.00,526.41 L170.50,524.83 L171.00,523.24 L171.50,521.66 L172.00,520.08 L172.50,518.51 L173.00,516.94 L173.50,515.39 L174.00,513.84 L174.50,512.30 L175.00,510.78 L175.50,509.27 L176.00,507.77 L176.50,506.29 L177.00,504.83 L177.50,503.39 L178.00,501.96 L178.50,500.56 L179.00,499.17 L179.50,497.81 L180.00,496.47 L180.50,495.16 L181.00,493.87 L181.50,492.61 L182.00,491.37 L182.50,490.16 L183.00,488.98 L183.50,487.83 L184.00,486.70 L184.50,485.60 L185.00,484.54 L185.50,483.50 L186.00,482.50 L186.50,481.52 L187.00,480.58 L187.50,479.67 L188.00,478.79 L188.50,477.94 L189.00,477.13 L189.50,476.35 L190.00,475.60 L190.50,474.88 L191.00,474.20 L191.50,473.55 L192.00,472.93 L192.50,472.34 L193.00,471.79 L193.50,471.27 L194.00,470.78 L194.50,470.32 L195.00,469.90 L195.50,469.50 L196.00,469.14 L196.50,468.81 L197.00,468.51 L197.50,468.24 L198.00,468.00 L198.50,467.79 L199.00,467.61 L199.50,467.45 L200.00,467.33 L200.50,467.23 L201.00,467.16 L201.50,467.12 L202.00,467.11 L202.50,467.12 L203.00,467.16 L203.50,467.22 L204.00,467.30 L204.50,467.41 L205.00,467.55 L205.50,467.70 L206.00,467.88 L206.50,468.08 L207.00,468.30 L207.50,468.54 L208.00,468.80 L208.50,469.08 L209.00,469.38 L209.50,469.70 L210.00,470.04 L210.50,470.39 L211.00,470.75 L211.50,471.14 L212.00,471.54 L212.50,471.95 L213.00,472.38 L213.50,472.82 L214.00,473.27 L214.50,473.73 L215.00,474.21 L215.50,474.70 L216.00,475.19 L216.50,475.70 L217.00,476.22 L217.50,476.74 L218.00,477.27 L218.50,477.82 L219.00,478.36 L219.50,478.92 L220.00,479.48 L220.50,480.05 L221.00,480.62 L221.50,481.19 L222.00,481.77 L222.50,482.36 L223.00,482.94 L223.50,483.53 L224.00,484.13 L224.50,484.72 L225.00,485.32 L225.50,485.91 L226.00,486.51 L226.50,487.11 L227.00,487.71 L227.50,488.31 L228.00,488.90 L228.50,489.50 L229.00,490.09 L229.50,490.69 L230.00,491.28 L230.50,491.87 L231.00,492.45 L231.50,493.04 L232.00,493.62 L232.50,494.19 L233.00,494.77 L233.50,495.34 L234.00,495.90 L234.50,496.47 L235.00,497.02 L235.50,497.58 L236.00,498.12 L236.50,498.67 L237.00,499.21 L237.50,499.74 L238.00,500.27 L238.50,500.79 L239.00,501.30 L239.50,501.81 L240.00,502.32 L240.50,502.82 L241.00,503.31 L241.50,503.80 L242.00,504.28 L242.50,504.75 L243.00,505.22 L243.50,505.68 L244.00,506.13 L244.50,506.58 L245.00,507.02 L245.50,507.46 L246.00,507.89 L246.50,508.31 L247.00,508.72 L247.50,509.13 L248.00,509.53 L248.50,509.93 L249.00,510.32 L249.50,510.70 L250.00,511.07 L250.50,511.44 L251.00,511.80 L251.50,512.16 L252.00,512.51 L252.50,512.85 L253.00,513.18 L253.50,513.51 L254.00,513.83 L254.50,514.15 L255.00,514.46 L255.50,514.77 L256.00,515.06 L256.50,515.35 L257.00,515.64 L257.50,515.92 L258.00,516.19 L258.50,516.46 L259.00,516.72 L259.50,516.98 L260.00,517.23 L260.50,517.47 L261.00,517.71 L261.50,517.95 L262.00,518.18 L262.50,518.40 L263.00,518.62 L263.50,518.83 L264.00,519.04 L264.50,519.24 L265.00,519.44 L265.50,519.63 L266.00,519.82 L266.50,520.01 L267.00,520.19 L267.50,520.36 L268.00,520.53 L268.50,520.70 L269.00,520.86 L269.30,520.95" fill="none" stroke="#3F88C2" stroke-width="2" stroke-linejoin="round"/>
<path d="M33.00,526.00 L33.50,526.00 L34.00,526.00 L34.50,526.00 L35.00,525.99 L35.50,525.99 L36.00,525.99 L36.50,525.99 L37.00,525.98 L37.50,525.98 L38.00,525.97 L38.50,525.97 L39.00,525.96 L39.50,525.96 L40.00,525.95 L40.50,525.94 L41.00,525.93 L41.50,525.92 L42.00,525.91 L42.50,525.89 L43.00,525.88 L43.50,525.86 L44.00,525.84 L44.50,525.82 L45.00,525.80 L45.50,525.77 L46.00,525.74 L46.50,525.71 L47.00,525.68 L47.50,525.64 L48.00,525.60 L48.50,525.56 L49.00,525.51 L49.50,525.46 L50.00,525.40 L50.50,525.34 L51.00,525.28 L51.50,525.21 L52.00,525.13 L52.50,525.05 L53.00,524.96 L53.50,524.87 L54.00,524.76 L54.50,524.65 L55.00,524.54 L55.50,524.41 L56.00,524.28 L56.50,524.14 L57.00,523.99 L57.50,523.83 L58.00,523.66 L58.50,523.48 L59.00,523.29 L59.50,523.09 L60.00,522.88 L60.50,522.65 L61.00,522.42 L61.50,522.17 L62.00,521.90 L62.50,521.63 L63.00,521.34 L63.50,521.03 L64.00,520.72 L64.50,520.38 L65.00,520.03 L65.50,519.67 L66.00,519.29 L66.50,518.89 L67.00,518.48 L67.50,518.05 L68.00,517.60 L68.50,517.14 L69.00,516.65 L69.50,516.15 L70.00,515.63 L70.50,515.10 L71.00,514.54 L71.50,513.97 L72.00,513.38 L72.50,512.77 L73.00,512.14 L73.50,511.49 L74.00,510.83 L74.50,510.14 L75.00,509.44 L75.50,508.72 L76.00,507.98 L76.50,507.22 L77.00,506.45 L77.50,505.66 L78.00,504.85 L78.50,504.03 L79.00,503.19 L79.50,502.34 L80.00,501.47 L80.50,500.58 L81.00,499.69 L81.50,498.78 L82.00,497.86 L82.50,496.92 L83.00,495.98 L83.50,495.03 L84.00,494.06 L84.50,493.09 L85.00,492.12 L85.50,491.14 L86.00,490.15 L86.50,489.16 L87.00,488.16 L87.50,487.17 L88.00,486.17 L88.50,485.18 L89.00,484.19 L89.50,483.20 L90.00,482.22 L90.50,481.24 L91.00,480.27 L91.50,479.31 L92.00,478.36 L92.50,477.43 L93.00,476.50 L93.50,475.59 L94.00,474.70 L94.50,473.83 L95.00,472.97 L95.50,472.14 L96.00,471.33 L96.50,470.54 L97.00,469.78 L97.50,469.05 L98.00,468.34 L98.50,467.67 L99.00,467.02 L99.50,466.41 L100.00,465.83 L100.50,465.29 L101.00,464.79 L101.50,464.32 L102.00,463.89 L102.50,463.50 L103.00,463.16 L103.50,462.86 L104.00,462.60 L104.50,462.39 L105.00,462.22 L105.50,462.11 L106.00,462.04 L106.50,462.01 L107.00,462.04 L107.50,462.12 L108.00,462.25 L108.50,462.43 L109.00,462.67 L109.50,462.96 L110.00,463.30 L110.50,463.69 L111.00,464.14 L111.50,464.64 L112.00,465.19 L112.50,465.80 L113.00,466.46 L113.50,467.18 L114.00,467.94 L114.50,468.77 L115.00,469.64 L115.50,470.57 L116.00,471.54 L116.50,472.57 L117.00,473.65 L117.50,474.78 L118.00,475.95 L118.50,477.17 L119.00,478.44 L119.50,479.76 L120.00,481.11 L120.50,482.52 L121.00,483.96 L121.50,485.44 L122.00,486.96 L122.50,488.52 L123.00,490.11 L123.50,491.73 L124.00,493.39 L124.50,495.08 L125.00,496.79 L125.50,498.54 L126.00,500.30 L126.50,502.09 L127.00,503.90 L127.50,505.73 L128.00,507.57 L128.50,509.43 L129.00,511.30 L129.50,513.17 L130.00,515.06 L130.50,516.95 L131.00,518.85 L131.50,520.74 L132.00,522.63 L132.50,524.52 L133.00,526.41 L133.50,528.28 L134.00,530.15 L134.50,532.00 L135.00,533.83 L135.50,535.65 L136.00,537.45 L136.50,539.23 L137.00,540.98 L137.50,542.71 L138.00,544.40 L138.50,546.07 L139.00,547.71 L139.50,549.31 L140.00,550.87 L140.50,552.40 L141.00,553.89 L141.50,555.33 L142.00,556.73 L142.50,558.09 L143.00,559.40 L143.50,560.66 L144.00,561.87 L144.50,563.02 L145.00,564.13 L145.50,565.18 L146.00,566.18 L146.50,567.12 L147.00,568.00 L147.50,568.82 L148.00,569.59 L148.50,570.29 L149.00,570.93 L149.50,571.51 L150.00,572.03 L150.50,572.48 L151.00,572.87 L151.50,573.20 L152.00,573.46 L152.50,573.66 L153.00,573.80 L153.50,573.87 L154.00,573.87 L154.50,573.81 L155.00,573.69 L155.50,573.50 L156.00,573.25 L156.50,572.93 L157.00,572.55 L157.50,572.11 L158.00,571.61 L158.50,571.04 L159.00,570.42 L159.50,569.73 L160.00,568.99 L160.50,568.19 L161.00,567.33 L161.50,566.42 L162.00,565.45 L162.50,564.43 L163.00,563.36 L163.50,562.24 L164.00,561.06 L164.50,559.84 L165.00,558.58 L165.50,557.26 L166.00,555.91 L166.50,554.51 L167.00,553.07 L167.50,551.59 L168.00,550.07 L168.50,548.52 L169.00,546.93 L169.50,545.31 L170.00,543.67 L170.50,541.99 L171.00,540.28 L171.50,538.55 L172.00,536.80 L172.50,535.02 L173.00,533.23 L173.50,531.41 L174.00,529.58 L174.50,527.73 L175.00,525.88 L175.50,524.01 L176.00,522.13 L176.50,520.24 L177.00,518.35 L177.50,516.46 L178.00,514.56 L178.50,512.66 L179.00,510.76 L179.50,508.87 L180.00,506.97 L180.50,505.09 L181.00,503.21 L181.50,501.34 L182.00,499.49 L182.50,497.64 L183.00,495.81 L183.50,493.99 L184.00,492.19 L184.50,490.41 L185.00,488.65 L185.50,486.90 L186.00,485.18 L186.50,483.48 L187.00,481.81 L187.50,480.16 L188.00,478.54 L188.50,476.94 L189.00,475.37 L189.50,473.84 L190.00,472.33 L190.50,470.85 L191.00,469.40 L191.50,467.99 L192.00,466.61 L192.50,465.27 L193.00,463.95 L193.50,462.68 L194.00,461.44 L194.50,460.23 L195.00,459.07 L195.50,457.94 L196.00,456.85 L196.50,455.79 L197.00,454.78 L197.50,453.80 L198.00,452.86 L198.50,451.96 L199.00,451.10 L199.50,450.28 L200.00,449.49 L200.50,448.75 L201.00,448.05 L201.50,447.38 L202.00,446.76 L202.50,446.17 L203.00,445.62 L203.50,445.11 L204.00,444.64 L204.50,444.21 L205.00,443.81 L205.50,443.46 L206.00,443.14 L206.50,442.85 L207.00,442.61 L207.50,442.40 L208.00,442.22 L208.50,442.08 L209.00,441.98 L209.50,441.91 L210.00,441.87 L210.50,441.87 L211.00,441.90 L211.50,441.96 L212.00,442.05 L212.50,442.17 L213.00,442.33 L213.50,442.51 L214.00,442.72 L214.50,442.96 L215.00,443.23 L215.50,443.53 L216.00,443.85 L216.50,444.20 L217.00,444.57 L217.50,444.96 L218.00,445.38 L218.50,445.83 L219.00,446.29 L219.50,446.78 L220.00,447.28 L220.50,447.81 L221.00,448.36 L221.50,448.92 L222.00,449.50 L222.50,450.10 L223.00,450.72 L223.50,451.35 L224.00,452.00 L224.50,452.66 L225.00,453.33 L225.50,454.02 L226.00,454.72 L226.50,455.43 L227.00,456.16 L227.50,456.89 L228.00,457.63 L228.50,458.38 L229.00,459.14 L229.50,459.91 L230.00,460.69 L230.50,461.47 L231.00,462.25 L231.50,463.05 L232.00,463.85 L232.50,464.65 L233.00,465.45 L233.50,466.26 L234.00,467.07 L234.50,467.89 L235.00,468.70 L235.50,469.52 L236.00,470.34 L236.50,471.15 L237.00,471.97 L237.50,472.79 L238.00,473.60 L238.50,474.42 L239.00,475.23 L239.50,476.04 L240.00,476.85 L240.50,477.65 L241.00,478.45 L241.50,479.25 L242.00,480.04 L242.50,480.83 L243.00,481.62 L243.50,482.40 L244.00,483.17 L244.50,483.94 L245.00,484.70 L245.50,485.46 L246.00,486.21 L246.50,486.96 L247.00,487.69 L247.50,488.42 L248.00,489.15 L248.50,489.87 L249.00,490.58 L249.50,491.28 L250.00,491.97 L250.50,492.66 L251.00,493.34 L251.50,494.01 L252.00,494.67 L252.50,495.33 L253.00,495.97 L253.50,496.61 L254.00,497.24 L254.50,497.86 L255.00,498.47 L255.50,499.08 L256.00,499.67 L256.50,500.26 L257.00,500.83 L257.50,501.40 L258.00,501.96 L258.50,502.51 L259.00,503.06 L259.50,503.59 L260.00,504.12 L260.50,504.63 L261.00,505.14 L261.50,505.64 L262.00,506.13 L262.50,506.61 L263.00,507.08 L263.50,507.55 L264.00,508.00 L264.50,508.45 L265.00,508.89 L265.50,509.32 L266.00,509.74 L266.50,510.16 L267.00,510.56 L267.50,510.96 L268.00,511.35 L268.50,511.73 L269.00,512.11 L269.30,512.33" fill="none" stroke="#F29C10" stroke-width="2" stroke-linejoin="round"/>
<line x1="235.4" y1="430.5" x2="262.8" y2="430.5" stroke="#62A0C6" stroke-width="2"/>
<line x1="235.4" y1="460.6" x2="262.8" y2="460.6" stroke="#F8A61E" stroke-width="2"/>
<line x1="271.7" y1="422.90" x2="271.7" y2="438.30" stroke="#333" stroke-width="1"/>
<text x="0" y="0" class="lgF" transform="translate(273.90,434.40) scale(1.16,1)">F</text>
<text x="284.00" y="437.50" class="lgs">e</text>
<path d="M293.30,422.90 L296.90,430.60 L293.30,438.30" fill="none" stroke="#333" stroke-width="0.9"/>
<line x1="271.7" y1="453.00" x2="271.7" y2="468.40" stroke="#333" stroke-width="1"/>
<text x="0" y="0" class="lgF" transform="translate(273.90,464.50) scale(1.16,1)">F</text>
<text x="284.00" y="467.60" class="lgs">g</text>
<path d="M293.30,453.00 L296.90,460.70 L293.30,468.40" fill="none" stroke="#333" stroke-width="0.9"/>
<text x="21.5" y="421.0" class="axl">C</text><text x="30.3" y="422.5" class="axs">n</text>
<text x="282.3" y="530.5" class="axl">n</text>
<rect x="402.62" y="48.40" width="91.62" height="132.40" fill="#E6EAF7"/>
<rect x="417.88" y="48.40" width="91.62" height="132.40" fill="#FDEFDF"/>
<rect x="417.88" y="48.40" width="76.35" height="132.40" fill="#EBDED6"/>
<rect x="402.62" y="48.40" width="91.62" height="132.40" fill="none" stroke="#c9d1ee" stroke-width="0.8"/>
<rect x="417.88" y="48.40" width="91.62" height="132.40" fill="none" stroke="#f0d6c0" stroke-width="0.8"/>
<text x="330.6" y="164.05" text-anchor="end" class="tk">0.1</text>
<text x="330.6" y="143.00" text-anchor="end" class="tk">0.2</text>
<text x="330.6" y="121.95" text-anchor="end" class="tk">0.3</text>
<text x="330.6" y="100.90" text-anchor="end" class="tk">0.4</text>
<text x="330.6" y="79.85" text-anchor="end" class="tk">0.5</text>
<text x="330.6" y="58.80" text-anchor="end" class="tk">0.6</text>
<text x="364.44" y="195.40" text-anchor="middle" class="tk">2</text>
<text x="394.98" y="195.40" text-anchor="middle" class="tk">4</text>
<text x="425.52" y="195.40" text-anchor="middle" class="tk">6</text>
<text x="456.06" y="195.40" text-anchor="middle" class="tk">8</text>
<text x="486.60" y="195.40" text-anchor="middle" class="tk">10</text>
<text x="517.14" y="195.40" text-anchor="middle" class="tk">12</text>
<text x="547.68" y="195.40" text-anchor="middle" class="tk">14</text>
<line x1="334.2" y1="41.6" x2="334.2" y2="187.5" stroke="#d9d9d9" stroke-width="1"/>
<line x1="329.31899999999996" y1="180.8" x2="568" y2="180.8" stroke="#d9d9d9" stroke-width="1"/>
<line x1="334.2" y1="159.75" x2="337.7" y2="159.75" stroke="#c8c8c8" stroke-width="0.8"/>
<line x1="334.2" y1="138.70" x2="337.7" y2="138.70" stroke="#c8c8c8" stroke-width="0.8"/>
<line x1="334.2" y1="117.65" x2="337.7" y2="117.65" stroke="#c8c8c8" stroke-width="0.8"/>
<line x1="334.2" y1="96.60" x2="337.7" y2="96.60" stroke="#c8c8c8" stroke-width="0.8"/>
<line x1="334.2" y1="75.55" x2="337.7" y2="75.55" stroke="#c8c8c8" stroke-width="0.8"/>
<line x1="334.2" y1="54.50" x2="337.7" y2="54.50" stroke="#c8c8c8" stroke-width="0.8"/>
<line x1="334.2" y1="185.01" x2="336.2" y2="185.01" stroke="#c8c8c8" stroke-width="0.8"/>
<line x1="334.2" y1="176.59" x2="336.2" y2="176.59" stroke="#c8c8c8" stroke-width="0.8"/>
<line x1="334.2" y1="172.38" x2="336.2" y2="172.38" stroke="#c8c8c8" stroke-width="0.8"/>
<line x1="334.2" y1="168.17" x2="336.2" y2="168.17" stroke="#c8c8c8" stroke-width="0.8"/>
<line x1="334.2" y1="163.96" x2="336.2" y2="163.96" stroke="#c8c8c8" stroke-width="0.8"/>
<line x1="334.2" y1="155.54" x2="336.2" y2="155.54" stroke="#c8c8c8" stroke-width="0.8"/>
<line x1="334.2" y1="151.33" x2="336.2" y2="151.33" stroke="#c8c8c8" stroke-width="0.8"/>
<line x1="334.2" y1="147.12" x2="336.2" y2="147.12" stroke="#c8c8c8" stroke-width="0.8"/>
<line x1="334.2" y1="142.91" x2="336.2" y2="142.91" stroke="#c8c8c8" stroke-width="0.8"/>
<line x1="334.2" y1="134.49" x2="336.2" y2="134.49" stroke="#c8c8c8" stroke-width="0.8"/>
<line x1="334.2" y1="130.28" x2="336.2" y2="130.28" stroke="#c8c8c8" stroke-width="0.8"/>
<line x1="334.2" y1="126.07" x2="336.2" y2="126.07" stroke="#c8c8c8" stroke-width="0.8"/>
<line x1="334.2" y1="121.86" x2="336.2" y2="121.86" stroke="#c8c8c8" stroke-width="0.8"/>
<line x1="334.2" y1="113.44" x2="336.2" y2="113.44" stroke="#c8c8c8" stroke-width="0.8"/>
<line x1="334.2" y1="109.23" x2="336.2" y2="109.23" stroke="#c8c8c8" stroke-width="0.8"/>
<line x1="334.2" y1="105.02" x2="336.2" y2="105.02" stroke="#c8c8c8" stroke-width="0.8"/>
<line x1="334.2" y1="100.81" x2="336.2" y2="100.81" stroke="#c8c8c8" stroke-width="0.8"/>
<line x1="334.2" y1="92.39" x2="336.2" y2="92.39" stroke="#c8c8c8" stroke-width="0.8"/>
<line x1="334.2" y1="88.18" x2="336.2" y2="88.18" stroke="#c8c8c8" stroke-width="0.8"/>
<line x1="334.2" y1="83.97" x2="336.2" y2="83.97" stroke="#c8c8c8" stroke-width="0.8"/>
<line x1="334.2" y1="79.76" x2="336.2" y2="79.76" stroke="#c8c8c8" stroke-width="0.8"/>
<line x1="334.2" y1="71.34" x2="336.2" y2="71.34" stroke="#c8c8c8" stroke-width="0.8"/>
<line x1="334.2" y1="67.13" x2="336.2" y2="67.13" stroke="#c8c8c8" stroke-width="0.8"/>
<line x1="334.2" y1="62.92" x2="336.2" y2="62.92" stroke="#c8c8c8" stroke-width="0.8"/>
<line x1="334.2" y1="58.71" x2="336.2" y2="58.71" stroke="#c8c8c8" stroke-width="0.8"/>
<line x1="334.2" y1="50.29" x2="336.2" y2="50.29" stroke="#c8c8c8" stroke-width="0.8"/>
<line x1="334.2" y1="46.08" x2="336.2" y2="46.08" stroke="#c8c8c8" stroke-width="0.8"/>
<line x1="334.2" y1="41.87" x2="336.2" y2="41.87" stroke="#c8c8c8" stroke-width="0.8"/>
<line x1="364.44" y1="180.8" x2="364.44" y2="177.3" stroke="#c8c8c8" stroke-width="0.8"/>
<line x1="394.98" y1="180.8" x2="394.98" y2="177.3" stroke="#c8c8c8" stroke-width="0.8"/>
<line x1="425.52" y1="180.8" x2="425.52" y2="177.3" stroke="#c8c8c8" stroke-width="0.8"/>
<line x1="456.06" y1="180.8" x2="456.06" y2="177.3" stroke="#c8c8c8" stroke-width="0.8"/>
<line x1="486.60" y1="180.8" x2="486.60" y2="177.3" stroke="#c8c8c8" stroke-width="0.8"/>
<line x1="517.14" y1="180.8" x2="517.14" y2="177.3" stroke="#c8c8c8" stroke-width="0.8"/>
<line x1="547.68" y1="180.8" x2="547.68" y2="177.3" stroke="#c8c8c8" stroke-width="0.8"/>
<line x1="341.53" y1="180.8" x2="341.53" y2="178.8" stroke="#c8c8c8" stroke-width="0.8"/>
<line x1="349.17" y1="180.8" x2="349.17" y2="178.8" stroke="#c8c8c8" stroke-width="0.8"/>
<line x1="356.80" y1="180.8" x2="356.80" y2="178.8" stroke="#c8c8c8" stroke-width="0.8"/>
<line x1="372.07" y1="180.8" x2="372.07" y2="178.8" stroke="#c8c8c8" stroke-width="0.8"/>
<line x1="379.71" y1="180.8" x2="379.71" y2="178.8" stroke="#c8c8c8" stroke-width="0.8"/>
<line x1="387.34" y1="180.8" x2="387.34" y2="178.8" stroke="#c8c8c8" stroke-width="0.8"/>
<line x1="402.62" y1="180.8" x2="402.62" y2="178.8" stroke="#c8c8c8" stroke-width="0.8"/>
<line x1="410.25" y1="180.8" x2="410.25" y2="178.8" stroke="#c8c8c8" stroke-width="0.8"/>
<line x1="417.88" y1="180.8" x2="417.88" y2="178.8" stroke="#c8c8c8" stroke-width="0.8"/>
<line x1="433.15" y1="180.8" x2="433.15" y2="178.8" stroke="#c8c8c8" stroke-width="0.8"/>
<line x1="440.79" y1="180.8" x2="440.79" y2="178.8" stroke="#c8c8c8" stroke-width="0.8"/>
<line x1="448.42" y1="180.8" x2="448.42" y2="178.8" stroke="#c8c8c8" stroke-width="0.8"/>
<line x1="463.69" y1="180.8" x2="463.69" y2="178.8" stroke="#c8c8c8" stroke-width="0.8"/>
<line x1="471.33" y1="180.8" x2="471.33" y2="178.8" stroke="#c8c8c8" stroke-width="0.8"/>
<line x1="478.96" y1="180.8" x2="478.96" y2="178.8" stroke="#c8c8c8" stroke-width="0.8"/>
<line x1="494.24" y1="180.8" x2="494.24" y2="178.8" stroke="#c8c8c8" stroke-width="0.8"/>
<line x1="501.87" y1="180.8" x2="501.87" y2="178.8" stroke="#c8c8c8" stroke-width="0.8"/>
<line x1="509.50" y1="180.8" x2="509.50" y2="178.8" stroke="#c8c8c8" stroke-width="0.8"/>
<line x1="524.77" y1="180.8" x2="524.77" y2="178.8" stroke="#c8c8c8" stroke-width="0.8"/>
<line x1="532.41" y1="180.8" x2="532.41" y2="178.8" stroke="#c8c8c8" stroke-width="0.8"/>
<line x1="540.04" y1="180.8" x2="540.04" y2="178.8" stroke="#c8c8c8" stroke-width="0.8"/>
<line x1="555.31" y1="180.8" x2="555.31" y2="178.8" stroke="#c8c8c8" stroke-width="0.8"/>
<line x1="562.95" y1="180.8" x2="562.95" y2="178.8" stroke="#c8c8c8" stroke-width="0.8"/>
<line x1="402.62" y1="48.40" x2="417.88" y2="48.40" stroke="#62A0C6" stroke-width="2"/>
<line x1="494.24" y1="180.80" x2="509.50" y2="180.80" stroke="#62A0C6" stroke-width="2"/>
<line x1="332.83" y1="180.80" x2="417.88" y2="180.80" stroke="#F8A61E" stroke-width="2"/>
<line x1="417.88" y1="48.40" x2="509.50" y2="48.40" stroke="#F8A61E" stroke-width="2"/>
<line x1="509.50" y1="180.80" x2="562.95" y2="180.80" stroke="#F8A61E" stroke-width="2"/>
<line x1="540.0" y1="48.8" x2="567.4" y2="48.8" stroke="#62A0C6" stroke-width="2"/>
<line x1="540.0" y1="78.9" x2="567.4" y2="78.9" stroke="#F8A61E" stroke-width="2"/>
<line x1="576.3" y1="41.20" x2="576.3" y2="56.60" stroke="#333" stroke-width="1"/>
<text x="0" y="0" class="lgF" transform="translate(578.50,52.70) scale(1.16,1)">F</text>
<text x="588.60" y="55.80" class="lgs">e</text>
<path d="M597.90,41.20 L601.50,48.90 L597.90,56.60" fill="none" stroke="#333" stroke-width="0.9"/>
<line x1="576.3" y1="71.30" x2="576.3" y2="86.70" stroke="#333" stroke-width="1"/>
<text x="0" y="0" class="lgF" transform="translate(578.50,82.80) scale(1.16,1)">F</text>
<text x="588.60" y="85.90" class="lgs">g</text>
<path d="M597.90,71.30 L601.50,79.00 L597.90,86.70" fill="none" stroke="#333" stroke-width="0.9"/>
<text x="328" y="31.3" class="axl">C</text><text x="337" y="33.0" class="axs">l</text>
<text x="577.2" y="185.0" class="axl">l</text><text x="581.8" y="184.7" class="axl2">+</text><text x="588.2" y="185.0" class="axl">l</text><text x="590.7" y="187.0" class="axs">0</text>
<rect x="402.86" y="246.90" width="14.28" height="66.00" fill="#E6EAF7"/>
<rect x="474.26" y="312.90" width="14.28" height="66.00" fill="#E6EAF7"/>
<rect x="417.14" y="246.90" width="14.28" height="66.00" fill="#FDEFDF"/>
<rect x="488.54" y="312.90" width="14.28" height="66.00" fill="#FDEFDF"/>
<rect x="402.86" y="246.90" width="14.28" height="66.00" fill="none" stroke="#c9d1ee" stroke-width="0.8"/>
<rect x="474.26" y="312.90" width="14.28" height="66.00" fill="none" stroke="#c9d1ee" stroke-width="0.8"/>
<rect x="417.14" y="246.90" width="14.28" height="66.00" fill="none" stroke="#f0d6c0" stroke-width="0.8"/>
<rect x="488.54" y="312.90" width="14.28" height="66.00" fill="none" stroke="#f0d6c0" stroke-width="0.8"/>
<text x="335.8" y="383.20" text-anchor="end" class="tk">−1.0</text>
<text x="335.8" y="350.20" text-anchor="end" class="tk">−0.5</text>
<text x="335.8" y="284.20" text-anchor="end" class="tk">0.5</text>
<text x="335.8" y="251.20" text-anchor="end" class="tk">1.0</text>
<text x="410.00" y="327.90" text-anchor="middle" class="tk">5</text>
<text x="481.40" y="327.90" text-anchor="middle" class="tk">10</text>
<text x="552.80" y="327.90" text-anchor="middle" class="tk">15</text>
<line x1="339.0" y1="239.4" x2="339.0" y2="386.0" stroke="#d9d9d9" stroke-width="1"/>
<line x1="334.31600000000003" y1="312.9" x2="572" y2="312.9" stroke="#d9d9d9" stroke-width="1"/>
<line x1="339.0" y1="378.90" x2="342.5" y2="378.90" stroke="#c8c8c8" stroke-width="0.8"/>
<line x1="339.0" y1="345.90" x2="342.5" y2="345.90" stroke="#c8c8c8" stroke-width="0.8"/>
<line x1="339.0" y1="279.90" x2="342.5" y2="279.90" stroke="#c8c8c8" stroke-width="0.8"/>
<line x1="339.0" y1="246.90" x2="342.5" y2="246.90" stroke="#c8c8c8" stroke-width="0.8"/>
<line x1="339.0" y1="385.50" x2="341.0" y2="385.50" stroke="#c8c8c8" stroke-width="0.8"/>
<line x1="339.0" y1="372.30" x2="341.0" y2="372.30" stroke="#c8c8c8" stroke-width="0.8"/>
<line x1="339.0" y1="365.70" x2="341.0" y2="365.70" stroke="#c8c8c8" stroke-width="0.8"/>
<line x1="339.0" y1="359.10" x2="341.0" y2="359.10" stroke="#c8c8c8" stroke-width="0.8"/>
<line x1="339.0" y1="352.50" x2="341.0" y2="352.50" stroke="#c8c8c8" stroke-width="0.8"/>
<line x1="339.0" y1="339.30" x2="341.0" y2="339.30" stroke="#c8c8c8" stroke-width="0.8"/>
<line x1="339.0" y1="332.70" x2="341.0" y2="332.70" stroke="#c8c8c8" stroke-width="0.8"/>
<line x1="339.0" y1="326.10" x2="341.0" y2="326.10" stroke="#c8c8c8" stroke-width="0.8"/>
<line x1="339.0" y1="319.50" x2="341.0" y2="319.50" stroke="#c8c8c8" stroke-width="0.8"/>
<line x1="339.0" y1="306.30" x2="341.0" y2="306.30" stroke="#c8c8c8" stroke-width="0.8"/>
<line x1="339.0" y1="299.70" x2="341.0" y2="299.70" stroke="#c8c8c8" stroke-width="0.8"/>
<line x1="339.0" y1="293.10" x2="341.0" y2="293.10" stroke="#c8c8c8" stroke-width="0.8"/>
<line x1="339.0" y1="286.50" x2="341.0" y2="286.50" stroke="#c8c8c8" stroke-width="0.8"/>
<line x1="339.0" y1="273.30" x2="341.0" y2="273.30" stroke="#c8c8c8" stroke-width="0.8"/>
<line x1="339.0" y1="266.70" x2="341.0" y2="266.70" stroke="#c8c8c8" stroke-width="0.8"/>
<line x1="339.0" y1="260.10" x2="341.0" y2="260.10" stroke="#c8c8c8" stroke-width="0.8"/>
<line x1="339.0" y1="253.50" x2="341.0" y2="253.50" stroke="#c8c8c8" stroke-width="0.8"/>
<line x1="339.0" y1="240.30" x2="341.0" y2="240.30" stroke="#c8c8c8" stroke-width="0.8"/>
<line x1="410.00" y1="312.9" x2="410.00" y2="309.4" stroke="#c8c8c8" stroke-width="0.8"/>
<line x1="481.40" y1="312.9" x2="481.40" y2="309.4" stroke="#c8c8c8" stroke-width="0.8"/>
<line x1="552.80" y1="312.9" x2="552.80" y2="309.4" stroke="#c8c8c8" stroke-width="0.8"/>
<line x1="352.88" y1="312.9" x2="352.88" y2="310.9" stroke="#c8c8c8" stroke-width="0.8"/>
<line x1="367.16" y1="312.9" x2="367.16" y2="310.9" stroke="#c8c8c8" stroke-width="0.8"/>
<line x1="381.44" y1="312.9" x2="381.44" y2="310.9" stroke="#c8c8c8" stroke-width="0.8"/>
<line x1="395.72" y1="312.9" x2="395.72" y2="310.9" stroke="#c8c8c8" stroke-width="0.8"/>
<line x1="424.28" y1="312.9" x2="424.28" y2="310.9" stroke="#c8c8c8" stroke-width="0.8"/>
<line x1="438.56" y1="312.9" x2="438.56" y2="310.9" stroke="#c8c8c8" stroke-width="0.8"/>
<line x1="452.84" y1="312.9" x2="452.84" y2="310.9" stroke="#c8c8c8" stroke-width="0.8"/>
<line x1="467.12" y1="312.9" x2="467.12" y2="310.9" stroke="#c8c8c8" stroke-width="0.8"/>
<line x1="495.68" y1="312.9" x2="495.68" y2="310.9" stroke="#c8c8c8" stroke-width="0.8"/>
<line x1="509.96" y1="312.9" x2="509.96" y2="310.9" stroke="#c8c8c8" stroke-width="0.8"/>
<line x1="524.24" y1="312.9" x2="524.24" y2="310.9" stroke="#c8c8c8" stroke-width="0.8"/>
<line x1="538.52" y1="312.9" x2="538.52" y2="310.9" stroke="#c8c8c8" stroke-width="0.8"/>
<line x1="567.08" y1="312.9" x2="567.08" y2="310.9" stroke="#c8c8c8" stroke-width="0.8"/>
<line x1="402.86" y1="246.90" x2="417.14" y2="246.90" stroke="#62A0C6" stroke-width="2"/>
<line x1="417.14" y1="312.90" x2="431.42" y2="312.90" stroke="#62A0C6" stroke-width="2"/>
<line x1="474.26" y1="378.90" x2="488.54" y2="378.90" stroke="#62A0C6" stroke-width="2"/>
<line x1="488.54" y1="312.90" x2="502.82" y2="312.90" stroke="#62A0C6" stroke-width="2"/>
<line x1="337.60" y1="312.90" x2="417.14" y2="312.90" stroke="#F8A61E" stroke-width="2"/>
<line x1="417.14" y1="246.90" x2="431.42" y2="246.90" stroke="#F8A61E" stroke-width="2"/>
<line x1="431.42" y1="312.90" x2="488.54" y2="312.90" stroke="#F8A61E" stroke-width="2"/>
<line x1="488.54" y1="378.90" x2="502.82" y2="378.90" stroke="#F8A61E" stroke-width="2"/>
<line x1="502.82" y1="312.90" x2="567.08" y2="312.90" stroke="#F8A61E" stroke-width="2"/>
<line x1="540.0" y1="239.7" x2="567.4" y2="239.7" stroke="#62A0C6" stroke-width="2"/>
<line x1="540.0" y1="269.8" x2="567.4" y2="269.8" stroke="#F8A61E" stroke-width="2"/>
<line x1="576.3" y1="232.10" x2="576.3" y2="247.50" stroke="#333" stroke-width="1"/>
<text x="0" y="0" class="lgF" transform="translate(578.50,243.60) scale(1.16,1)">F</text>
<text x="588.60" y="246.70" class="lgs">e</text>
<path d="M597.90,232.10 L601.50,239.80 L597.90,247.50" fill="none" stroke="#333" stroke-width="0.9"/>
<line x1="576.3" y1="262.20" x2="576.3" y2="277.60" stroke="#333" stroke-width="1"/>
<text x="0" y="0" class="lgF" transform="translate(578.50,273.70) scale(1.16,1)">F</text>
<text x="588.60" y="276.80" class="lgs">g</text>
<path d="M597.90,262.20 L601.50,269.90 L597.90,277.60" fill="none" stroke="#333" stroke-width="0.9"/>
<text x="333.3" y="230" class="axl">C</text><text x="342.3" y="232" class="axs">l</text>
<text x="580.2" y="317.0" class="axl">l</text><text x="584.8" y="316.7" class="axl2">+</text><text x="591.2" y="317.0" class="axl">l</text><text x="593.7" y="319.0" class="axs">0</text>
<rect x="402.86" y="440.23" width="14.28" height="65.97" fill="#E6EAF7"/>
<rect x="417.14" y="506.20" width="14.28" height="65.97" fill="#E6EAF7"/>
<rect x="474.26" y="506.20" width="14.28" height="65.97" fill="#E6EAF7"/>
<rect x="488.54" y="440.23" width="14.28" height="65.97" fill="#E6EAF7"/>
<rect x="417.14" y="440.23" width="14.28" height="65.97" fill="#FDEFDF"/>
<rect x="431.42" y="506.20" width="14.28" height="65.97" fill="#FDEFDF"/>
<rect x="488.54" y="506.20" width="14.28" height="65.97" fill="#FDEFDF"/>
<rect x="502.82" y="440.23" width="14.28" height="65.97" fill="#FDEFDF"/>
<rect x="402.86" y="440.23" width="14.28" height="65.97" fill="none" stroke="#c9d1ee" stroke-width="0.8"/>
<rect x="417.14" y="506.20" width="14.28" height="65.97" fill="none" stroke="#c9d1ee" stroke-width="0.8"/>
<rect x="474.26" y="506.20" width="14.28" height="65.97" fill="none" stroke="#c9d1ee" stroke-width="0.8"/>
<rect x="488.54" y="440.23" width="14.28" height="65.97" fill="none" stroke="#c9d1ee" stroke-width="0.8"/>
<rect x="417.14" y="440.23" width="14.28" height="65.97" fill="none" stroke="#f0d6c0" stroke-width="0.8"/>
<rect x="431.42" y="506.20" width="14.28" height="65.97" fill="none" stroke="#f0d6c0" stroke-width="0.8"/>
<rect x="488.54" y="506.20" width="14.28" height="65.97" fill="none" stroke="#f0d6c0" stroke-width="0.8"/>
<rect x="502.82" y="440.23" width="14.28" height="65.97" fill="none" stroke="#f0d6c0" stroke-width="0.8"/>
<text x="335.7" y="566.48" text-anchor="end" class="tk">−0.6</text>
<text x="335.7" y="547.82" text-anchor="end" class="tk">−0.4</text>
<text x="335.7" y="529.16" text-anchor="end" class="tk">−0.2</text>
<text x="335.7" y="491.84" text-anchor="end" class="tk">0.2</text>
<text x="335.7" y="473.18" text-anchor="end" class="tk">0.4</text>
<text x="335.7" y="454.52" text-anchor="end" class="tk">0.6</text>
<text x="410.00" y="521.00" text-anchor="middle" class="tk">5</text>
<text x="481.40" y="521.00" text-anchor="middle" class="tk">10</text>
<text x="552.80" y="521.00" text-anchor="middle" class="tk">15</text>
<line x1="338.7" y1="433.4" x2="338.7" y2="579.4" stroke="#d9d9d9" stroke-width="1"/>
<line x1="334.31600000000003" y1="506.2" x2="572" y2="506.2" stroke="#d9d9d9" stroke-width="1"/>
<line x1="338.7" y1="562.18" x2="342.2" y2="562.18" stroke="#c8c8c8" stroke-width="0.8"/>
<line x1="338.7" y1="543.52" x2="342.2" y2="543.52" stroke="#c8c8c8" stroke-width="0.8"/>
<line x1="338.7" y1="524.86" x2="342.2" y2="524.86" stroke="#c8c8c8" stroke-width="0.8"/>
<line x1="338.7" y1="487.54" x2="342.2" y2="487.54" stroke="#c8c8c8" stroke-width="0.8"/>
<line x1="338.7" y1="468.88" x2="342.2" y2="468.88" stroke="#c8c8c8" stroke-width="0.8"/>
<line x1="338.7" y1="450.22" x2="342.2" y2="450.22" stroke="#c8c8c8" stroke-width="0.8"/>
<line x1="338.7" y1="576.17" x2="340.7" y2="576.17" stroke="#c8c8c8" stroke-width="0.8"/>
<line x1="338.7" y1="571.51" x2="340.7" y2="571.51" stroke="#c8c8c8" stroke-width="0.8"/>
<line x1="338.7" y1="566.84" x2="340.7" y2="566.84" stroke="#c8c8c8" stroke-width="0.8"/>
<line x1="338.7" y1="557.51" x2="340.7" y2="557.51" stroke="#c8c8c8" stroke-width="0.8"/>
<line x1="338.7" y1="552.85" x2="340.7" y2="552.85" stroke="#c8c8c8" stroke-width="0.8"/>
<line x1="338.7" y1="548.18" x2="340.7" y2="548.18" stroke="#c8c8c8" stroke-width="0.8"/>
<line x1="338.7" y1="538.85" x2="340.7" y2="538.85" stroke="#c8c8c8" stroke-width="0.8"/>
<line x1="338.7" y1="534.19" x2="340.7" y2="534.19" stroke="#c8c8c8" stroke-width="0.8"/>
<line x1="338.7" y1="529.52" x2="340.7" y2="529.52" stroke="#c8c8c8" stroke-width="0.8"/>
<line x1="338.7" y1="520.19" x2="340.7" y2="520.19" stroke="#c8c8c8" stroke-width="0.8"/>
<line x1="338.7" y1="515.53" x2="340.7" y2="515.53" stroke="#c8c8c8" stroke-width="0.8"/>
<line x1="338.7" y1="510.86" x2="340.7" y2="510.86" stroke="#c8c8c8" stroke-width="0.8"/>
<line x1="338.7" y1="501.53" x2="340.7" y2="501.53" stroke="#c8c8c8" stroke-width="0.8"/>
<line x1="338.7" y1="496.87" x2="340.7" y2="496.87" stroke="#c8c8c8" stroke-width="0.8"/>
<line x1="338.7" y1="492.20" x2="340.7" y2="492.20" stroke="#c8c8c8" stroke-width="0.8"/>
<line x1="338.7" y1="482.87" x2="340.7" y2="482.87" stroke="#c8c8c8" stroke-width="0.8"/>
<line x1="338.7" y1="478.21" x2="340.7" y2="478.21" stroke="#c8c8c8" stroke-width="0.8"/>
<line x1="338.7" y1="473.54" x2="340.7" y2="473.54" stroke="#c8c8c8" stroke-width="0.8"/>
<line x1="338.7" y1="464.21" x2="340.7" y2="464.21" stroke="#c8c8c8" stroke-width="0.8"/>
<line x1="338.7" y1="459.55" x2="340.7" y2="459.55" stroke="#c8c8c8" stroke-width="0.8"/>
<line x1="338.7" y1="454.88" x2="340.7" y2="454.88" stroke="#c8c8c8" stroke-width="0.8"/>
<line x1="338.7" y1="445.55" x2="340.7" y2="445.55" stroke="#c8c8c8" stroke-width="0.8"/>
<line x1="338.7" y1="440.89" x2="340.7" y2="440.89" stroke="#c8c8c8" stroke-width="0.8"/>
<line x1="338.7" y1="436.22" x2="340.7" y2="436.22" stroke="#c8c8c8" stroke-width="0.8"/>
<line x1="410.00" y1="506.2" x2="410.00" y2="502.7" stroke="#c8c8c8" stroke-width="0.8"/>
<line x1="481.40" y1="506.2" x2="481.40" y2="502.7" stroke="#c8c8c8" stroke-width="0.8"/>
<line x1="552.80" y1="506.2" x2="552.80" y2="502.7" stroke="#c8c8c8" stroke-width="0.8"/>
<line x1="352.88" y1="506.2" x2="352.88" y2="504.2" stroke="#c8c8c8" stroke-width="0.8"/>
<line x1="367.16" y1="506.2" x2="367.16" y2="504.2" stroke="#c8c8c8" stroke-width="0.8"/>
<line x1="381.44" y1="506.2" x2="381.44" y2="504.2" stroke="#c8c8c8" stroke-width="0.8"/>
<line x1="395.72" y1="506.2" x2="395.72" y2="504.2" stroke="#c8c8c8" stroke-width="0.8"/>
<line x1="424.28" y1="506.2" x2="424.28" y2="504.2" stroke="#c8c8c8" stroke-width="0.8"/>
<line x1="438.56" y1="506.2" x2="438.56" y2="504.2" stroke="#c8c8c8" stroke-width="0.8"/>
<line x1="452.84" y1="506.2" x2="452.84" y2="504.2" stroke="#c8c8c8" stroke-width="0.8"/>
<line x1="467.12" y1="506.2" x2="467.12" y2="504.2" stroke="#c8c8c8" stroke-width="0.8"/>
<line x1="495.68" y1="506.2" x2="495.68" y2="504.2" stroke="#c8c8c8" stroke-width="0.8"/>
<line x1="509.96" y1="506.2" x2="509.96" y2="504.2" stroke="#c8c8c8" stroke-width="0.8"/>
<line x1="524.24" y1="506.2" x2="524.24" y2="504.2" stroke="#c8c8c8" stroke-width="0.8"/>
<line x1="538.52" y1="506.2" x2="538.52" y2="504.2" stroke="#c8c8c8" stroke-width="0.8"/>
<line x1="567.08" y1="506.2" x2="567.08" y2="504.2" stroke="#c8c8c8" stroke-width="0.8"/>
<line x1="402.86" y1="440.23" x2="417.14" y2="440.23" stroke="#62A0C6" stroke-width="2"/>
<line x1="417.14" y1="572.17" x2="431.42" y2="572.17" stroke="#62A0C6" stroke-width="2"/>
<line x1="431.42" y1="506.20" x2="445.70" y2="506.20" stroke="#62A0C6" stroke-width="2"/>
<line x1="474.26" y1="572.17" x2="488.54" y2="572.17" stroke="#62A0C6" stroke-width="2"/>
<line x1="488.54" y1="440.23" x2="502.82" y2="440.23" stroke="#62A0C6" stroke-width="2"/>
<line x1="502.82" y1="506.20" x2="517.10" y2="506.20" stroke="#62A0C6" stroke-width="2"/>
<line x1="337.60" y1="506.20" x2="417.14" y2="506.20" stroke="#F8A61E" stroke-width="2"/>
<line x1="417.14" y1="440.23" x2="431.42" y2="440.23" stroke="#F8A61E" stroke-width="2"/>
<line x1="431.42" y1="572.17" x2="445.70" y2="572.17" stroke="#F8A61E" stroke-width="2"/>
<line x1="445.70" y1="506.20" x2="488.54" y2="506.20" stroke="#F8A61E" stroke-width="2"/>
<line x1="488.54" y1="572.17" x2="502.82" y2="572.17" stroke="#F8A61E" stroke-width="2"/>
<line x1="502.82" y1="440.23" x2="517.10" y2="440.23" stroke="#F8A61E" stroke-width="2"/>
<line x1="517.10" y1="506.20" x2="567.08" y2="506.20" stroke="#F8A61E" stroke-width="2"/>
<line x1="540.0" y1="430.4" x2="567.4" y2="430.4" stroke="#62A0C6" stroke-width="2"/>
<line x1="540.0" y1="460.5" x2="567.4" y2="460.5" stroke="#F8A61E" stroke-width="2"/>
<line x1="576.3" y1="422.80" x2="576.3" y2="438.20" stroke="#333" stroke-width="1"/>
<text x="0" y="0" class="lgF" transform="translate(578.50,434.30) scale(1.16,1)">F</text>
<text x="588.60" y="437.40" class="lgs">e</text>
<path d="M597.90,422.80 L601.50,430.50 L597.90,438.20" fill="none" stroke="#333" stroke-width="0.9"/>
<line x1="576.3" y1="452.90" x2="576.3" y2="468.30" stroke="#333" stroke-width="1"/>
<text x="0" y="0" class="lgF" transform="translate(578.50,464.40) scale(1.16,1)">F</text>
<text x="588.60" y="467.50" class="lgs">g</text>
<path d="M597.90,452.90 L601.50,460.60 L597.90,468.30" fill="none" stroke="#333" stroke-width="0.9"/>
<text x="333.5" y="423.1" class="axl">C</text><text x="342.5" y="425.1" class="axs">l</text>
<text x="580.2" y="510.5" class="axl">l</text><text x="584.8" y="510.2" class="axl2">+</text><text x="591.2" y="510.5" class="axl">l</text><text x="593.7" y="512.5" class="axs">0</text>
</svg></body></html>
